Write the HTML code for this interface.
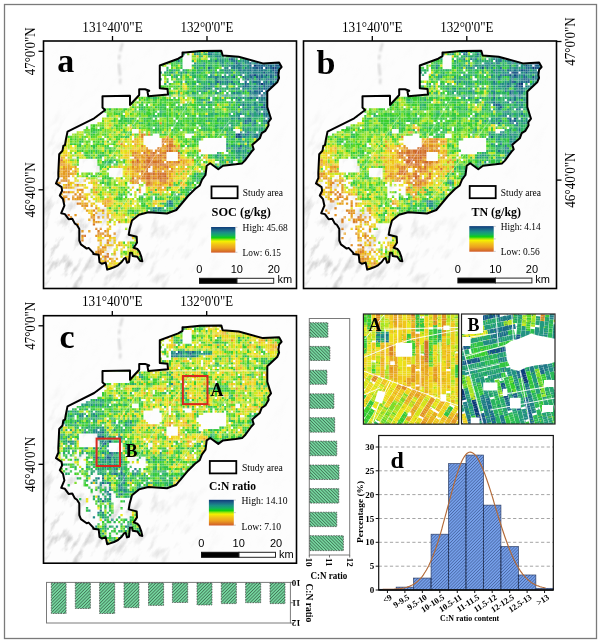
<!DOCTYPE html><html><head><meta charset="utf-8"><title>SOC TN C:N maps</title><style>html,body{margin:0;padding:0;background:#fff;}svg{display:block;will-change:transform;}</style></head><body>
<svg width="600" height="644" viewBox="0 0 600 644">
<defs>
<filter id="soft" x="-5%" y="-5%" width="110%" height="110%"><feGaussianBlur stdDeviation="0.65"/></filter>
<filter id="hs" x="-5%" y="-5%" width="110%" height="110%"><feGaussianBlur stdDeviation="0.7"/></filter>
<filter id="hs2" x="-50%" y="-10%" width="200%" height="120%"><feGaussianBlur stdDeviation="1"/></filter>
<filter id="soft2" x="-5%" y="-5%" width="110%" height="110%"><feGaussianBlur stdDeviation="0.4"/></filter>
<pattern id="rgrid" patternUnits="userSpaceOnUse" width="5.6" height="5.3"><path d="M0 0.3H5.6M0.3 0V5.3" stroke="#fff" stroke-width="0.6" stroke-opacity="0.4"/></pattern>
<clipPath id="frameclip"><rect x="44" y="41.5" width="252" height="246.5"/></clipPath>
<filter id="hillf" filterUnits="userSpaceOnUse" x="-60" y="-60" width="460" height="460"><feTurbulence type="fractalNoise" baseFrequency="0.05 0.13" numOctaves="4" seed="8"/><feColorMatrix type="matrix" values="0 0 0 0 0.5  0 0 0 0 0.5  0 0 0 0 0.5  -3 0 0 0 1.45"/><feGaussianBlur stdDeviation="0.4"/></filter>
<radialGradient id="hm" cx="62" cy="268" r="160" gradientUnits="userSpaceOnUse"><stop offset="0" stop-color="#fff" stop-opacity="0.85"/><stop offset="0.5" stop-color="#fff" stop-opacity="0.5"/><stop offset="1" stop-color="#fff" stop-opacity="0.03"/></radialGradient>
<mask id="hmask" maskUnits="userSpaceOnUse" x="0" y="0" width="600" height="644"><rect x="0" y="0" width="600" height="644" fill="url(#hm)"/></mask>
<clipPath id="clipmap"><path d="M182.5,52.6 L185.0,52.5 L200.0,51.0 L221.3,50.7 L222.7,55.5 L238.7,56.8 L262.9,63.4 L279.1,62.6 L281.6,67.1 L279.1,69.8 L278.4,74.8 L279.1,77.9 L277.2,82.3 L267.3,91.6 L267.3,107.1 L269.8,115.0 L271.0,118.7 L268.2,122.4 L268.6,125.2 L265.4,130.8 L261.7,133.2 L259.8,138.3 L252.3,144.8 L253.7,149.4 L251.4,151.8 L244.9,160.6 L242.1,163.4 L235.6,164.3 L223.0,165.7 L218.3,169.2 L210.2,163.3 L206.7,165.7 L205.5,175.0 L202.0,179.7 L199.7,185.5 L195.0,189.0 L188.0,196.0 L182.2,203.0 L176.3,210.0 L167.0,213.5 L148.3,212.3 L139.0,214.7 L132.0,220.5 L129.7,228.7 L128.7,234.7 L136.7,236.7 L137.0,242.7 L133.7,247.7 L137.3,249.0 L139.3,251.3 L141.3,256.7 L142.3,261.3 L140.0,260.7 L137.3,256.7 L132.7,256.0 L132.0,252.7 L130.0,252.7 L129.7,255.3 L129.0,262.0 L127.0,262.7 L125.7,258.0 L124.0,258.7 L121.7,262.0 L118.0,265.3 L114.0,267.3 L110.0,268.7 L107.2,269.6 L105.7,262.6 L101.8,263.8 L99.5,262.2 L98.7,254.8 L93.3,254.1 L93.3,252.9 L88.6,247.9 L86.7,248.6 L80.9,244.4 L79.3,240.5 L79.3,228.9 L77.0,225.0 L74.7,223.4 L72.3,218.8 L68.6,219.2 L64.9,214.1 L61.2,213.2 L64.4,205.7 L63.0,199.2 L59.8,195.5 L62.1,190.8 L61.6,187.1 L56.0,183.4 L58.4,177.8 L58.3,173.3 L59.2,154.2 L62.5,150.8 L63.3,145.8 L65.0,145.0 L65.8,140.0 L67.5,131.7 L94.2,118.3 L104.2,110.8 L105.0,110.0 L102.5,107.5 L102.5,96.3 L130.0,95.8 L130.0,105.0 L139.2,95.0 L139.2,89.2 L145.0,89.2 L149.2,90.8 L147.5,91.7 L148.3,96.3 L168.0,94.6 L167.5,89.0 L159.8,88.2 L159.8,65.5 L178.2,58.7 L182.5,56.1 Z"/></clipPath>
<linearGradient id="cbar" x1="0" y1="0" x2="0" y2="1"><stop offset="0" stop-color="#0d3a78"/><stop offset="0.1" stop-color="#1c6088"/><stop offset="0.22" stop-color="#1a9086"/><stop offset="0.33" stop-color="#14b060"/><stop offset="0.42" stop-color="#10d010"/><stop offset="0.5" stop-color="#a8e808"/><stop offset="0.56" stop-color="#f4f000"/><stop offset="0.68" stop-color="#f2c418"/><stop offset="0.82" stop-color="#eca020"/><stop offset="1" stop-color="#cf5a2a"/></linearGradient>
<pattern id="hg1" patternUnits="userSpaceOnUse" width="2.3" height="2.3" patternTransform="rotate(45)"><rect width="2.3" height="2.3" fill="#74d69e"/><rect width="0.7" height="2.3" fill="#3d6a50"/></pattern>
<pattern id="hg2" patternUnits="userSpaceOnUse" width="2.3" height="2.3" patternTransform="rotate(-45)"><rect width="2.3" height="2.3" fill="#74d69e"/><rect width="0.7" height="2.3" fill="#3d6a50"/></pattern>
<pattern id="hb" patternUnits="userSpaceOnUse" width="2.2" height="2.2" patternTransform="rotate(45)"><rect width="2.2" height="2.2" fill="#76a0ea"/><rect width="0.65" height="2.2" fill="#43619e"/></pattern>
</defs>
<rect x="0" y="0" width="600" height="644" fill="#fff"/>
<rect x="4.5" y="4.5" width="592" height="634" fill="none" stroke="#7a7a7a" stroke-width="1.3"/>
<g transform="translate(0,0)">
<rect x="43.5" y="41" width="253" height="247.5" fill="#fdfdfd"/>
<g clip-path="url(#frameclip)"><g mask="url(#hmask)"><rect x="-60" y="-60" width="460" height="460" filter="url(#hillf)" transform="rotate(-58 170 165)"/></g></g>
<path d="M122.5,43 C120,52 118.5,58 119,66 C119.5,72 121,78 120,84" fill="none" stroke="#a8a8a8" stroke-width="2" stroke-opacity="0.5" stroke-dasharray="9,3,5,4,12,3" filter="url(#hs2)"/>
<g clip-path="url(#clipmap)"><g filter="url(#soft)"><g transform="translate(56.00,51.85) scale(2.3,2.3)" fill="none" stroke-width="1">
<path stroke="#0b3878" d="M94 7h1"/>
<path stroke="#0b3878" d="M86 6h1M89 14h1M79 36h1"/>
<path stroke="#0b3878" d="M95 7h1M98 7h1"/>
<path stroke="#0b3878" d="M96 9h1M78 37h1"/>
<path stroke="#0b3878" d="M95 5h1"/>
<path stroke="#0e3f7b" d="M87 7h1M95 9h1M86 10h1M96 12h1M89 19h1"/>
<path stroke="#11477f" d="M78 5h1M97 6h1M91 10h1M87 11h1M88 12h1M94 14h1M78 36h1"/>
<path stroke="#144e82" d="M97 5h1M91 7h1M90 9h1M96 11h1M88 16h1"/>
<path stroke="#185585" d="M75 3h1M94 8h1M85 10h1M77 11h1M83 12h1M91 17h1M87 20h1M89 24h1M90 24h1M92 24h1M79 37h1M80 37h1M80 41h1"/>
<path stroke="#1b5d89" d="M76 3h1M82 3h1M84 6h1M87 6h1M88 6h1M92 6h1M95 6h1M96 6h1M89 7h1M95 8h1M84 10h1M95 10h1M70 13h1M91 13h1M93 13h1M82 14h1M90 14h1M82 15h1M90 15h1M92 15h1M93 15h1M87 17h1M88 18h1M91 19h1M92 26h1M79 42h1M49 65h1"/>
<path stroke="#1e648c" d="M66 1h1M84 5h1M87 5h1M89 6h1M90 6h1M93 6h1M66 7h1M88 7h1M93 7h1M89 10h1M93 10h1M72 11h1M89 11h1M93 11h1M95 12h1M88 14h1M81 15h1M90 16h1M84 17h1M86 17h1M89 17h1M90 23h1M90 27h1M92 29h1M82 30h1M84 30h1M82 31h1M82 36h1M87 39h1M75 42h1"/>
<path stroke="#1f6c8a" d="M84 3h1M78 4h1M85 4h1M88 4h1M90 5h1M92 5h1M80 6h1M85 7h1M86 7h1M97 7h1M84 8h1M88 8h1M97 8h1M84 11h1M85 11h1M88 11h1M85 12h1M92 12h1M82 13h1M93 14h1M83 15h1M92 16h1M78 20h1M84 20h1M85 20h1M90 20h1M91 21h1M66 22h1M81 23h1M91 25h1M91 28h1M91 30h1M92 31h1M83 35h1M80 36h1M87 36h1M87 37h1"/>
<path stroke="#1f7389" d="M66 0h1M67 1h1M53 4h1M77 4h1M94 5h1M75 6h1M77 6h1M77 7h1M79 7h1M82 7h1M96 7h1M80 8h1M86 8h1M89 8h1M96 8h1M80 10h1M87 10h1M96 10h1M81 11h1M91 12h1M94 12h1M71 13h1M74 13h1M76 13h1M85 13h1M86 13h1M87 13h1M88 13h1M83 14h1M86 15h1M88 15h1M66 16h1M91 16h1M93 16h1M71 17h1M88 17h1M77 18h1M85 18h1M87 18h1M86 19h1M80 27h1M88 27h1M93 28h1M79 29h1M83 29h1M84 29h1M93 29h1M86 31h1M85 32h1M80 42h1M49 66h1"/>
<path stroke="#207b87" d="M83 3h1M69 4h1M93 5h1M72 6h1M84 7h1M92 7h1M75 8h1M79 8h1M83 8h1M85 8h1M87 8h1M93 8h1M68 9h1M92 9h1M93 9h1M88 10h1M94 10h1M68 11h1M82 11h1M82 12h1M93 12h1M77 14h1M87 14h1M91 14h1M70 16h1M78 16h1M81 17h1M86 18h1M91 18h1M84 19h1M90 19h1M79 21h1M88 22h1M89 22h1M90 22h1M91 24h1M82 25h1M86 25h1M87 25h1M87 26h1M90 26h1M85 28h1M92 28h1M83 36h1M89 36h1M86 37h1M83 44h1M81 46h1M42 69h1"/>
<path stroke="#208386" d="M54 1h1M70 2h1M71 2h1M78 2h1M77 3h1M82 4h1M79 5h1M82 5h1M88 5h1M89 5h1M96 5h1M78 6h1M79 6h1M91 6h1M94 6h1M74 7h1M78 7h1M80 7h1M73 8h1M90 8h1M91 8h1M56 9h1M74 9h1M81 9h1M85 9h1M86 9h1M87 9h1M88 9h1M94 9h1M69 11h1M70 11h1M94 11h1M69 12h1M87 12h1M69 13h1M67 14h1M71 14h1M92 14h1M68 15h1M91 15h1M81 16h1M87 16h1M89 16h1M90 18h1M73 19h1M74 19h1M87 19h1M89 20h1M89 21h1M91 22h1M83 23h1M79 24h1M84 24h1M90 25h1M85 27h1M91 27h1M92 27h1M90 28h1M83 30h1M90 30h1M85 31h1M80 35h1M84 35h1M86 36h1M89 37h1M88 38h1M74 40h1M74 42h1M83 42h1M78 43h1M78 46h1M50 66h1"/>
<path stroke="#218a84" d="M67 0h1M68 0h1M70 0h1M60 1h1M77 2h1M71 4h1M76 4h1M83 4h1M60 5h1M64 5h1M80 5h1M83 5h1M86 5h1M61 7h1M76 7h1M81 8h1M82 8h1M50 9h1M61 9h1M83 9h1M89 9h1M75 10h1M77 10h1M83 10h1M92 10h1M73 11h1M90 11h1M91 11h1M75 13h1M79 13h1M90 13h1M94 13h1M69 14h1M74 14h1M84 15h1M94 15h1M65 16h1M83 16h1M64 17h1M84 18h1M76 19h1M79 19h1M80 20h1M83 20h1M88 20h1M63 21h1M86 22h1M86 23h1M81 24h1M83 25h1M88 26h1M91 26h1M75 27h1M84 27h1M79 28h1M76 29h1M86 30h1M81 31h1M83 31h1M81 33h1M89 35h1M85 37h1M77 42h1M79 43h1M70 45h1M44 68h1M45 68h1M52 68h1M44 69h1M45 70h1"/>
<path stroke="#229283" d="M68 1h1M69 2h1M70 3h1M72 4h1M81 4h1M72 5h1M74 5h1M91 5h1M76 6h1M81 6h1M83 6h1M64 7h1M73 7h1M83 7h1M51 8h1M77 8h1M45 9h1M80 9h1M84 9h1M91 9h1M51 10h1M67 10h1M66 11h1M67 11h1M83 11h1M73 12h1M74 12h1M72 13h1M95 13h1M65 15h1M67 15h1M69 16h1M79 16h1M85 16h1M86 16h1M83 17h1M78 18h1M79 18h1M80 19h1M66 20h1M85 23h1M87 23h1M81 25h1M92 25h1M84 26h1M87 27h1M90 31h1M89 33h1M88 34h1M74 36h1M85 36h1M81 37h1M82 37h1M78 41h1M81 43h1M81 45h1M79 46h1M82 46h1M72 47h1M81 47h1M82 47h1M63 56h1M48 65h1M42 68h1"/>
<path stroke="#23997e" d="M53 2h1M79 2h1M71 3h1M75 4h1M80 4h1M71 5h1M77 5h1M85 5h1M63 6h1M64 6h1M67 7h1M48 8h1M63 8h1M75 9h1M76 9h1M82 9h1M90 10h1M76 11h1M84 12h1M89 12h1M66 13h1M73 13h1M68 14h1M73 14h1M95 14h1M80 15h1M85 15h1M87 15h1M76 16h1M77 16h1M82 16h1M85 17h1M59 18h1M69 18h1M68 19h1M72 19h1M82 19h1M85 19h1M81 20h1M91 20h1M88 21h1M90 21h1M67 22h1M81 22h1M80 23h1M84 23h1M83 24h1M86 24h1M87 24h1M88 24h1M78 26h1M80 26h1M78 27h1M79 27h1M65 28h1M78 28h1M82 29h1M92 30h1M91 31h1M76 33h1M83 33h1M81 34h1M85 35h1M88 35h1M83 37h1M88 37h1M80 39h1M83 39h1M83 40h1M76 41h1M82 41h1M78 42h1M82 42h1M82 43h1M71 45h1M75 48h1M71 49h1M71 51h1M61 53h1M50 65h1M48 66h1M48 67h1M50 67h1M53 67h1M43 68h1M41 70h1M46 70h1"/>
<path stroke="#25a077" d="M61 1h1M70 1h1M72 1h1M67 2h1M76 2h1M72 3h1M67 4h1M86 4h1M62 6h1M66 8h1M68 8h1M74 8h1M92 8h1M54 9h1M70 9h1M73 9h1M78 9h1M54 10h1M51 11h1M71 12h1M78 12h1M90 12h1M56 13h1M67 13h1M92 13h1M96 13h1M80 14h1M81 14h1M85 14h1M64 15h1M74 15h1M64 16h1M74 16h1M61 17h1M68 17h1M78 17h1M80 18h1M60 19h1M82 20h1M86 20h1M71 21h1M78 22h1M79 22h1M83 22h1M91 23h1M81 26h1M86 26h1M86 27h1M86 28h1M87 28h1M88 28h1M77 29h1M81 29h1M90 29h1M76 32h1M84 33h1M86 33h1M75 34h1M82 34h1M83 34h1M90 34h1M74 35h1M82 35h1M81 36h1M88 36h1M80 38h1M81 39h1M77 41h1M81 41h1M84 42h1M80 43h1M78 44h1M79 44h1M81 44h1M84 44h1M75 45h1M79 45h1M70 46h1M76 49h1M71 50h1M60 54h1M61 56h1M46 66h1M49 67h1M45 69h1M43 70h1"/>
<path stroke="#27a670" d="M61 0h1M55 1h1M62 1h1M69 1h1M71 1h1M68 2h1M52 3h1M73 3h1M61 5h1M67 6h1M82 6h1M55 8h1M47 9h1M49 9h1M62 9h1M78 10h1M82 10h1M92 11h1M61 12h1M70 12h1M75 12h1M48 13h1M61 13h1M62 13h1M65 13h1M84 13h1M57 14h1M64 14h1M76 14h1M66 15h1M89 15h1M63 16h1M67 16h1M73 16h1M62 17h1M65 17h1M70 18h1M53 19h1M75 19h1M71 20h1M73 20h1M77 20h1M84 21h1M63 22h1M65 22h1M75 22h1M80 22h1M85 22h1M87 22h1M78 23h1M82 23h1M63 24h1M66 24h1M78 25h1M84 25h1M89 25h1M45 26h1M77 26h1M69 27h1M82 27h1M66 28h1M77 28h1M82 28h1M70 29h1M71 29h1M87 29h1M65 30h1M70 30h1M81 30h1M85 30h1M75 31h1M76 31h1M73 32h1M86 32h1M71 33h1M72 33h1M75 33h1M88 33h1M76 34h1M86 34h1M90 35h1M76 36h1M84 36h1M77 38h1M83 41h1M76 43h1M68 45h1M78 45h1M80 45h1M76 46h1M69 50h1M64 53h1M64 54h1M61 55h1M62 56h1M51 62h1M53 62h1M53 64h1M55 65h1M54 67h1"/>
<path stroke="#28ad69" d="M54 0h1M56 0h1M58 0h1M60 0h1M72 0h1M66 2h1M53 3h1M67 3h1M81 3h1M50 4h1M63 4h1M66 4h1M68 4h1M70 4h1M73 4h1M61 6h1M74 6h1M71 8h1M72 8h1M53 9h1M59 9h1M67 9h1M59 10h1M68 10h1M73 10h1M60 11h1M74 11h1M75 11h1M86 11h1M45 12h1M59 14h1M60 14h1M63 14h1M72 14h1M84 14h1M61 15h1M71 16h1M76 18h1M49 19h1M66 19h1M77 19h1M76 20h1M62 21h1M64 21h1M68 21h1M83 21h1M82 22h1M75 23h1M54 24h1M77 24h1M68 25h1M88 25h1M68 26h1M82 26h1M85 26h1M67 27h1M68 27h1M75 28h1M76 28h1M83 28h1M84 28h1M74 29h1M78 29h1M86 29h1M93 30h1M44 32h1M70 32h1M78 32h1M88 32h1M90 32h1M64 33h1M85 34h1M89 34h1M72 35h1M86 35h1M75 37h1M61 38h1M74 38h1M85 42h1M74 43h1M85 43h1M70 44h1M82 44h1M72 46h1M76 47h1M22 48h1M73 48h1M76 48h1M69 49h1M63 55h1M57 61h1M46 69h1M47 69h1M34 70h1"/>
<path stroke="#2ab361" d="M64 0h1M69 0h1M71 0h1M64 1h1M65 1h1M63 2h1M72 2h1M80 2h1M68 3h1M74 3h1M78 3h1M80 3h1M52 4h1M67 5h1M69 5h1M75 5h1M81 5h1M59 6h1M60 6h1M66 6h1M68 7h1M50 8h1M56 8h1M61 8h1M62 8h1M78 8h1M48 10h1M49 10h1M58 10h1M60 10h1M79 10h1M52 11h1M54 11h1M65 11h1M71 11h1M95 11h1M66 12h1M68 12h1M76 12h1M81 12h1M51 13h1M54 13h1M63 13h1M47 14h1M65 14h1M78 14h1M62 15h1M71 15h1M79 15h1M72 16h1M84 16h1M63 17h1M60 18h1M57 19h1M58 19h1M42 20h1M61 20h1M61 21h1M86 21h1M76 22h1M84 22h1M68 23h1M74 24h1M75 24h1M37 25h1M51 25h1M38 26h1M66 26h1M76 26h1M45 27h1M52 27h1M81 27h1M89 27h1M42 28h1M45 28h1M47 28h1M62 28h1M64 28h1M73 29h1M88 29h1M66 30h1M74 30h1M77 30h1M79 30h1M36 31h1M78 31h1M79 31h1M84 31h1M51 32h1M63 32h1M69 32h1M77 32h1M81 32h1M92 32h1M63 33h1M69 33h1M82 33h1M85 33h1M87 33h1M50 34h1M64 34h1M87 34h1M16 35h1M76 38h1M79 38h1M83 38h1M87 38h1M77 40h1M81 40h1M74 41h1M79 41h1M77 43h1M84 43h1M77 44h1M80 44h1M69 45h1M83 45h1M15 46h1M69 46h1M79 47h1M23 48h1M71 48h1M77 49h1M70 50h1M70 51h1M63 53h1M58 57h1M58 60h1M41 61h1M54 62h1M37 63h1M48 63h1M54 66h1M47 67h1M41 68h1M51 68h1M41 69h1M43 69h1"/>
<path stroke="#2cba5a" d="M62 0h1M62 2h1M59 4h1M52 5h1M54 5h1M63 5h1M69 6h1M71 6h1M73 6h1M48 7h1M60 7h1M81 7h1M51 9h1M55 9h1M58 9h1M79 9h1M61 11h1M62 12h1M65 12h1M72 12h1M59 13h1M64 13h1M68 13h1M77 13h1M78 13h1M86 14h1M59 15h1M58 16h1M60 16h1M57 17h1M73 17h1M76 17h1M79 17h1M53 18h1M63 18h1M67 18h1M74 18h1M59 19h1M71 19h1M78 19h1M43 20h1M51 20h1M68 20h1M79 20h1M70 21h1M72 21h1M78 21h1M82 21h1M61 22h1M62 22h1M68 22h1M70 22h1M46 23h1M63 23h1M37 24h1M43 24h1M53 24h1M56 24h1M23 25h1M36 25h1M45 25h1M56 25h1M64 25h1M75 25h1M46 26h1M70 27h1M43 28h1M67 28h1M68 28h1M33 29h1M38 29h1M58 29h1M66 29h1M80 29h1M85 29h1M31 30h1M59 30h1M67 30h1M72 30h1M73 30h1M76 30h1M80 30h1M74 31h1M77 31h1M87 31h1M89 31h1M65 32h1M74 32h1M44 33h1M90 33h1M84 34h1M59 35h1M77 35h1M66 36h1M30 37h1M84 37h1M62 38h1M75 38h1M10 39h1M74 39h1M78 39h1M79 39h1M57 41h1M85 41h1M18 45h1M77 45h1M82 45h1M25 47h1M21 48h1M24 48h1M26 48h1M69 51h1M60 53h1M65 54h1M22 57h1M22 58h1M56 59h1M44 62h1M41 63h1M43 63h1M43 64h1M51 64h1M54 65h1M46 68h1M48 69h1M52 69h1M42 70h1M33 72h1M35 83h1M33 84h1"/>
<path stroke="#2fc04e" d="M74 2h1M75 2h1M54 3h1M51 4h1M61 4h1M64 4h1M74 4h1M79 4h1M62 5h1M68 5h1M73 5h1M76 5h1M54 6h1M53 8h1M59 8h1M64 8h1M60 9h1M71 9h1M72 9h1M64 10h1M65 10h1M70 10h1M59 11h1M52 12h1M77 12h1M79 12h1M86 12h1M54 14h1M79 14h1M53 15h1M58 15h1M63 15h1M45 16h1M61 16h1M75 16h1M67 17h1M80 17h1M51 18h1M81 18h1M22 19h1M27 19h1M63 19h1M32 20h1M41 20h1M60 20h1M65 20h1M48 21h1M65 21h1M80 21h1M85 21h1M37 22h1M36 23h1M56 23h1M65 23h1M88 23h1M89 23h1M45 24h1M46 24h1M64 24h1M67 24h1M82 24h1M62 25h1M65 25h1M85 25h1M47 26h1M60 26h1M27 27h1M57 27h1M66 27h1M36 28h1M40 28h1M59 28h1M30 29h1M32 29h1M57 29h1M62 29h1M64 29h1M75 29h1M71 30h1M75 30h1M89 30h1M37 31h1M40 31h1M33 32h1M40 32h1M71 32h1M83 32h1M84 32h1M41 33h1M53 33h1M73 33h1M92 33h1M43 34h1M44 34h1M57 34h1M65 34h1M66 34h1M72 34h1M73 34h1M74 34h1M45 35h1M58 35h1M61 35h1M75 35h1M76 35h1M32 36h1M69 36h1M75 36h1M31 37h1M66 37h1M71 37h1M77 37h1M82 38h1M82 39h1M10 40h1M20 40h1M80 40h1M10 41h1M16 41h1M75 41h1M16 42h1M81 42h1M17 43h1M21 43h1M23 43h1M15 44h1M71 44h1M19 45h1M20 45h1M61 45h1M76 45h1M19 46h1M66 46h1M68 46h1M71 46h1M71 47h1M74 47h1M75 47h1M20 48h1M61 48h1M21 49h1M26 49h1M72 49h1M72 50h1M15 54h1M61 54h1M62 54h1M60 55h1M64 55h1M20 57h1M51 58h1M57 59h1M60 59h1M54 60h1M56 60h1M59 61h1M27 62h1M56 62h1M58 62h1M52 63h1M56 63h1M57 63h1M52 65h1M55 66h1M39 67h1M49 69h1M31 70h1M44 70h1M49 70h1"/>
<path stroke="#32c543" d="M54 4h1M65 4h1M87 4h1M50 5h1M53 5h1M65 5h1M50 6h1M54 7h1M62 7h1M52 8h1M67 8h1M76 8h1M48 9h1M57 9h1M64 9h1M52 10h1M61 10h1M71 10h1M57 11h1M62 11h1M64 11h1M53 12h1M56 12h1M67 12h1M58 13h1M49 14h1M51 15h1M58 17h1M59 17h1M69 17h1M72 17h1M75 17h1M49 18h1M56 18h1M57 18h1M61 18h1M66 18h1M71 18h1M21 19h1M24 19h1M62 19h1M39 21h1M42 21h1M50 21h1M53 21h1M76 21h1M33 22h1M52 22h1M71 22h1M47 23h1M61 23h1M66 23h1M77 23h1M38 24h1M47 24h1M50 24h1M52 24h1M60 24h1M78 24h1M47 25h1M54 25h1M67 25h1M70 25h1M76 25h1M80 25h1M43 26h1M55 26h1M62 26h1M65 26h1M18 27h1M56 27h1M72 27h1M77 27h1M22 28h1M28 28h1M29 28h1M41 28h1M49 28h1M54 28h1M28 29h1M29 29h1M31 29h1M39 29h1M40 29h1M41 29h1M43 29h1M55 29h1M59 29h1M63 29h1M72 29h1M89 29h1M27 30h1M28 30h1M30 30h1M38 30h1M42 30h1M53 30h1M62 30h1M63 30h1M68 30h1M88 30h1M48 31h1M52 31h1M53 31h1M54 31h1M57 31h1M60 31h1M61 31h1M62 31h1M63 31h1M64 31h1M73 31h1M9 32h1M42 32h1M43 32h1M46 32h1M48 32h1M49 32h1M54 32h1M55 32h1M58 32h1M64 32h1M72 32h1M82 32h1M87 32h1M20 33h1M36 33h1M48 33h1M65 33h1M70 33h1M74 33h1M16 34h1M17 34h1M29 34h1M41 34h1M51 34h1M55 34h1M71 34h1M29 35h1M31 35h1M43 35h1M47 35h1M70 35h1M15 36h1M62 36h1M77 36h1M28 37h1M53 37h1M61 37h1M69 37h1M11 38h1M19 38h1M60 38h1M85 38h1M22 39h1M60 39h1M77 39h1M58 40h1M75 40h1M78 40h1M21 42h1M22 42h1M83 43h1M17 44h1M20 44h1M58 44h1M75 44h1M12 45h1M13 45h1M59 45h1M66 45h1M73 45h1M74 45h1M84 45h1M9 46h1M14 46h1M17 46h1M67 46h1M23 47h1M24 47h1M70 47h1M29 48h1M22 49h1M25 49h1M63 54h1M22 55h1M59 55h1M62 55h1M20 56h1M60 56h1M59 57h1M61 57h1M52 58h1M58 58h1M62 58h1M23 59h1M54 59h1M43 60h1M57 60h1M29 62h1M27 63h1M51 63h1M44 64h1M46 64h1M41 65h1M52 66h1M23 68h1M39 68h1M40 68h1M25 69h1M31 69h1M32 69h1M35 69h1M39 70h1M36 89h1"/>
<path stroke="#35ca38" d="M62 3h1M69 3h1M49 4h1M62 4h1M46 5h1M51 5h1M66 5h1M51 6h1M68 6h1M70 6h1M52 7h1M69 7h1M49 8h1M65 8h1M63 9h1M69 9h1M47 10h1M62 10h1M63 10h1M54 12h1M57 12h1M58 12h1M63 12h1M53 13h1M75 14h1M48 15h1M77 15h1M51 16h1M62 16h1M77 17h1M50 18h1M64 18h1M82 18h1M23 19h1M28 19h1M61 19h1M67 19h1M39 20h1M40 20h1M44 20h1M62 20h1M69 20h1M75 20h1M36 21h1M45 21h1M46 21h1M49 21h1M69 21h1M32 22h1M42 22h1M45 22h1M51 22h1M60 22h1M73 22h1M37 23h1M39 23h1M45 23h1M50 23h1M51 23h1M55 23h1M57 23h1M62 23h1M64 23h1M67 23h1M33 24h1M36 24h1M41 24h1M73 24h1M85 24h1M21 25h1M29 25h1M30 25h1M42 25h1M46 25h1M49 25h1M52 25h1M55 25h1M61 25h1M63 25h1M66 25h1M28 26h1M29 26h1M34 26h1M36 26h1M42 26h1M49 26h1M61 26h1M63 26h1M67 26h1M71 26h1M83 26h1M26 27h1M38 27h1M42 27h1M46 27h1M47 27h1M54 27h1M71 27h1M73 27h1M74 27h1M44 28h1M48 28h1M51 28h1M58 28h1M60 28h1M63 28h1M73 28h1M89 28h1M48 29h1M67 29h1M68 29h1M24 30h1M32 30h1M34 30h1M39 30h1M41 30h1M48 30h1M51 30h1M54 30h1M61 30h1M69 30h1M78 30h1M28 31h1M29 31h1M31 31h1M32 31h1M38 31h1M43 31h1M44 31h1M46 31h1M58 31h1M59 31h1M68 31h1M71 31h1M72 31h1M25 32h1M30 32h1M39 32h1M52 32h1M53 32h1M59 32h1M67 32h1M79 32h1M89 32h1M24 33h1M28 33h1M34 33h1M40 33h1M43 33h1M46 33h1M66 33h1M15 34h1M19 34h1M42 34h1M45 34h1M48 34h1M53 34h1M63 34h1M68 34h1M69 34h1M15 35h1M17 35h1M41 35h1M51 35h1M52 35h1M57 35h1M67 35h1M69 35h1M46 36h1M47 36h1M65 36h1M73 36h1M22 37h1M50 37h1M62 37h1M63 37h1M64 37h1M74 37h1M59 38h1M11 39h1M57 39h1M76 39h1M84 39h1M6 40h1M19 40h1M61 40h1M76 40h1M86 40h1M9 41h1M12 41h1M15 41h1M21 41h1M58 41h1M23 42h1M25 42h1M76 42h1M11 43h1M14 43h1M12 44h1M19 44h1M54 44h1M57 44h1M76 44h1M14 45h1M67 45h1M72 45h1M18 46h1M24 46h1M62 46h1M74 46h1M75 46h1M80 46h1M83 46h1M29 47h1M69 47h1M73 47h1M65 48h1M72 48h1M79 48h1M80 48h1M20 49h1M61 49h1M62 49h1M73 49h1M21 50h1M19 51h1M62 53h1M13 54h1M17 54h1M21 54h1M58 54h1M21 55h1M23 55h1M59 56h1M51 57h1M53 57h1M57 57h1M28 59h1M48 59h1M49 59h1M35 60h1M31 61h1M50 61h1M51 61h1M24 62h1M28 62h1M39 62h1M28 63h1M49 63h1M53 63h1M26 64h1M36 64h1M41 64h1M45 64h1M52 64h1M55 64h1M37 65h1M38 66h1M45 66h1M47 66h1M53 66h1M37 67h1M38 67h1M51 67h1M28 68h1M48 68h1M53 68h1M26 69h1M35 70h1M47 70h1M34 83h1M33 85h1M36 86h1M33 89h1"/>
<path stroke="#38d02c" d="M57 0h1M59 0h1M54 2h1M48 5h1M70 5h1M52 6h1M65 6h1M63 7h1M70 7h1M57 8h1M60 8h1M69 8h1M53 10h1M56 10h1M76 10h1M50 11h1M56 11h1M78 11h1M48 12h1M59 12h1M57 13h1M60 13h1M58 14h1M66 14h1M45 15h1M46 15h1M57 15h1M69 15h1M46 16h1M48 16h1M49 16h1M52 16h1M54 16h1M59 16h1M48 17h1M53 17h1M82 17h1M48 18h1M31 19h1M46 19h1M83 19h1M37 20h1M46 20h1M47 20h1M32 21h1M38 21h1M43 21h1M47 21h1M73 21h1M40 22h1M43 22h1M47 22h1M53 22h1M58 22h1M72 22h1M74 22h1M42 23h1M44 23h1M58 23h1M59 23h1M60 23h1M69 23h1M79 23h1M39 24h1M44 24h1M55 24h1M61 24h1M72 24h1M76 24h1M26 25h1M34 25h1M38 25h1M40 25h1M53 25h1M58 25h1M60 25h1M71 25h1M77 25h1M19 26h1M21 26h1M25 26h1M37 26h1M39 26h1M40 26h1M51 26h1M53 26h1M56 26h1M64 26h1M75 26h1M25 27h1M32 27h1M36 27h1M39 27h1M40 27h1M41 27h1M44 27h1M49 27h1M51 27h1M58 27h1M62 27h1M46 28h1M52 28h1M53 28h1M71 28h1M25 29h1M52 29h1M53 29h1M56 29h1M60 29h1M61 29h1M25 30h1M29 30h1M35 30h1M55 30h1M57 30h1M64 30h1M27 31h1M41 31h1M51 31h1M67 31h1M69 31h1M70 31h1M16 32h1M26 32h1M28 32h1M41 32h1M50 32h1M60 32h1M66 32h1M68 32h1M13 33h1M15 33h1M16 33h1M19 33h1M26 33h1M51 33h1M52 33h1M54 33h1M57 33h1M61 33h1M68 33h1M77 33h1M80 33h1M91 33h1M18 34h1M58 34h1M59 34h1M62 34h1M67 34h1M12 35h1M25 35h1M28 35h1M30 35h1M32 35h1M71 35h1M16 36h1M21 36h1M27 36h1M34 36h1M41 36h1M45 36h1M51 36h1M70 36h1M5 37h1M12 37h1M15 37h1M26 37h1M29 37h1M54 37h1M59 37h1M6 38h1M8 38h1M26 38h1M27 38h1M54 38h1M56 38h1M84 38h1M14 39h1M16 39h1M18 39h1M20 39h1M25 39h1M55 39h1M56 39h1M58 39h1M61 39h1M75 39h1M85 39h1M7 40h1M8 40h1M17 40h1M18 40h1M24 40h1M25 40h1M54 40h1M56 40h1M60 40h1M85 40h1M17 41h1M22 41h1M54 41h1M55 41h1M59 41h1M9 43h1M15 43h1M24 43h1M60 43h1M8 44h1M13 44h1M23 44h1M61 44h1M21 45h1M22 45h1M25 45h1M57 45h1M58 45h1M63 45h1M61 46h1M77 46h1M9 47h1M18 47h1M22 47h1M60 47h1M77 47h1M80 47h1M64 48h1M9 49h1M18 49h1M19 49h1M23 49h1M74 49h1M19 50h1M20 50h1M22 51h1M14 53h1M18 53h1M19 53h1M16 54h1M22 54h1M59 54h1M20 55h1M28 55h1M23 56h1M57 56h1M19 57h1M30 57h1M57 58h1M60 58h1M29 59h1M58 59h1M24 60h1M30 60h1M48 60h1M55 60h1M60 60h1M19 61h1M27 61h1M29 61h1M54 61h1M55 61h1M56 61h1M32 62h1M38 62h1M43 62h1M50 62h1M57 62h1M30 63h1M36 63h1M45 63h1M50 63h1M27 64h1M28 64h1M37 64h1M40 64h1M37 66h1M51 66h1M27 67h1M33 69h1M39 69h1M33 70h1M37 70h1M50 70h1M35 72h1M29 83h1M34 85h1M29 87h1M34 89h1M36 90h1"/>
<path stroke="#5bd72b" d="M55 0h1M61 3h1M46 6h1M50 7h1M53 7h1M65 7h1M66 9h1M63 11h1M80 11h1M50 12h1M64 12h1M52 13h1M70 14h1M47 15h1M49 15h1M50 15h1M52 15h1M54 15h1M60 15h1M54 17h1M60 17h1M55 18h1M65 18h1M68 18h1M83 18h1M20 19h1M26 19h1M29 19h1M35 19h1M41 19h1M54 19h1M55 19h1M70 19h1M34 20h1M36 20h1M53 20h1M55 20h1M59 20h1M63 20h1M70 20h1M74 20h1M40 21h1M51 21h1M52 21h1M60 21h1M66 21h1M35 22h1M39 22h1M41 22h1M46 22h1M48 22h1M49 22h1M50 22h1M69 22h1M77 22h1M49 23h1M53 23h1M71 23h1M34 24h1M49 24h1M51 24h1M59 24h1M20 25h1M22 25h1M25 25h1M39 25h1M41 25h1M44 25h1M48 25h1M57 25h1M69 25h1M74 25h1M23 26h1M26 26h1M27 26h1M33 26h1M41 26h1M48 26h1M54 26h1M57 26h1M58 26h1M70 26h1M72 26h1M74 26h1M79 26h1M28 27h1M35 27h1M48 27h1M55 27h1M60 27h1M63 27h1M64 27h1M83 27h1M24 28h1M55 28h1M57 28h1M69 28h1M70 28h1M74 28h1M34 29h1M37 29h1M50 29h1M65 29h1M69 29h1M20 30h1M40 30h1M43 30h1M46 30h1M49 30h1M56 30h1M58 30h1M34 31h1M35 31h1M39 31h1M42 31h1M50 31h1M55 31h1M56 31h1M15 32h1M17 32h1M19 32h1M20 32h1M27 32h1M34 32h1M38 32h1M45 32h1M57 32h1M62 32h1M27 33h1M37 33h1M38 33h1M39 33h1M45 33h1M55 33h1M56 33h1M58 33h1M59 33h1M67 33h1M12 34h1M21 34h1M27 34h1M40 34h1M46 34h1M52 34h1M56 34h1M70 34h1M13 35h1M14 35h1M18 35h1M21 35h1M23 35h1M42 35h1M44 35h1M50 35h1M60 35h1M62 35h1M64 35h1M66 35h1M14 36h1M17 36h1M18 36h1M20 36h1M30 36h1M35 36h1M48 36h1M50 36h1M61 36h1M67 36h1M71 36h1M72 36h1M6 37h1M8 37h1M11 37h1M16 37h1M17 37h1M25 37h1M27 37h1M60 37h1M67 37h1M68 37h1M70 37h1M76 37h1M7 38h1M10 38h1M18 38h1M20 38h1M23 38h1M53 38h1M55 38h1M58 38h1M78 38h1M6 39h1M8 39h1M13 39h1M17 39h1M26 39h1M53 39h1M9 40h1M13 40h1M59 40h1M26 41h1M27 41h1M60 41h1M84 41h1M9 42h1M11 42h1M12 42h1M14 42h1M17 42h1M24 42h1M10 43h1M16 43h1M18 43h1M25 43h1M27 43h1M53 43h1M14 44h1M18 44h1M59 44h1M60 44h1M16 45h1M13 46h1M22 46h1M59 46h1M7 47h1M21 47h1M61 47h1M62 47h1M18 48h1M81 48h1M60 49h1M23 50h1M63 50h1M59 51h1M55 52h1M57 52h1M64 52h1M65 52h1M9 53h1M20 54h1M24 55h1M22 56h1M54 56h1M21 57h1M23 57h1M56 57h1M23 58h1M25 58h1M26 58h1M31 59h1M59 59h1M61 59h1M25 60h1M53 60h1M40 61h1M18 62h1M19 62h1M42 62h1M19 63h1M26 63h1M40 63h1M25 64h1M39 64h1M49 64h1M50 64h1M32 65h1M36 65h1M38 65h1M39 65h1M51 65h1M29 66h1M49 68h1M34 69h1M50 69h1M26 70h1M32 70h1M30 73h1M34 81h1M32 83h1M30 88h1"/>
<path stroke="#7ddd29" d="M57 1h1M63 1h1M59 2h1M60 2h1M71 7h1M58 8h1M77 9h1M46 10h1M55 10h1M50 14h1M51 14h1M56 14h1M62 14h1M70 15h1M47 16h1M57 16h1M49 17h1M55 17h1M56 17h1M66 17h1M58 18h1M72 18h1M25 19h1M43 19h1M44 19h1M45 19h1M47 19h1M50 19h1M64 19h1M65 19h1M38 20h1M45 20h1M49 20h1M64 20h1M41 21h1M44 21h1M34 22h1M38 22h1M44 22h1M57 22h1M33 23h1M43 23h1M48 23h1M72 23h1M76 23h1M35 24h1M40 24h1M69 24h1M70 24h1M24 25h1M27 25h1M28 25h1M31 25h1M32 25h1M43 25h1M79 25h1M22 26h1M24 26h1M31 26h1M35 26h1M50 26h1M52 26h1M69 26h1M22 27h1M23 27h1M24 27h1M33 27h1M37 27h1M50 27h1M27 28h1M31 28h1M34 28h1M35 28h1M37 28h1M38 28h1M39 28h1M50 28h1M72 28h1M15 29h1M36 29h1M46 29h1M47 29h1M49 29h1M54 29h1M33 30h1M37 30h1M44 30h1M50 30h1M60 30h1M87 30h1M19 31h1M20 31h1M25 31h1M30 31h1M33 31h1M47 31h1M49 31h1M65 31h1M18 32h1M36 32h1M37 32h1M47 32h1M80 32h1M7 33h1M17 33h1M33 33h1M47 33h1M49 33h1M60 33h1M13 34h1M14 34h1M22 34h1M26 34h1M39 34h1M20 35h1M22 35h1M37 35h1M39 35h1M48 35h1M53 35h1M54 35h1M55 35h1M65 35h1M8 36h1M22 36h1M24 36h1M28 36h1M31 36h1M39 36h1M52 36h1M53 36h1M54 36h1M64 36h1M4 37h1M7 37h1M9 37h1M13 37h1M21 37h1M34 37h1M52 37h1M55 37h1M9 38h1M14 38h1M17 38h1M51 38h1M7 39h1M9 39h1M12 39h1M24 39h1M28 39h1M16 40h1M84 40h1M14 41h1M19 41h1M20 41h1M61 41h1M10 42h1M54 42h1M57 42h1M59 42h1M12 43h1M13 43h1M19 43h1M26 43h1M58 43h1M61 43h1M75 43h1M6 44h1M21 44h1M24 44h1M27 44h1M1 45h1M7 45h1M15 45h1M28 45h1M60 45h1M64 45h1M23 46h1M57 46h1M6 47h1M19 47h1M26 47h1M27 47h1M78 47h1M9 48h1M27 48h1M28 48h1M60 48h1M7 49h1M8 49h1M30 49h1M68 49h1M70 49h1M59 50h1M62 50h1M63 51h1M20 52h1M21 52h1M60 52h1M11 53h1M13 53h1M15 53h1M17 53h1M22 53h1M52 53h1M54 53h1M59 53h1M9 54h1M11 54h1M12 54h1M18 54h1M14 55h1M58 55h1M19 56h1M25 56h1M53 56h1M58 56h1M25 57h1M62 57h1M21 58h1M30 58h1M37 58h1M53 58h1M20 59h1M27 59h1M15 60h1M17 60h1M21 60h1M28 60h1M29 60h1M23 61h1M52 61h1M30 62h1M41 62h1M46 62h1M55 62h1M20 63h1M44 63h1M46 63h1M29 64h1M35 64h1M38 64h1M56 64h1M27 65h1M28 65h1M30 65h1M53 65h1M25 66h1M32 66h1M40 66h1M41 66h1M41 67h1M26 68h1M32 68h1M37 68h1M38 68h1M50 68h1M36 69h1M31 71h1M34 71h1M32 72h1M23 74h1M30 74h1M33 83h1M31 85h1M30 87h1M35 87h1M28 88h1M31 92h1M25 94h1"/>
<path stroke="#a0e428" d="M65 0h1M65 2h1M59 3h1M60 3h1M64 3h1M65 3h1M47 5h1M49 5h1M59 7h1M65 9h1M50 10h1M69 10h1M47 11h1M47 12h1M52 14h1M75 15h1M76 15h1M53 16h1M51 17h1M52 18h1M30 19h1M32 19h1M42 19h1M58 20h1M33 21h1M37 21h1M56 21h1M58 21h1M32 24h1M42 24h1M57 24h1M58 24h1M50 25h1M59 25h1M72 25h1M73 26h1M59 27h1M61 27h1M23 28h1M25 28h1M32 28h1M33 28h1M20 29h1M26 29h1M45 29h1M23 30h1M26 30h1M36 30h1M45 30h1M47 30h1M22 31h1M80 31h1M56 32h1M25 33h1M29 33h1M30 33h1M79 33h1M20 34h1M23 34h1M24 34h1M30 34h1M37 34h1M61 34h1M91 34h1M9 35h1M19 35h1M24 35h1M49 35h1M56 35h1M7 36h1M9 36h1M10 36h1M11 36h1M13 36h1M19 36h1M25 36h1M49 36h1M68 36h1M45 37h1M46 37h1M49 37h1M65 37h1M12 38h1M15 38h1M16 38h1M24 38h1M30 38h1M57 38h1M63 38h1M19 39h1M59 39h1M14 40h1M22 40h1M23 40h1M55 40h1M79 40h1M5 41h1M11 41h1M13 41h1M25 41h1M5 42h1M8 42h1M13 42h1M15 42h1M18 42h1M19 42h1M29 42h1M22 43h1M54 43h1M55 43h1M59 43h1M16 44h1M72 44h1M27 45h1M5 46h1M25 46h1M27 46h1M30 47h1M63 47h1M62 48h1M25 50h1M54 50h1M57 50h1M58 50h1M60 50h1M64 50h1M65 50h1M64 51h1M65 51h1M59 52h1M61 52h1M12 53h1M20 53h1M21 53h1M65 53h1M15 55h1M16 55h1M17 55h1M32 55h1M57 55h1M18 56h1M26 56h1M24 57h1M19 58h1M24 58h1M27 58h1M36 58h1M18 59h1M21 59h1M22 59h1M40 59h1M20 60h1M23 60h1M27 60h1M15 61h1M22 61h1M24 61h1M25 61h1M28 61h1M47 62h1M48 62h1M22 63h1M39 63h1M19 64h1M20 64h1M30 64h1M31 64h1M33 64h1M47 64h1M17 65h1M29 65h1M35 65h1M40 65h1M24 67h1M26 67h1M28 67h1M22 68h1M25 68h1M29 68h1M31 68h1M33 68h1M35 68h1M27 69h1M37 69h1M24 70h1M29 70h1M48 70h1M24 73h1M30 77h1M24 88h1M29 88h1M27 93h1"/>
<path stroke="#b9e523" d="M63 3h1M47 6h1M51 7h1M52 9h1M57 10h1M55 11h1M55 12h1M55 16h1M50 17h1M56 19h1M35 20h1M48 20h1M57 20h1M34 21h1M54 21h1M57 21h1M36 22h1M54 22h1M64 22h1M34 23h1M41 23h1M73 23h1M74 23h1M71 24h1M32 26h1M59 26h1M34 27h1M53 27h1M21 29h1M22 29h1M24 29h1M18 31h1M21 31h1M24 31h1M26 31h1M66 31h1M22 32h1M24 32h1M29 32h1M32 32h1M35 32h1M91 32h1M21 33h1M23 33h1M35 33h1M5 34h1M32 34h1M38 34h1M47 34h1M11 35h1M63 35h1M73 35h1M26 36h1M55 36h1M60 36h1M63 36h1M18 37h1M19 37h1M23 37h1M24 37h1M35 37h1M73 37h1M4 38h1M32 38h1M81 38h1M4 39h1M30 39h1M54 39h1M86 39h1M5 40h1M12 40h1M31 40h1M57 40h1M3 41h1M4 41h1M18 41h1M28 41h1M35 41h1M52 41h1M26 42h1M28 42h1M31 42h1M32 42h1M60 42h1M6 43h1M7 43h1M22 44h1M25 44h1M56 44h1M9 45h1M17 45h1M24 45h1M26 45h1M32 45h1M54 45h1M55 45h1M11 46h1M16 46h1M58 46h1M8 47h1M32 47h1M67 47h1M7 48h1M19 48h1M68 48h1M27 49h1M28 49h1M31 49h1M32 49h1M67 49h1M26 50h1M29 51h1M58 51h1M19 52h1M57 53h1M29 54h1M31 54h1M53 54h1M30 55h1M24 56h1M16 57h1M28 57h1M38 57h1M63 57h1M18 58h1M28 58h1M59 58h1M30 59h1M18 60h1M26 60h1M40 60h1M50 60h1M21 61h1M30 61h1M46 61h1M25 62h1M34 62h1M15 63h1M34 63h1M47 63h1M17 64h1M48 64h1M54 64h1M26 65h1M31 66h1M35 66h1M44 66h1M35 67h1M36 67h1M52 67h1M24 68h1M34 68h1M36 68h1M28 69h1M29 69h1M30 69h1M30 70h1M27 71h1M30 71h1M32 71h1M36 71h1M37 71h1M24 72h1M28 73h1M29 73h1M28 74h1M30 84h1M32 84h1M32 85h1M26 86h1M28 87h1M31 87h1M33 87h1M33 88h1M28 91h1M26 93h1"/>
<path stroke="#d3e51f" d="M53 6h1M58 11h1M51 12h1M47 13h1M53 14h1M52 19h1M30 26h1M30 27h1M31 27h1M17 28h1M30 28h1M23 29h1M22 30h1M23 31h1M21 32h1M31 33h1M25 34h1M28 34h1M49 34h1M80 34h1M10 35h1M26 35h1M68 35h1M10 37h1M14 37h1M47 37h1M51 37h1M5 38h1M22 38h1M25 38h1M29 38h1M36 38h1M52 38h1M5 39h1M21 39h1M31 39h1M52 39h1M26 40h1M32 40h1M37 40h1M51 40h1M52 40h1M82 40h1M32 41h1M3 42h1M56 42h1M61 42h1M8 43h1M20 43h1M30 43h1M57 43h1M1 44h1M2 44h1M9 44h1M26 44h1M32 44h1M6 45h1M8 45h1M11 45h1M6 46h1M10 46h1M12 46h1M21 46h1M56 46h1M73 46h1M65 47h1M8 48h1M30 48h1M66 48h1M30 50h1M68 50h1M9 51h1M20 51h1M52 51h1M19 54h1M8 55h1M26 55h1M31 55h1M51 55h1M9 56h1M21 56h1M29 56h1M30 56h1M31 56h1M27 57h1M29 57h1M32 57h1M52 57h1M12 58h1M26 59h1M50 59h1M19 60h1M32 60h1M49 60h1M20 61h1M26 61h1M20 62h1M25 63h1M54 63h1M13 64h1M27 66h1M39 66h1M40 67h1M44 67h1M46 67h1M24 69h1M38 69h1M28 70h1M26 71h1M28 71h1M34 72h1M26 73h1M27 73h1M31 73h1M25 74h1M33 80h1M35 81h1M35 82h1M29 84h1M31 84h1M32 86h1M35 86h1M32 87h1M31 88h1M34 88h1M28 89h1M35 89h1M37 91h1"/>
<path stroke="#ece61a" d="M55 14h1M56 15h1M51 19h1M54 20h1M72 20h1M59 21h1M59 22h1M33 25h1M65 27h1M21 30h1M22 33h1M78 33h1M31 34h1M36 34h1M29 36h1M32 37h1M32 39h1M51 39h1M4 40h1M21 40h1M53 40h1M6 41h1M36 41h1M2 42h1M6 42h1M7 42h1M20 42h1M3 43h1M31 43h1M5 44h1M28 44h1M29 44h1M55 44h1M2 45h1M5 45h1M5 48h1M67 48h1M6 49h1M63 49h1M66 49h1M78 49h1M80 49h1M2 50h1M22 50h1M28 50h1M61 50h1M21 51h1M9 52h1M29 52h1M29 53h1M10 54h1M55 54h1M27 55h1M52 55h1M54 55h1M55 56h1M56 56h1M14 57h1M10 58h1M13 59h1M19 59h1M39 59h1M41 59h1M39 60h1M52 60h1M39 61h1M44 61h1M53 61h1M22 62h1M17 63h1M24 63h1M18 64h1M32 64h1M19 65h1M34 65h1M47 65h1M26 66h1M30 66h1M33 66h1M25 67h1M30 67h1M34 67h1M42 67h1M22 69h1M27 70h1M36 70h1M38 70h1M26 72h1M27 72h1M31 72h1M32 73h1M23 77h1M34 80h1M34 82h1M26 85h1M25 86h1M31 86h1M34 87h1M36 88h1M35 90h1M36 91h1M25 92h1M26 92h1M22 94h1"/>
<path stroke="#edde1b" d="M59 1h1M64 2h1M60 4h1M52 17h1M55 21h1M26 28h1M23 36h1M28 38h1M86 38h1M36 39h1M3 40h1M29 40h1M8 41h1M30 41h1M33 41h1M27 42h1M58 42h1M2 43h1M4 43h1M29 43h1M56 43h1M10 45h1M23 45h1M29 45h1M28 46h1M54 46h1M55 46h1M3 47h1M58 47h1M68 47h1M6 48h1M31 48h1M57 48h1M59 49h1M53 50h1M61 51h1M30 52h1M52 52h1M31 53h1M56 54h1M17 56h1M44 57h1M6 58h1M16 58h1M17 58h1M29 58h1M24 59h1M25 59h1M43 59h1M51 59h1M52 59h1M53 59h1M13 62h1M16 62h1M17 62h1M40 62h1M13 63h1M18 63h1M16 64h1M25 65h1M33 65h1M42 65h1M44 65h1M45 65h1M23 66h1M29 67h1M32 67h1M45 67h1M18 68h1M30 68h1M23 70h1M25 71h1M33 71h1M29 72h1M34 73h1M22 74h1M25 75h1M18 81h1M19 81h1M28 83h1M29 91h1M23 92h1M23 94h1"/>
<path stroke="#eed61c" d="M55 15h1M73 25h1M27 35h1M46 35h1M31 38h1M29 39h1M4 42h1M30 42h1M35 42h1M4 44h1M30 44h1M3 45h1M30 46h1M31 46h1M53 47h1M66 47h1M4 48h1M54 48h1M59 48h1M64 49h1M79 49h1M60 51h1M32 52h1M58 52h1M35 53h1M50 53h1M30 54h1M32 54h1M13 55h1M53 55h1M8 56h1M27 56h1M55 57h1M47 58h1M48 58h1M55 59h1M51 60h1M18 61h1M43 61h1M48 61h1M12 62h1M49 62h1M55 63h1M23 64h1M24 64h1M31 65h1M15 66h1M28 66h1M17 67h1M14 69h1M18 69h1M25 70h1M35 71h1M25 72h1M19 74h1M29 74h1M32 74h1M20 81h1M23 82h1M19 83h1M25 83h1M36 87h1M32 88h1M30 89h1M31 89h1M37 89h1M30 90h1M37 90h1M21 92h1M23 93h1M24 93h1M24 94h1"/>
<path stroke="#efce1d" d="M63 0h1M56 16h1M54 18h1M70 23h1M33 36h1M37 39h1M36 40h1M31 41h1M33 42h1M34 42h1M38 42h1M28 43h1M3 44h1M10 44h1M31 44h1M65 45h1M29 46h1M31 47h1M58 48h1M29 50h1M50 50h1M30 51h1M37 51h1M7 52h1M54 52h1M56 52h1M62 52h1M32 53h1M58 53h1M7 54h1M52 54h1M56 55h1M16 56h1M28 56h1M51 56h1M7 57h1M50 57h1M3 58h1M42 58h1M54 58h1M12 59h1M33 59h1M36 59h1M6 61h1M34 61h1M14 62h1M21 62h1M23 63h1M43 66h1M31 67h1M19 69h1M23 69h1M31 74h1M22 75h1M24 81h1M25 81h1M31 83h1M21 84h1M26 84h1M29 85h1M28 86h1M18 89h1M20 91h1M22 91h1M30 92h1M22 93h1"/>
<path stroke="#f0c61e" d="M61 2h1M55 22h1M40 35h1M36 36h1M27 39h1M34 39h1M27 40h1M38 41h1M31 45h1M3 46h1M65 46h1M4 47h1M36 47h1M74 48h1M36 49h1M1 50h1M6 50h1M31 50h1M32 50h1M34 50h1M32 51h1M31 52h1M43 52h1M56 53h1M50 54h1M54 54h1M48 56h1M52 56h1M15 57h1M43 57h1M8 58h1M56 58h1M7 59h1M17 59h1M16 60h1M42 60h1M47 60h1M42 61h1M45 61h1M26 62h1M11 65h1M18 65h1M24 65h1M16 66h1M20 66h1M24 66h1M22 67h1M27 68h1M15 69h1M14 70h1M15 70h1M20 70h1M22 70h1M15 71h1M24 71h1M28 72h1M33 73h1M33 81h1M25 82h1M23 84h1M28 84h1M25 87h1M35 88h1M19 91h1M27 92h1"/>
<path stroke="#eebd1f" d="M35 38h1M35 39h1M35 40h1M36 42h1M33 43h1M35 43h1M36 43h1M40 44h1M30 45h1M64 46h1M34 47h1M46 47h1M57 47h1M32 48h1M37 48h1M53 49h1M54 49h1M56 49h1M58 49h1M4 50h1M7 50h1M24 50h1M36 50h1M51 50h1M55 50h1M8 51h1M47 51h1M53 51h1M54 51h1M55 51h1M57 51h1M33 52h1M8 53h1M34 53h1M53 53h1M55 53h1M36 54h1M48 54h1M49 55h1M50 55h1M12 56h1M15 56h1M37 56h1M38 56h1M44 56h1M6 57h1M55 58h1M42 59h1M9 61h1M2 62h1M45 62h1M21 64h1M22 64h1M14 65h1M43 65h1M46 65h1M22 66h1M42 66h1M23 67h1M20 72h1M19 80h1M23 81h1M27 83h1M22 84h1M18 85h1M21 86h1M33 86h1M34 86h1M20 89h1M25 91h1M19 92h1M24 92h1"/>
<path stroke="#ebb420" d="M23 32h1M32 33h1M36 37h1M37 38h1M49 38h1M29 41h1M34 41h1M47 41h1M37 42h1M51 42h1M52 42h1M32 43h1M34 43h1M38 43h1M46 43h1M36 44h1M36 46h1M5 47h1M55 47h1M56 47h1M50 48h1M56 48h1M4 49h1M38 49h1M27 50h1M45 50h1M1 51h1M38 51h1M44 51h1M56 51h1M2 52h1M38 52h1M51 52h1M1 53h1M30 53h1M51 53h1M1 54h1M34 54h1M0 55h1M55 55h1M43 56h1M49 56h1M5 57h1M42 57h1M11 58h1M3 59h1M6 59h1M16 59h1M45 60h1M46 60h1M16 61h1M23 62h1M20 65h1M11 66h1M13 66h1M12 68h1M22 71h1M23 76h1M22 77h1M18 80h1M19 84h1M24 84h1M24 90h1M30 91h1"/>
<path stroke="#e9aa20" d="M33 39h1M48 40h1M50 42h1M53 42h1M37 43h1M51 43h1M4 45h1M34 45h1M35 45h1M38 45h1M33 47h1M47 47h1M2 48h1M3 48h1M49 49h1M42 50h1M49 50h1M36 51h1M51 51h1M36 52h1M48 52h1M53 52h1M4 53h1M6 53h1M33 53h1M35 54h1M51 54h1M4 55h1M35 55h1M42 56h1M0 57h1M17 57h1M34 57h1M45 57h1M49 57h1M54 57h1M43 58h1M46 58h1M50 58h1M5 59h1M44 59h1M45 59h1M44 60h1M4 61h1M7 61h1M36 61h1M1 63h1M12 63h1M21 65h1M23 65h1M21 66h1M29 71h1M14 73h1M16 74h1M22 78h1M11 81h1M18 82h1M20 86h1M25 88h1M26 90h1M31 90h1M24 91h1"/>
<path stroke="#e6a121" d="M36 35h1M34 38h1M34 40h1M46 42h1M47 43h1M62 43h1M35 44h1M40 45h1M2 46h1M35 46h1M37 47h1M38 47h1M55 48h1M3 49h1M5 49h1M52 49h1M55 49h1M5 50h1M46 50h1M2 51h1M5 51h1M33 51h1M34 51h1M35 51h1M43 51h1M34 52h1M45 52h1M49 52h1M2 53h1M7 53h1M48 53h1M3 54h1M33 54h1M3 55h1M5 56h1M41 56h1M48 57h1M4 58h1M44 58h1M47 59h1M9 60h1M36 60h1M11 61h1M1 62h1M8 64h1M15 67h1M13 69h1M17 70h1M16 72h1M22 72h1M6 73h1M23 73h1M14 78h1M22 79h1M22 80h1M19 82h1M27 84h1M17 87h1M19 90h1M21 90h1M18 91h1"/>
<path stroke="#e49822" d="M48 39h1M53 41h1M39 44h1M37 45h1M43 45h1M47 45h1M37 46h1M38 46h1M46 46h1M44 49h1M57 49h1M3 50h1M8 50h1M37 50h1M4 51h1M6 51h1M42 51h1M1 52h1M3 52h1M4 52h1M3 53h1M37 53h1M49 53h1M43 54h1M33 56h1M35 56h1M39 56h1M33 57h1M40 58h1M41 60h1M11 63h1M3 64h1M7 64h1M9 64h1M10 64h1M12 66h1M11 67h1M8 71h1M18 74h1M9 75h1M11 78h1M23 80h1M18 86h1M32 89h1M23 90h1M21 93h1M25 93h1"/>
<path stroke="#e19123" d="M45 31h1M40 36h1M48 37h1M47 38h1M50 38h1M46 41h1M39 42h1M45 42h1M47 42h1M39 43h1M41 43h1M45 43h1M33 44h1M36 45h1M46 45h1M53 45h1M39 46h1M42 46h1M43 46h1M45 46h1M1 47h1M42 47h1M54 47h1M59 47h1M34 48h1M36 48h1M52 48h1M1 49h1M33 49h1M37 49h1M50 49h1M51 49h1M35 50h1M43 50h1M3 51h1M31 51h1M45 51h1M48 51h1M5 52h1M47 52h1M50 52h1M43 53h1M2 54h1M4 54h1M41 54h1M49 54h1M41 55h1M1 57h1M46 57h1M0 58h1M10 60h1M11 60h1M3 63h1M4 63h1M7 63h1M9 63h1M5 64h1M3 65h1M22 65h1M10 66h1M13 67h1M21 67h1M6 72h1M17 74h1M17 80h1M21 80h1M20 85h1M21 85h1M19 86h1M19 87h1M20 87h1M18 88h1M31 91h1M20 92h1"/>
<path stroke="#de8b23" d="M38 36h1M46 38h1M47 39h1M37 41h1M48 42h1M40 43h1M43 43h1M52 43h1M43 44h1M45 44h1M43 47h1M1 48h1M45 48h1M49 48h1M2 49h1M35 49h1M48 49h1M33 50h1M46 51h1M8 52h1M5 53h1M5 54h1M42 54h1M37 55h1M38 55h1M2 56h1M3 56h1M34 56h1M50 56h1M41 57h1M47 57h1M45 58h1M4 59h1M17 61h1M8 62h1M12 67h1M17 68h1M16 71h1M15 72h1M16 73h1M19 77h1M21 78h1M18 79h1M25 79h1M11 80h1M22 82h1M16 88h1M17 88h1M19 88h1"/>
<path stroke="#db8424" d="M50 39h1M28 40h1M50 43h1M33 45h1M44 46h1M53 46h1M46 48h1M48 48h1M42 49h1M47 50h1M50 51h1M37 54h1M43 55h1M46 55h1M39 57h1M5 58h1M41 58h1M10 63h1M12 64h1M16 69h1M20 69h1M27 74h1M19 79h1M20 79h1M11 82h1M22 83h1M12 85h1M21 91h1"/>
<path stroke="#d87e25" d="M37 36h1M37 37h1M48 38h1M49 39h1M50 40h1M44 42h1M44 47h1M39 48h1M34 49h1M38 50h1M39 50h1M40 50h1M44 50h1M35 52h1M42 52h1M44 52h1M38 53h1M39 53h1M38 54h1M47 55h1M32 56h1M40 56h1M35 57h1M9 58h1M49 58h1M3 61h1M10 62h1M9 66h1M18 72h1M17 77h1M18 78h1M18 87h1M22 88h1M18 90h1M18 92h1"/>
<path stroke="#d57726" d="M46 39h1M49 41h1M50 41h1M46 44h1M44 45h1M41 46h1M33 48h1M35 48h1M41 48h1M51 48h1M43 49h1M47 49h1M39 51h1M37 52h1M47 53h1M39 54h1M44 54h1M45 54h1M36 55h1M44 55h1M4 56h1M46 56h1M40 57h1M39 58h1M5 61h1M16 75h1"/>
<path stroke="#d37227" d="M46 40h1M44 43h1M34 44h1M41 44h1M47 44h1M42 45h1M34 46h1M40 46h1M47 46h1M40 47h1M38 48h1M42 48h1M43 48h1M44 48h1M39 49h1M41 49h1M40 53h1M45 53h1M46 54h1M33 55h1M48 55h1M21 89h1M22 89h1"/>
<path stroke="#d16e28" d="M49 40h1M51 41h1M49 43h1M41 45h1M45 47h1M53 48h1M40 49h1M39 52h1M41 53h1M44 53h1M42 55h1M45 55h1M47 56h1"/>
<path stroke="#cf6b29" d="M48 43h1M38 44h1M42 44h1M53 44h1M39 45h1M2 47h1M41 47h1M40 48h1M48 50h1M42 53h1M46 53h1M40 54h1M5 71h1M12 80h1"/>
<path stroke="#cd672a" d="M48 41h1M45 45h1M39 47h1M46 49h1M40 55h1"/>
<path stroke="#cc632b" d="M45 49h1M39 55h1M45 56h1"/>
<path stroke="#ca5f2c" d="M49 42h1"/>
<path stroke="#c85c2d" d="M47 54h1"/>
<path stroke="#c6582e" d="M35 47h1"/>
</g></g><rect x="40" y="40" width="260" height="250" fill="url(#rgrid)"/><g stroke="#fff" stroke-width="0.7" stroke-opacity="0.6" fill="none"><line x1="120" y1="210" x2="192" y2="98"/><line x1="160" y1="96" x2="270" y2="96"/><line x1="95" y1="180" x2="140" y2="115"/><line x1="170" y1="200" x2="230" y2="120"/></g></g>
<path d="M182.5,52.6 L185.0,52.5 L200.0,51.0 L221.3,50.7 L222.7,55.5 L238.7,56.8 L262.9,63.4 L279.1,62.6 L281.6,67.1 L279.1,69.8 L278.4,74.8 L279.1,77.9 L277.2,82.3 L267.3,91.6 L267.3,107.1 L269.8,115.0 L271.0,118.7 L268.2,122.4 L268.6,125.2 L265.4,130.8 L261.7,133.2 L259.8,138.3 L252.3,144.8 L253.7,149.4 L251.4,151.8 L244.9,160.6 L242.1,163.4 L235.6,164.3 L223.0,165.7 L218.3,169.2 L210.2,163.3 L206.7,165.7 L205.5,175.0 L202.0,179.7 L199.7,185.5 L195.0,189.0 L188.0,196.0 L182.2,203.0 L176.3,210.0 L167.0,213.5 L148.3,212.3 L139.0,214.7 L132.0,220.5 L129.7,228.7 L128.7,234.7 L136.7,236.7 L137.0,242.7 L133.7,247.7 L137.3,249.0 L139.3,251.3 L141.3,256.7 L142.3,261.3 L140.0,260.7 L137.3,256.7 L132.7,256.0 L132.0,252.7 L130.0,252.7 L129.7,255.3 L129.0,262.0 L127.0,262.7 L125.7,258.0 L124.0,258.7 L121.7,262.0 L118.0,265.3 L114.0,267.3 L110.0,268.7 L107.2,269.6 L105.7,262.6 L101.8,263.8 L99.5,262.2 L98.7,254.8 L93.3,254.1 L93.3,252.9 L88.6,247.9 L86.7,248.6 L80.9,244.4 L79.3,240.5 L79.3,228.9 L77.0,225.0 L74.7,223.4 L72.3,218.8 L68.6,219.2 L64.9,214.1 L61.2,213.2 L64.4,205.7 L63.0,199.2 L59.8,195.5 L62.1,190.8 L61.6,187.1 L56.0,183.4 L58.4,177.8 L58.3,173.3 L59.2,154.2 L62.5,150.8 L63.3,145.8 L65.0,145.0 L65.8,140.0 L67.5,131.7 L94.2,118.3 L104.2,110.8 L105.0,110.0 L102.5,107.5 L102.5,96.3 L130.0,95.8 L130.0,105.0 L139.2,95.0 L139.2,89.2 L145.0,89.2 L149.2,90.8 L147.5,91.7 L148.3,96.3 L168.0,94.6 L167.5,89.0 L159.8,88.2 L159.8,65.5 L178.2,58.7 L182.5,56.1 Z" fill="none" stroke="#000" stroke-width="2" stroke-linejoin="round"/>
</g>
<rect x="43.5" y="41" width="253" height="247.5" fill="none" stroke="#000" stroke-width="1.6"/>
<text x="57.20" y="71.70" font-family="'Liberation Serif','Times New Roman',serif" font-size="34" font-weight="bold" >a</text>
<rect x="211.5" y="186.4" width="26.1" height="11.8" fill="#fff" stroke="#000" stroke-width="1.8"/>
<text x="242.80" y="196.10" font-family="'Liberation Serif','Times New Roman',serif" font-size="10" textLength="40.2" lengthAdjust="spacingAndGlyphs" >Study area</text>
<text x="211.60" y="216.20" font-family="'Liberation Serif','Times New Roman',serif" font-size="12.2" font-weight="bold" textLength="59.3" lengthAdjust="spacingAndGlyphs" >SOC (g/kg)</text>
<rect x="211.1" y="227" width="24.3" height="25.6" fill="url(#cbar)"/>
<line x1="235.4" y1="227.3" x2="237.4" y2="227.3" stroke="#aaa" stroke-width="0.6"/>
<line x1="235.4" y1="239.8" x2="237.4" y2="239.8" stroke="#aaa" stroke-width="0.6"/>
<line x1="235.4" y1="252.3" x2="237.4" y2="252.3" stroke="#aaa" stroke-width="0.6"/>
<text x="242.60" y="230.60" font-family="'Liberation Serif','Times New Roman',serif" font-size="10" textLength="45" lengthAdjust="spacingAndGlyphs" >High: 45.68</text>
<text x="242.60" y="255.70" font-family="'Liberation Serif','Times New Roman',serif" font-size="10" textLength="38.4" lengthAdjust="spacingAndGlyphs" >Low: 6.15</text>
<rect x="199.5" y="278.3" width="37.5" height="5.0" fill="#000" stroke="#111" stroke-width="1"/>
<rect x="237" y="278.3" width="36.7" height="5.0" fill="#fff" stroke="#222" stroke-width="1"/>
<text x="199.30" y="272.90" font-family="'Liberation Sans',Arial,sans-serif" font-size="11" text-anchor="middle" >0</text>
<text x="236.80" y="272.90" font-family="'Liberation Sans',Arial,sans-serif" font-size="11" text-anchor="middle" >10</text>
<text x="273.80" y="272.90" font-family="'Liberation Sans',Arial,sans-serif" font-size="11" text-anchor="middle" >20</text>
<text x="277.40" y="283.40" font-family="'Liberation Sans',Arial,sans-serif" font-size="11"  >km</text>
<g transform="translate(260,0)">
<rect x="43.5" y="41" width="253" height="247.5" fill="#fdfdfd"/>
<g clip-path="url(#frameclip)"><g mask="url(#hmask)"><rect x="-60" y="-60" width="460" height="460" filter="url(#hillf)" transform="rotate(-58 170 165)"/></g></g>
<path d="M122.5,43 C120,52 118.5,58 119,66 C119.5,72 121,78 120,84" fill="none" stroke="#a8a8a8" stroke-width="2" stroke-opacity="0.5" stroke-dasharray="9,3,5,4,12,3" filter="url(#hs2)"/>
<g clip-path="url(#clipmap)"><g filter="url(#soft)"><g transform="translate(56.00,51.85) scale(2.3,2.3)" fill="none" stroke-width="1">
<path stroke="#0b3878" d="M88 4h1"/>
<path stroke="#0b3878" d="M94 7h1M89 14h1"/>
<path stroke="#0b3878" d="M85 9h1"/>
<path stroke="#0b3878" d="M96 12h1M88 14h1"/>
<path stroke="#0e3f7b" d="M93 5h1M95 7h1M80 24h1"/>
<path stroke="#11477f" d="M96 5h1M86 10h1M94 11h1M85 13h1"/>
<path stroke="#144e82" d="M65 0h1M95 5h1M72 7h1M97 7h1M84 10h1M88 15h1M88 19h1M78 23h1M86 29h1M85 40h1"/>
<path stroke="#185585" d="M83 3h1M91 6h1M89 8h1M87 9h1M91 9h1M90 12h1M89 15h1M77 19h1"/>
<path stroke="#1b5d89" d="M79 2h1M85 4h1M87 4h1M97 5h1M98 6h1M92 7h1M96 7h1M90 8h1M86 9h1M91 13h1M83 15h1"/>
<path stroke="#1e648c" d="M63 0h1M64 1h1M86 4h1M91 5h1M94 5h1M95 6h1M96 6h1M80 7h1M91 8h1M82 10h1M87 10h1M90 10h1M85 11h1M90 11h1M92 12h1M92 13h1M85 17h1M84 18h1M77 22h1M79 23h1M84 29h1M84 30h1M86 30h1M79 31h1M80 36h1M76 37h1M86 40h1"/>
<path stroke="#1f6c8a" d="M70 1h1M80 2h1M64 3h1M78 4h1M80 4h1M83 8h1M86 8h1M92 8h1M96 9h1M80 10h1M87 11h1M91 12h1M94 12h1M86 13h1M89 13h1M87 14h1M86 15h1M87 15h1M89 17h1M88 18h1M85 19h1M77 20h1M84 21h1M86 21h1M85 22h1M87 25h1M85 31h1M87 31h1M80 40h1M83 42h1M49 65h1"/>
<path stroke="#1f7389" d="M67 3h1M80 3h1M85 5h1M92 6h1M74 7h1M91 7h1M98 7h1M84 8h1M88 8h1M97 8h1M86 11h1M91 11h1M75 12h1M79 12h1M77 13h1M83 14h1M91 15h1M89 16h1M82 17h1M84 17h1M87 17h1M88 17h1M64 19h1M86 19h1M86 20h1M87 22h1M77 23h1M89 27h1M80 30h1M85 30h1M87 32h1M88 34h1M86 39h1M82 42h1M79 43h1M84 45h1"/>
<path stroke="#207b87" d="M65 1h1M76 2h1M77 3h1M76 5h1M78 5h1M79 5h1M74 6h1M77 6h1M84 6h1M87 6h1M90 6h1M93 6h1M52 7h1M77 8h1M81 8h1M94 9h1M95 9h1M76 10h1M88 10h1M79 11h1M85 12h1M89 12h1M90 13h1M94 14h1M82 16h1M88 16h1M77 18h1M85 18h1M89 18h1M75 19h1M88 20h1M75 22h1M83 22h1M91 22h1M90 28h1M85 36h1M82 41h1M83 44h1M83 45h1M58 57h1M48 65h1M43 70h1"/>
<path stroke="#208386" d="M69 3h1M78 3h1M87 5h1M85 7h1M87 7h1M93 7h1M87 8h1M78 9h1M92 9h1M93 9h1M81 10h1M83 10h1M95 10h1M95 11h1M63 12h1M84 12h1M95 12h1M84 13h1M88 13h1M84 14h1M84 15h1M92 15h1M94 15h1M62 16h1M68 17h1M82 19h1M84 19h1M89 20h1M88 22h1M79 24h1M85 24h1M79 25h1M88 25h1M82 26h1M83 26h1M82 28h1M84 28h1M93 28h1M83 29h1M90 31h1M81 35h1M84 36h1M84 38h1M85 38h1M83 46h1M49 67h1M53 68h1"/>
<path stroke="#218a84" d="M65 2h1M70 2h1M79 4h1M83 4h1M84 4h1M88 5h1M66 6h1M69 6h1M72 6h1M68 7h1M71 7h1M84 7h1M78 8h1M85 8h1M94 8h1M95 8h1M45 9h1M81 9h1M83 9h1M89 9h1M90 9h1M85 10h1M96 11h1M88 12h1M62 13h1M96 13h1M61 14h1M77 14h1M78 14h1M80 14h1M81 14h1M60 16h1M87 16h1M92 16h1M77 17h1M90 17h1M91 19h1M66 20h1M79 20h1M90 21h1M89 22h1M80 23h1M88 24h1M89 24h1M85 27h1M81 28h1M78 29h1M89 29h1M78 30h1M93 30h1M77 31h1M84 31h1M88 33h1M84 34h1M75 35h1M86 35h1M88 35h1M75 36h1M82 36h1M88 37h1M84 39h1M85 39h1M78 41h1M82 43h1M70 46h1M74 46h1M81 46h1M50 65h1M50 67h1"/>
<path stroke="#229283" d="M57 0h1M64 0h1M68 3h1M79 3h1M82 4h1M73 5h1M74 5h1M75 5h1M83 5h1M84 5h1M89 5h1M92 5h1M52 6h1M68 6h1M75 6h1M89 6h1M97 6h1M63 7h1M65 7h1M67 7h1M76 7h1M89 7h1M80 8h1M64 10h1M89 10h1M93 10h1M54 11h1M65 11h1M80 11h1M84 11h1M88 11h1M60 12h1M93 12h1M71 13h1M82 13h1M82 14h1M77 15h1M79 15h1M80 15h1M81 15h1M82 15h1M93 15h1M57 16h1M90 16h1M76 17h1M68 18h1M64 20h1M75 20h1M47 21h1M85 21h1M79 22h1M89 23h1M78 24h1M65 25h1M80 25h1M81 26h1M79 29h1M91 29h1M75 30h1M89 30h1M91 30h1M68 35h1M80 35h1M87 36h1M86 37h1M89 37h1M79 38h1M76 40h1M84 40h1M71 45h1M73 48h1M58 56h1M48 66h1M50 66h1M51 68h1"/>
<path stroke="#23997e" d="M59 1h1M69 2h1M71 3h1M81 3h1M70 4h1M75 4h1M53 6h1M70 6h1M71 6h1M73 6h1M86 7h1M45 8h1M79 8h1M82 9h1M78 10h1M92 10h1M53 11h1M76 12h1M87 12h1M64 13h1M94 13h1M65 14h1M68 14h1M51 15h1M66 15h1M78 16h1M80 16h1M93 16h1M60 17h1M66 17h1M67 17h1M92 17h1M75 18h1M87 19h1M71 20h1M85 20h1M70 21h1M76 21h1M77 21h1M91 21h1M82 22h1M73 23h1M81 24h1M92 24h1M83 25h1M84 26h1M89 26h1M82 27h1M88 27h1M69 28h1M80 28h1M87 28h1M87 29h1M73 30h1M92 30h1M91 31h1M84 35h1M79 37h1M82 37h1M74 38h1M78 38h1M80 39h1M82 44h1M72 45h1M73 45h1M71 46h1M71 48h1M49 66h1M48 67h1"/>
<path stroke="#25a077" d="M69 0h1M70 0h1M77 2h1M54 3h1M60 4h1M71 4h1M64 6h1M78 7h1M90 7h1M77 9h1M68 10h1M91 10h1M60 11h1M78 11h1M77 12h1M82 12h1M61 13h1M66 13h1M78 13h1M83 13h1M87 13h1M67 14h1M76 14h1M85 14h1M65 15h1M71 16h1M77 16h1M83 16h1M86 16h1M91 16h1M58 17h1M86 17h1M59 18h1M87 18h1M89 19h1M82 20h1M84 20h1M91 20h1M76 22h1M78 22h1M81 22h1M87 23h1M72 25h1M78 25h1M81 27h1M83 27h1M87 27h1M92 27h1M87 30h1M88 30h1M76 31h1M89 31h1M92 31h1M86 32h1M87 34h1M78 36h1M81 36h1M86 36h1M81 37h1M84 37h1M85 37h1M86 38h1M81 42h1M84 43h1M72 44h1M78 46h1M71 49h1M39 64h1M41 66h1M46 69h1"/>
<path stroke="#27a670" d="M67 0h1M58 1h1M71 1h1M74 2h1M78 2h1M62 3h1M75 3h1M84 3h1M65 4h1M68 4h1M73 4h1M69 5h1M81 5h1M86 5h1M61 6h1M81 6h1M66 7h1M70 7h1M88 7h1M56 8h1M68 8h1M75 9h1M79 9h1M80 9h1M46 10h1M54 10h1M96 10h1M62 11h1M77 11h1M89 11h1M92 11h1M93 11h1M53 12h1M59 12h1M62 12h1M80 12h1M65 13h1M95 13h1M49 14h1M54 14h1M57 14h1M93 14h1M59 16h1M67 16h1M75 16h1M81 16h1M63 17h1M65 17h1M83 17h1M51 18h1M61 18h1M78 18h1M79 18h1M86 18h1M91 18h1M66 19h1M68 19h1M68 20h1M87 20h1M90 20h1M40 21h1M54 21h1M83 21h1M65 22h1M69 22h1M70 22h1M74 22h1M90 22h1M81 23h1M86 23h1M75 24h1M85 25h1M91 25h1M53 26h1M76 26h1M78 26h1M79 26h1M87 26h1M84 27h1M25 28h1M77 28h1M79 28h1M88 28h1M76 29h1M76 30h1M69 34h1M82 34h1M77 35h1M90 35h1M79 36h1M75 37h1M80 37h1M87 37h1M88 38h1M78 39h1M79 41h1M85 41h1M80 43h1M73 44h1M82 45h1M79 46h1M68 49h1M70 49h1M60 51h1M62 51h1M57 57h1M59 57h1M41 65h1M46 65h1M49 68h1M51 69h1M37 71h1"/>
<path stroke="#28ad69" d="M55 0h1M71 0h1M68 1h1M66 2h1M67 2h1M68 2h1M76 3h1M74 4h1M52 5h1M62 5h1M66 5h1M70 5h1M62 6h1M65 6h1M76 6h1M78 6h1M79 6h1M80 6h1M75 7h1M79 7h1M54 8h1M72 8h1M93 8h1M47 9h1M63 9h1M68 9h1M72 9h1M53 10h1M56 10h1M65 10h1M66 10h1M69 10h1M76 11h1M64 12h1M72 12h1M74 12h1M78 12h1M81 13h1M86 14h1M91 14h1M55 15h1M46 16h1M56 16h1M65 16h1M79 16h1M57 17h1M62 17h1M64 17h1M81 17h1M76 19h1M81 19h1M67 20h1M72 20h1M83 20h1M45 21h1M69 21h1M74 21h1M78 21h1M81 21h1M88 21h1M73 22h1M46 23h1M47 23h1M88 23h1M45 24h1M84 24h1M87 24h1M90 24h1M91 24h1M73 25h1M84 25h1M88 26h1M70 27h1M78 27h1M86 27h1M90 27h1M85 28h1M92 28h1M68 29h1M74 29h1M77 29h1M80 29h1M90 30h1M78 31h1M82 31h1M88 31h1M89 32h1M36 33h1M86 33h1M87 33h1M89 33h1M90 34h1M85 35h1M32 36h1M76 36h1M77 36h1M78 37h1M78 42h1M79 42h1M80 42h1M78 43h1M81 43h1M83 43h1M80 44h1M81 44h1M70 45h1M74 47h1M75 48h1M73 49h1M62 50h1M65 51h1M63 54h1M64 54h1M58 58h1M55 61h1M59 61h1M47 65h1M41 67h1M52 67h1"/>
<path stroke="#2ab361" d="M56 0h1M55 1h1M69 1h1M63 2h1M71 2h1M63 3h1M73 3h1M64 4h1M69 4h1M72 4h1M76 4h1M81 4h1M60 5h1M71 5h1M77 5h1M82 6h1M83 7h1M46 8h1M47 8h1M58 8h1M61 8h1M66 8h1M74 8h1M76 8h1M55 9h1M67 9h1M76 9h1M55 10h1M61 10h1M77 10h1M79 10h1M63 11h1M66 11h1M71 11h1M73 11h1M66 12h1M67 12h1M86 12h1M60 13h1M69 13h1M75 13h1M76 13h1M79 14h1M46 15h1M49 15h1M57 15h1M59 15h1M68 15h1M70 15h1M75 15h1M85 15h1M63 16h1M64 16h1M72 16h1M73 16h1M59 17h1M61 17h1M52 18h1M62 18h1M65 18h1M67 18h1M69 18h1M80 18h1M81 18h1M82 18h1M90 18h1M54 19h1M61 19h1M62 19h1M79 19h1M90 19h1M80 20h1M64 21h1M80 21h1M87 21h1M80 22h1M45 23h1M63 23h1M84 23h1M47 24h1M65 24h1M45 25h1M75 25h1M77 25h1M90 25h1M52 26h1M62 26h1M75 26h1M69 27h1M72 27h1M51 28h1M91 28h1M93 29h1M33 30h1M70 30h1M77 30h1M53 31h1M72 31h1M80 31h1M81 31h1M83 31h1M88 32h1M90 32h1M92 32h1M49 33h1M90 33h1M91 33h1M56 34h1M71 34h1M76 35h1M87 35h1M53 36h1M88 36h1M15 37h1M77 37h1M83 37h1M79 39h1M77 40h1M82 40h1M77 41h1M81 41h1M84 41h1M74 43h1M76 43h1M78 44h1M79 44h1M84 44h1M74 45h1M75 45h1M77 45h1M72 46h1M78 47h1M79 47h1M79 48h1M81 48h1M77 49h1M78 49h1M64 51h1M59 53h1M57 56h1M59 59h1M55 64h1M52 65h1M51 67h1M35 68h1M50 69h1M40 70h1"/>
<path stroke="#2cba5a" d="M62 0h1M68 0h1M72 0h1M64 2h1M61 3h1M61 4h1M61 5h1M64 5h1M50 6h1M51 6h1M60 6h1M83 6h1M86 6h1M60 7h1M62 7h1M57 8h1M69 8h1M82 8h1M62 9h1M50 10h1M51 10h1M71 10h1M94 10h1M51 11h1M69 11h1M81 11h1M50 12h1M64 14h1M66 14h1M73 14h1M58 15h1M61 15h1M78 15h1M45 16h1M55 16h1M58 18h1M66 18h1M76 18h1M45 19h1M58 19h1M63 19h1M65 19h1M47 20h1M52 20h1M63 20h1M73 20h1M78 20h1M81 20h1M79 21h1M40 22h1M60 22h1M86 22h1M32 23h1M75 23h1M82 23h1M90 23h1M60 24h1M61 24h1M62 24h1M86 24h1M62 25h1M64 26h1M74 26h1M80 26h1M86 26h1M43 27h1M52 27h1M53 27h1M76 27h1M91 27h1M65 28h1M76 28h1M22 29h1M42 29h1M54 29h1M59 29h1M27 30h1M40 30h1M69 30h1M79 30h1M81 30h1M83 30h1M42 31h1M75 31h1M79 32h1M80 32h1M82 32h1M54 33h1M69 33h1M81 33h1M84 33h1M85 33h1M42 34h1M83 34h1M89 34h1M15 35h1M32 35h1M54 35h1M55 35h1M56 35h1M83 35h1M89 35h1M52 36h1M83 36h1M89 36h1M8 37h1M16 37h1M68 37h1M72 37h1M10 38h1M9 39h1M81 39h1M83 40h1M80 41h1M19 42h1M75 43h1M69 46h1M73 46h1M80 46h1M72 47h1M70 48h1M78 48h1M19 49h1M74 49h1M76 49h1M24 50h1M64 50h1M70 50h1M63 52h1M65 52h1M64 53h1M65 53h1M57 54h1M21 55h1M63 55h1M64 55h1M63 56h1M47 60h1M48 64h1M51 65h1M39 66h1M45 66h1M51 66h1M45 67h1M36 68h1M47 68h1M52 68h1M47 69h1M38 70h1M39 70h1M46 70h1M29 73h1"/>
<path stroke="#2fc04e" d="M54 1h1M60 2h1M61 2h1M75 2h1M51 4h1M63 4h1M66 4h1M51 5h1M80 5h1M82 5h1M90 5h1M59 6h1M50 7h1M51 7h1M48 8h1M55 8h1M62 8h1M67 8h1M70 8h1M75 8h1M54 9h1M60 9h1M66 9h1M70 9h1M73 9h1M58 10h1M59 10h1M67 10h1M75 10h1M83 11h1M52 12h1M70 12h1M81 12h1M67 13h1M70 13h1M72 13h1M80 13h1M63 14h1M72 14h1M95 14h1M45 15h1M54 15h1M67 15h1M76 15h1M69 16h1M80 17h1M91 17h1M49 18h1M54 18h1M35 19h1M59 19h1M60 19h1M71 19h1M78 19h1M39 20h1M46 20h1M49 20h1M74 20h1M76 20h1M39 21h1M41 21h1M59 21h1M60 21h1M61 21h1M62 21h1M67 21h1M75 21h1M41 22h1M46 22h1M48 22h1M49 22h1M55 23h1M65 23h1M83 23h1M85 23h1M41 24h1M56 24h1M64 24h1M72 24h1M82 24h1M46 25h1M63 26h1M72 26h1M91 26h1M92 26h1M25 27h1M30 27h1M40 27h1M57 27h1M26 28h1M43 28h1M60 28h1M64 28h1M75 28h1M86 28h1M44 29h1M60 29h1M62 29h1M67 29h1M71 29h1M72 29h1M90 29h1M36 30h1M41 30h1M44 30h1M11 31h1M35 31h1M36 31h1M57 31h1M68 31h1M74 31h1M26 32h1M36 32h1M38 32h1M46 32h1M50 32h1M56 32h1M62 32h1M83 32h1M91 32h1M14 33h1M34 33h1M47 33h1M60 33h1M21 34h1M45 34h1M60 34h1M68 34h1M47 35h1M52 35h1M82 35h1M47 36h1M53 37h1M22 38h1M62 38h1M76 38h1M81 38h1M82 38h1M14 39h1M75 39h1M82 39h1M58 40h1M79 40h1M76 41h1M75 42h1M85 42h1M58 44h1M70 44h1M65 45h1M16 46h1M67 46h1M82 46h1M70 47h1M82 47h1M79 49h1M61 50h1M64 52h1M21 53h1M22 55h1M16 57h1M17 58h1M23 59h1M60 59h1M48 61h1M49 61h1M50 61h1M54 62h1M36 63h1M50 63h1M54 64h1M42 65h1M27 67h1M28 67h1M46 67h1M40 68h1M41 68h1M43 68h1M40 69h1M42 69h1M44 69h1M29 70h1M45 70h1M27 71h1M37 89h1"/>
<path stroke="#32c543" d="M59 0h1M57 1h1M62 1h1M59 3h1M52 4h1M54 4h1M63 5h1M63 6h1M85 6h1M46 7h1M73 7h1M52 8h1M51 9h1M52 9h1M52 11h1M61 11h1M56 12h1M58 12h1M61 12h1M45 13h1M63 13h1M68 13h1M74 13h1M48 14h1M55 14h1M71 14h1M75 14h1M56 15h1M60 15h1M48 16h1M76 16h1M85 16h1M74 17h1M75 17h1M78 17h1M57 18h1M64 18h1M83 18h1M52 19h1M57 19h1M67 19h1M74 19h1M83 19h1M45 20h1M51 20h1M63 21h1M39 22h1M42 22h1M45 22h1M57 22h1M58 22h1M59 22h1M68 22h1M51 23h1M52 23h1M53 23h1M60 23h1M91 23h1M46 24h1M51 24h1M63 24h1M73 24h1M74 24h1M47 25h1M57 25h1M60 25h1M64 25h1M82 25h1M92 25h1M26 26h1M34 26h1M40 26h1M51 26h1M85 26h1M24 27h1M31 27h1M32 27h1M36 27h1M54 27h1M59 27h1M62 27h1M64 27h1M79 27h1M80 27h1M17 28h1M45 28h1M52 28h1M53 28h1M63 28h1M78 28h1M89 28h1M23 29h1M24 29h1M30 29h1M32 29h1M34 29h1M43 29h1M51 29h1M52 29h1M55 29h1M13 30h1M32 30h1M39 30h1M42 30h1M62 30h1M72 30h1M74 30h1M22 31h1M32 31h1M37 31h1M41 31h1M55 31h1M56 31h1M61 31h1M62 31h1M73 31h1M21 32h1M47 32h1M53 32h1M84 32h1M22 33h1M26 33h1M37 33h1M38 33h1M48 33h1M51 33h1M53 33h1M63 33h1M78 33h1M22 34h1M27 34h1M36 34h1M51 34h1M52 34h1M85 34h1M86 34h1M91 34h1M36 35h1M43 35h1M46 35h1M51 35h1M69 35h1M15 36h1M16 36h1M52 37h1M55 37h1M80 38h1M10 40h1M12 40h1M15 40h1M81 40h1M21 41h1M59 41h1M83 41h1M59 42h1M61 42h1M77 42h1M18 43h1M60 43h1M20 44h1M19 45h1M69 45h1M78 45h1M76 46h1M69 47h1M76 47h1M77 47h1M18 48h1M61 48h1M66 48h1M67 48h1M69 49h1M28 50h1M69 50h1M63 51h1M62 52h1M57 53h1M21 54h1M22 54h1M62 54h1M29 57h1M63 57h1M15 58h1M61 59h1M48 60h1M58 60h1M18 61h1M44 62h1M55 62h1M41 63h1M21 64h1M22 64h1M23 64h1M36 64h1M47 64h1M43 66h1M53 66h1M42 67h1M43 67h1M32 68h1M39 69h1M45 69h1M42 70h1M29 71h1M25 77h1M31 89h1"/>
<path stroke="#35ca38" d="M72 1h1M70 3h1M50 4h1M53 4h1M59 5h1M68 5h1M48 6h1M53 7h1M82 7h1M51 8h1M53 8h1M71 8h1M57 9h1M64 9h1M69 9h1M60 10h1M72 10h1M64 11h1M72 11h1M82 11h1M71 12h1M73 12h1M50 13h1M51 13h1M54 13h1M55 13h1M73 13h1M51 14h1M58 14h1M70 14h1M74 14h1M53 15h1M62 15h1M47 16h1M51 16h1M58 16h1M71 17h1M72 17h1M55 18h1M70 18h1M71 18h1M72 18h1M43 19h1M56 19h1M35 20h1M38 20h1M40 20h1M41 20h1M42 20h1M43 20h1M44 20h1M50 20h1M58 20h1M59 20h1M34 21h1M44 21h1M46 21h1M48 21h1M49 21h1M50 21h1M57 21h1M58 21h1M65 21h1M35 22h1M44 22h1M55 22h1M61 22h1M62 22h1M67 22h1M71 22h1M33 23h1M35 23h1M43 23h1M56 23h1M64 23h1M32 24h1M52 24h1M53 24h1M57 24h1M35 25h1M38 25h1M52 25h1M54 25h1M61 25h1M63 25h1M67 25h1M74 25h1M81 25h1M28 26h1M36 26h1M39 26h1M44 26h1M57 26h1M65 26h1M66 26h1M67 26h1M73 26h1M18 27h1M38 27h1M51 27h1M56 27h1M60 27h1M63 27h1M71 27h1M74 27h1M21 28h1M27 28h1M31 28h1M32 28h1M33 28h1M34 28h1M41 28h1M58 28h1M59 28h1M71 28h1M21 29h1M28 29h1M29 29h1M35 29h1M38 29h1M39 29h1M50 29h1M61 29h1M82 30h1M21 31h1M28 31h1M29 31h1M52 31h1M65 31h1M66 31h1M22 32h1M29 32h1M30 32h1M34 32h1M49 32h1M51 32h1M66 32h1M71 32h1M85 32h1M13 33h1M15 33h1M18 33h1M21 33h1M25 33h1M50 33h1M52 33h1M56 33h1M62 33h1M73 33h1M74 33h1M76 33h1M18 34h1M20 34h1M37 34h1M40 34h1M49 34h1M53 34h1M55 34h1M57 34h1M58 34h1M61 34h1M62 34h1M66 34h1M27 35h1M31 35h1M37 35h1M45 35h1M49 35h1M60 35h1M74 35h1M31 36h1M46 36h1M49 36h1M55 36h1M68 36h1M71 36h1M72 36h1M36 37h1M47 37h1M51 37h1M54 37h1M62 37h1M12 38h1M61 38h1M75 38h1M83 38h1M10 39h1M11 39h1M83 39h1M9 40h1M75 40h1M27 41h1M57 41h1M58 41h1M74 41h1M75 41h1M14 43h1M19 43h1M62 43h1M77 43h1M16 44h1M19 44h1M22 44h1M71 44h1M18 45h1M20 45h1M79 45h1M19 46h1M65 46h1M8 47h1M75 47h1M80 47h1M21 48h1M64 48h1M76 48h1M77 48h1M62 49h1M67 49h1M72 49h1M75 49h1M19 50h1M60 50h1M63 50h1M21 51h1M69 51h1M70 51h1M63 53h1M15 54h1M56 54h1M59 56h1M56 57h1M19 58h1M59 58h1M19 59h1M28 59h1M41 59h1M49 59h1M53 59h1M57 60h1M26 61h1M34 61h1M44 61h1M23 62h1M40 62h1M47 62h1M48 62h1M49 62h1M26 63h1M20 64h1M46 64h1M56 64h1M32 65h1M43 65h1M53 65h1M28 66h1M46 66h1M44 67h1M38 68h1M45 68h1M50 68h1M30 69h1M37 69h1M52 69h1M30 70h1M36 70h1M29 72h1M34 80h1M28 86h1M36 89h1"/>
<path stroke="#38d02c" d="M60 0h1M47 5h1M53 5h1M54 5h1M45 7h1M54 7h1M59 7h1M61 7h1M77 7h1M81 7h1M63 8h1M65 8h1M59 9h1M61 9h1M57 10h1M70 10h1M74 10h1M49 11h1M74 11h1M65 12h1M83 12h1M79 13h1M93 13h1M48 15h1M63 15h1M54 16h1M61 16h1M48 17h1M50 17h1M52 17h1M56 17h1M25 19h1M32 19h1M44 19h1M47 19h1M48 19h1M50 19h1M32 20h1M34 20h1M56 20h1M57 20h1M70 20h1M33 21h1M42 21h1M43 21h1M55 21h1M56 21h1M66 21h1M68 21h1M73 21h1M89 21h1M33 22h1M34 22h1M47 22h1M41 23h1M42 23h1M54 23h1M58 23h1M62 23h1M74 23h1M34 24h1M35 24h1M48 24h1M27 25h1M28 25h1M29 25h1M32 25h1M40 25h1M42 25h1M43 25h1M48 25h1M53 25h1M56 25h1M59 25h1M21 26h1M35 26h1M37 26h1M38 26h1M41 26h1M50 26h1M59 26h1M61 26h1M68 26h1M69 26h1M71 26h1M29 27h1M39 27h1M47 27h1M49 27h1M55 27h1M65 27h1M67 27h1M75 27h1M28 28h1M29 28h1M30 28h1M35 28h1M36 28h1M39 28h1M40 28h1M46 28h1M50 28h1M54 28h1M55 28h1M57 28h1M61 28h1M62 28h1M66 28h1M70 28h1M15 29h1M27 29h1M33 29h1M36 29h1M40 29h1M41 29h1M45 29h1M53 29h1M56 29h1M69 29h1M82 29h1M21 30h1M22 30h1M28 30h1M29 30h1M30 30h1M31 30h1M34 30h1M38 30h1M51 30h1M52 30h1M54 30h1M57 30h1M58 30h1M59 30h1M67 30h1M30 31h1M31 31h1M34 31h1M47 31h1M48 31h1M58 31h1M64 31h1M67 31h1M69 31h1M33 32h1M37 32h1M52 32h1M55 32h1M61 32h1M67 32h1M69 32h1M75 32h1M27 33h1M29 33h1M30 33h1M33 33h1M46 33h1M55 33h1M58 33h1M61 33h1M67 33h1M68 33h1M11 34h1M12 34h1M13 34h1M14 34h1M16 34h1M24 34h1M25 34h1M29 34h1M30 34h1M38 34h1M41 34h1M46 34h1M48 34h1M76 34h1M12 35h1M17 35h1M23 35h1M25 35h1M29 35h1M48 35h1M50 35h1M67 35h1M72 35h1M7 36h1M11 36h1M17 36h1M18 36h1M24 36h1M35 36h1M50 36h1M62 36h1M66 36h1M73 36h1M5 37h1M17 37h1M33 37h1M45 37h1M60 37h1M66 37h1M6 38h1M9 38h1M11 38h1M13 38h1M23 38h1M28 38h1M33 38h1M34 38h1M77 38h1M87 38h1M17 39h1M19 39h1M22 39h1M23 39h1M28 39h1M34 39h1M74 39h1M5 40h1M17 40h1M18 40h1M19 40h1M21 40h1M26 40h1M28 40h1M57 40h1M61 40h1M12 41h1M14 41h1M18 41h1M20 41h1M29 41h1M18 42h1M23 42h1M28 42h1M57 42h1M76 42h1M13 43h1M20 43h1M28 43h1M61 43h1M9 44h1M15 44h1M17 44h1M59 44h1M74 44h1M10 45h1M15 45h1M63 45h1M17 46h1M22 46h1M27 46h1M21 47h1M61 47h1M66 47h1M68 47h1M71 47h1M73 47h1M22 48h1M69 48h1M20 49h1M63 49h1M66 49h1M80 49h1M21 50h1M27 50h1M65 50h1M71 50h1M2 51h1M20 51h1M71 51h1M60 52h1M13 54h1M19 54h1M65 54h1M20 55h1M57 55h1M61 55h1M62 55h1M16 56h1M18 56h1M23 56h1M27 57h1M23 58h1M24 58h1M26 58h1M56 58h1M24 59h1M21 60h1M24 60h1M25 60h1M24 61h1M18 62h1M22 62h1M22 63h1M27 63h1M40 63h1M49 63h1M55 63h1M37 64h1M28 65h1M30 65h1M38 65h1M45 65h1M30 66h1M40 66h1M52 66h1M22 67h1M31 67h1M47 67h1M33 68h1M42 68h1M43 69h1M33 70h1M28 71h1M36 71h1M28 73h1M33 80h1M30 87h1M36 90h1"/>
<path stroke="#5bd72b" d="M60 1h1M53 3h1M66 3h1M72 3h1M62 4h1M50 5h1M48 7h1M59 8h1M53 9h1M56 9h1M62 10h1M55 11h1M56 11h1M58 11h1M70 11h1M49 12h1M54 12h1M57 12h1M48 13h1M52 13h1M62 14h1M69 15h1M72 15h1M66 16h1M84 16h1M55 17h1M79 17h1M63 18h1M24 19h1M26 19h1M29 19h1M53 19h1M53 20h1M60 20h1M52 21h1M53 21h1M72 21h1M43 22h1M54 22h1M64 22h1M40 23h1M44 23h1M48 23h1M50 23h1M57 23h1M59 23h1M61 23h1M67 23h1M43 24h1M49 24h1M50 24h1M54 24h1M59 24h1M67 24h1M68 24h1M77 24h1M23 25h1M31 25h1M34 25h1M36 25h1M39 25h1M49 25h1M51 25h1M66 25h1M23 26h1M24 26h1M27 26h1M30 26h1M32 26h1M55 26h1M58 26h1M90 26h1M23 27h1M28 27h1M33 27h1M34 27h1M35 27h1M41 27h1M42 27h1M45 27h1M46 27h1M50 27h1M58 27h1M73 27h1M38 28h1M42 28h1M47 28h1M56 28h1M68 28h1M73 28h1M37 29h1M58 29h1M63 29h1M65 29h1M70 29h1M73 29h1M81 29h1M20 30h1M25 30h1M37 30h1M43 30h1M48 30h1M56 30h1M60 30h1M23 31h1M24 31h1M33 31h1M38 31h1M43 31h1M44 31h1M46 31h1M49 31h1M59 31h1M16 32h1M19 32h1M20 32h1M25 32h1M27 32h1M39 32h1M41 32h1M44 32h1M45 32h1M48 32h1M57 32h1M60 32h1M63 32h1M64 32h1M65 32h1M72 32h1M73 32h1M74 32h1M24 33h1M28 33h1M64 33h1M71 33h1M72 33h1M19 34h1M23 34h1M28 34h1M31 34h1M63 34h1M72 34h1M73 34h1M74 34h1M9 35h1M13 35h1M14 35h1M18 35h1M19 35h1M20 35h1M61 35h1M62 35h1M66 35h1M70 35h1M26 36h1M27 36h1M30 36h1M39 36h1M41 36h1M54 36h1M60 36h1M61 36h1M4 37h1M9 37h1M12 37h1M13 37h1M14 37h1M18 37h1M19 37h1M22 37h1M23 37h1M24 37h1M28 37h1M30 37h1M32 37h1M35 37h1M71 37h1M73 37h1M17 38h1M18 38h1M27 38h1M35 38h1M58 38h1M60 38h1M63 38h1M4 39h1M13 39h1M15 39h1M60 39h1M61 39h1M76 39h1M87 39h1M7 40h1M13 40h1M14 40h1M16 40h1M35 40h1M13 41h1M15 41h1M16 41h1M55 41h1M2 42h1M11 42h1M13 42h1M14 42h1M15 42h1M22 42h1M60 42h1M84 42h1M58 43h1M59 43h1M23 44h1M8 45h1M57 45h1M64 45h1M76 45h1M10 46h1M15 46h1M23 46h1M59 46h1M63 46h1M64 46h1M75 46h1M22 47h1M67 47h1M20 48h1M27 48h1M60 48h1M21 49h1M65 49h1M29 50h1M61 51h1M19 52h1M21 52h1M61 52h1M14 53h1M16 53h1M22 53h1M58 53h1M12 54h1M60 54h1M13 55h1M23 55h1M27 55h1M60 55h1M17 56h1M20 56h1M25 56h1M27 56h1M15 57h1M17 57h1M55 57h1M21 58h1M27 58h1M29 58h1M61 58h1M18 59h1M21 59h1M25 59h1M46 59h1M50 59h1M22 60h1M28 60h1M54 60h1M59 60h1M19 61h1M27 61h1M29 61h1M20 62h1M30 62h1M45 62h1M51 62h1M20 63h1M28 63h1M30 63h1M33 63h1M45 63h1M53 63h1M56 63h1M57 63h1M19 64h1M27 64h1M28 64h1M30 64h1M31 64h1M38 64h1M40 64h1M52 64h1M31 66h1M38 66h1M44 66h1M23 67h1M30 67h1M54 67h1M27 68h1M29 68h1M34 68h1M36 69h1M41 69h1M26 70h1M37 70h1M41 70h1M47 70h1M34 71h1M34 72h1M35 72h1M34 73h1M27 74h1M28 74h1M35 80h1M33 82h1M30 86h1M35 87h1M33 88h1"/>
<path stroke="#7ddd29" d="M61 0h1M66 1h1M53 2h1M54 2h1M72 2h1M73 2h1M59 4h1M67 6h1M50 8h1M73 8h1M67 11h1M51 12h1M46 13h1M56 13h1M49 16h1M74 16h1M69 17h1M74 18h1M23 19h1M31 19h1M42 19h1M49 19h1M51 19h1M55 19h1M70 19h1M37 20h1M48 20h1M54 20h1M69 20h1M32 21h1M38 21h1M52 22h1M34 23h1M38 23h1M39 23h1M49 23h1M70 23h1M72 23h1M33 24h1M37 24h1M40 24h1M55 24h1M58 24h1M70 24h1M83 24h1M21 25h1M24 25h1M26 25h1M33 25h1M44 25h1M50 25h1M25 26h1M29 26h1M31 26h1M43 26h1M45 26h1M46 26h1M49 26h1M54 26h1M22 27h1M27 27h1M37 27h1M44 27h1M48 27h1M77 27h1M37 28h1M48 28h1M49 28h1M74 28h1M26 29h1M31 29h1M46 29h1M49 29h1M24 30h1M45 30h1M61 30h1M63 30h1M65 30h1M68 30h1M50 31h1M54 31h1M9 32h1M24 32h1M28 32h1M31 32h1M32 32h1M35 32h1M40 32h1M54 32h1M58 32h1M59 32h1M68 32h1M70 32h1M16 33h1M17 33h1M23 33h1M31 33h1M35 33h1M40 33h1M41 33h1M45 33h1M65 33h1M80 33h1M82 33h1M92 33h1M5 34h1M15 34h1M32 34h1M39 34h1M47 34h1M50 34h1M64 34h1M65 34h1M67 34h1M70 34h1M21 35h1M26 35h1M30 35h1M59 35h1M65 35h1M71 35h1M73 35h1M19 36h1M21 36h1M23 36h1M40 36h1M64 36h1M65 36h1M69 36h1M70 36h1M74 36h1M6 37h1M7 37h1M10 37h1M20 37h1M46 37h1M48 37h1M4 38h1M5 38h1M7 38h1M14 38h1M16 38h1M19 38h1M20 38h1M31 38h1M57 38h1M59 38h1M8 39h1M16 39h1M21 39h1M25 39h1M33 39h1M57 39h1M77 39h1M4 40h1M34 40h1M59 40h1M74 40h1M9 41h1M17 41h1M17 42h1M20 42h1M21 42h1M24 42h1M58 42h1M74 42h1M9 43h1M15 43h1M17 43h1M21 43h1M24 43h1M25 43h1M27 43h1M29 43h1M10 44h1M11 44h1M14 44h1M18 44h1M27 44h1M57 44h1M11 45h1M16 45h1M17 45h1M21 45h1M22 45h1M28 45h1M61 45h1M9 46h1M13 46h1M20 46h1M25 46h1M60 46h1M5 47h1M9 47h1M18 47h1M25 47h1M62 47h1M65 47h1M5 48h1M8 48h1M23 48h1M24 48h1M26 48h1M28 48h1M63 48h1M65 48h1M68 48h1M60 49h1M61 49h1M64 49h1M22 50h1M25 50h1M68 50h1M9 51h1M20 52h1M22 52h1M29 52h1M58 52h1M15 53h1M17 53h1M19 53h1M60 53h1M62 53h1M16 54h1M18 54h1M58 54h1M17 55h1M19 55h1M24 55h1M22 56h1M28 56h1M33 56h1M54 56h1M18 57h1M19 57h1M21 57h1M23 57h1M26 57h1M28 57h1M16 58h1M20 58h1M57 58h1M20 59h1M30 59h1M47 59h1M54 59h1M18 60h1M45 60h1M32 61h1M51 61h1M52 61h1M58 61h1M27 62h1M29 62h1M36 62h1M39 62h1M53 62h1M25 63h1M37 63h1M46 63h1M52 63h1M54 63h1M26 64h1M29 64h1M41 64h1M51 64h1M24 65h1M31 65h1M36 65h1M39 65h1M54 65h1M55 65h1M25 66h1M47 66h1M21 67h1M36 67h1M40 67h1M37 68h1M39 68h1M46 68h1M38 69h1M35 70h1M27 72h1M28 72h1M26 77h1M34 81h1M27 83h1M34 85h1M27 86h1M33 87h1M36 87h1M28 88h1M30 88h1M31 90h1"/>
<path stroke="#a0e428" d="M67 5h1M60 8h1M50 11h1M57 11h1M59 11h1M55 12h1M49 13h1M69 14h1M50 15h1M53 17h1M21 19h1M46 19h1M72 19h1M73 19h1M36 20h1M55 20h1M35 21h1M37 21h1M32 22h1M36 22h1M37 22h1M38 22h1M63 22h1M36 23h1M66 23h1M71 23h1M36 24h1M42 24h1M44 24h1M37 25h1M42 26h1M48 26h1M56 26h1M60 26h1M61 27h1M66 27h1M23 28h1M72 28h1M20 29h1M25 29h1M47 29h1M48 29h1M64 29h1M23 30h1M35 30h1M49 30h1M64 30h1M27 31h1M45 31h1M60 31h1M63 31h1M70 31h1M15 32h1M17 32h1M18 32h1M23 32h1M7 33h1M57 33h1M66 33h1M79 33h1M26 34h1M10 35h1M22 35h1M28 35h1M38 35h1M39 35h1M42 35h1M44 35h1M58 35h1M63 35h1M64 35h1M9 36h1M12 36h1M20 36h1M22 36h1M25 36h1M33 36h1M36 36h1M37 36h1M45 36h1M59 36h1M21 37h1M26 37h1M27 37h1M29 37h1M59 37h1M61 37h1M64 37h1M8 38h1M15 38h1M21 38h1M26 38h1M30 38h1M6 39h1M20 39h1M59 39h1M27 40h1M29 40h1M32 40h1M6 41h1M11 41h1M19 41h1M25 41h1M61 41h1M12 42h1M27 42h1M30 42h1M4 43h1M12 43h1M22 43h1M23 43h1M26 43h1M57 43h1M26 44h1M60 44h1M1 45h1M7 45h1M27 45h1M81 45h1M12 46h1M21 46h1M53 46h1M23 47h1M26 47h1M59 47h1M62 48h1M72 48h1M80 48h1M6 49h1M22 49h1M23 49h1M55 49h1M56 49h1M58 49h1M26 50h1M72 50h1M19 51h1M57 51h1M2 52h1M12 53h1M20 53h1M20 54h1M54 54h1M59 54h1M6 55h1M29 55h1M19 56h1M24 56h1M26 56h1M51 56h1M55 56h1M61 56h1M61 57h1M62 57h1M12 58h1M25 58h1M28 58h1M32 58h1M41 58h1M51 58h1M54 58h1M62 58h1M13 59h1M17 59h1M22 59h1M29 59h1M57 59h1M23 60h1M42 60h1M50 60h1M51 60h1M56 60h1M28 61h1M30 61h1M33 61h1M19 62h1M57 62h1M18 63h1M29 63h1M18 64h1M49 64h1M53 64h1M25 65h1M29 65h1M26 66h1M29 66h1M37 66h1M26 67h1M32 67h1M37 67h1M53 67h1M24 68h1M19 69h1M20 69h1M27 69h1M29 69h1M48 69h1M31 73h1M31 74h1M35 81h1M33 86h1M35 88h1M30 89h1M37 90h1M30 91h1M28 92h1"/>
<path stroke="#b9e523" d="M66 0h1M65 3h1M49 6h1M64 7h1M58 9h1M71 9h1M74 9h1M75 11h1M58 13h1M60 14h1M47 15h1M50 16h1M70 16h1M51 17h1M70 17h1M48 18h1M50 18h1M22 19h1M68 23h1M39 24h1M76 24h1M25 25h1M69 25h1M22 26h1M70 26h1M22 28h1M26 30h1M47 30h1M50 30h1M25 31h1M26 31h1M81 32h1M20 33h1M32 33h1M39 33h1M24 35h1M8 36h1M10 36h1M14 36h1M28 36h1M34 36h1M38 36h1M48 36h1M63 36h1M31 37h1M63 37h1M67 37h1M25 38h1M7 39h1M18 39h1M26 39h1M27 39h1M29 39h1M31 39h1M35 39h1M3 40h1M6 40h1M8 40h1M20 40h1M23 40h1M24 40h1M30 40h1M60 40h1M10 41h1M24 41h1M9 42h1M16 42h1M25 42h1M10 43h1M16 43h1M7 44h1M13 44h1M75 44h1M76 44h1M77 44h1M6 45h1M9 45h1M12 45h1M13 45h1M24 45h1M30 45h1M53 45h1M66 45h1M80 45h1M1 46h1M11 46h1M32 46h1M66 46h1M19 47h1M27 47h1M28 47h1M57 47h1M64 47h1M9 48h1M19 48h1M18 49h1M24 49h1M25 49h1M27 49h1M28 49h1M20 50h1M29 51h1M49 52h1M55 52h1M7 53h1M10 53h1M14 54h1M61 54h1M16 55h1M26 55h1M53 56h1M56 56h1M20 57h1M30 57h1M34 58h1M26 59h1M14 60h1M20 60h1M29 60h1M30 60h1M16 61h1M20 61h1M23 61h1M25 61h1M25 62h1M50 62h1M52 62h1M56 62h1M21 63h1M43 63h1M47 63h1M25 64h1M45 64h1M21 65h1M23 65h1M27 65h1M19 66h1M24 66h1M36 66h1M54 66h1M55 66h1M39 67h1M25 69h1M28 70h1M31 70h1M34 70h1M50 70h1M32 71h1M33 71h1M35 71h1M26 73h1M29 74h1M30 74h1M32 74h1M24 80h1M32 83h1M34 83h1M28 85h1M34 86h1M28 87h1M31 87h1M32 87h1M31 88h1M32 88h1M36 88h1M32 89h1M26 91h1M37 91h1M22 92h1"/>
<path stroke="#d3e51f" d="M56 1h1M61 1h1M65 5h1M54 6h1M49 10h1M52 10h1M74 15h1M52 16h1M49 17h1M73 18h1M37 23h1M66 24h1M68 25h1M71 25h1M77 26h1M46 30h1M66 30h1M71 30h1M18 31h1M20 31h1M71 31h1M77 32h1M70 33h1M75 33h1M75 34h1M77 34h1M11 35h1M57 35h1M13 36h1M34 37h1M69 37h1M37 38h1M32 39h1M36 40h1M53 40h1M3 41h1M4 41h1M8 41h1M26 41h1M60 41h1M4 42h1M10 42h1M26 42h1M2 43h1M5 43h1M11 43h1M12 44h1M24 44h1M28 44h1M14 45h1M29 45h1M31 45h1M58 45h1M59 45h1M60 45h1M68 45h1M3 46h1M6 46h1M57 46h1M77 46h1M7 47h1M20 47h1M24 47h1M30 47h1M29 48h1M56 48h1M30 49h1M57 49h1M59 49h1M23 50h1M57 50h1M59 51h1M6 53h1M8 53h1M9 53h1M29 53h1M51 53h1M54 53h1M17 54h1M29 54h1M47 54h1M15 55h1M54 55h1M58 55h1M2 56h1M21 56h1M62 56h1M22 57h1M24 57h1M25 57h1M32 57h1M51 57h1M0 58h1M22 58h1M55 58h1M60 58h1M12 59h1M27 59h1M52 59h1M16 60h1M26 60h1M27 60h1M21 62h1M28 62h1M46 62h1M44 63h1M51 63h1M32 64h1M34 64h1M26 65h1M37 65h1M44 65h1M22 66h1M24 67h1M20 68h1M28 68h1M25 71h1M26 71h1M31 72h1M33 72h1M33 73h1M21 75h1M25 81h1M28 84h1M35 86h1M35 89h1M27 90h1M35 90h1M36 91h1M23 93h1"/>
<path stroke="#ece61a" d="M52 3h1M50 9h1M47 13h1M57 13h1M52 15h1M73 17h1M53 18h1M61 20h1M51 22h1M53 22h1M70 25h1M19 31h1M11 37h1M25 37h1M65 37h1M24 38h1M29 38h1M24 39h1M58 39h1M33 40h1M5 41h1M28 41h1M54 41h1M5 42h1M29 42h1M56 42h1M3 43h1M25 44h1M31 44h1M33 44h1M34 44h1M61 44h1M2 45h1M3 45h1M8 46h1M58 46h1M62 46h1M3 47h1M36 48h1M58 48h1M53 49h1M4 50h1M5 50h1M4 51h1M22 51h1M1 52h1M7 54h1M25 55h1M31 55h1M39 55h1M53 55h1M55 55h1M56 55h1M59 55h1M0 56h1M18 58h1M37 58h1M48 58h1M52 58h1M48 59h1M12 60h1M19 60h1M36 60h1M53 60h1M55 60h1M13 61h1M53 61h1M54 61h1M56 61h1M16 62h1M26 62h1M24 64h1M50 64h1M27 66h1M35 66h1M42 66h1M18 67h1M19 67h1M38 67h1M15 68h1M30 68h1M31 68h1M48 68h1M28 69h1M32 69h1M49 69h1M27 70h1M24 71h1M26 72h1M30 72h1M32 72h1M27 73h1M32 73h1M33 81h1M34 82h1M29 83h1M33 83h1M26 86h1M34 87h1M26 88h1M27 89h1M29 89h1"/>
<path stroke="#edde1b" d="M59 2h1M51 3h1M59 13h1M52 14h1M72 22h1M76 32h1M17 34h1M32 38h1M36 38h1M47 38h1M5 39h1M25 40h1M31 40h1M37 40h1M31 41h1M33 41h1M34 42h1M54 43h1M6 44h1M29 44h1M30 44h1M67 45h1M68 46h1M6 47h1M55 47h1M25 48h1M32 48h1M35 48h1M55 48h1M9 49h1M1 50h1M2 50h1M52 50h1M55 51h1M34 52h1M11 53h1M30 53h1M47 53h1M56 53h1M6 54h1M50 54h1M11 55h1M14 55h1M18 55h1M45 55h1M50 55h1M12 56h1M29 56h1M31 56h1M60 56h1M4 57h1M14 57h1M38 57h1M54 57h1M36 58h1M50 58h1M55 59h1M56 59h1M15 61h1M17 61h1M21 61h1M3 62h1M24 62h1M23 63h1M24 63h1M42 64h1M22 65h1M40 65h1M20 66h1M23 66h1M25 68h1M24 69h1M31 69h1M33 69h1M34 69h1M20 70h1M25 70h1M32 70h1M25 72h1M24 75h1M18 76h1M35 83h1M22 84h1M36 86h1M34 88h1M23 90h1M30 90h1"/>
<path stroke="#eed61c" d="M36 21h1M69 24h1M43 33h1M77 33h1M29 36h1M70 37h1M55 38h1M32 41h1M56 41h1M7 42h1M54 42h1M55 42h1M2 44h1M25 45h1M26 45h1M32 45h1M2 46h1M4 46h1M4 47h1M37 47h1M54 47h1M3 48h1M7 48h1M54 48h1M3 49h1M8 49h1M37 49h1M35 51h1M49 51h1M52 52h1M4 53h1M18 53h1M36 54h1M51 54h1M1 56h1M38 56h1M52 56h1M53 57h1M40 58h1M53 58h1M51 59h1M6 60h1M17 60h1M49 60h1M14 61h1M6 62h1M20 65h1M9 66h1M24 70h1M14 73h1M25 75h1M25 76h1M30 81h1M35 82h1M23 88h1M24 89h1M24 90h1"/>
<path stroke="#efce1d" d="M51 21h1M71 24h1M7 41h1M32 42h1M33 42h1M7 43h1M30 43h1M4 44h1M5 44h1M8 44h1M32 44h1M4 45h1M24 46h1M31 46h1M34 46h1M34 47h1M35 47h1M56 47h1M6 48h1M31 48h1M34 48h1M31 49h1M32 49h1M54 49h1M31 50h1M46 50h1M54 50h1M31 51h1M39 51h1M53 51h1M35 52h1M31 53h1M52 53h1M3 54h1M48 54h1M30 56h1M48 56h1M50 56h1M5 57h1M49 57h1M1 58h1M5 58h1M49 58h1M3 60h1M15 60h1M43 60h1M52 60h1M5 62h1M4 63h1M5 64h1M35 65h1M18 66h1M21 66h1M26 68h1M26 69h1M31 71h1M23 73h1M26 74h1M15 77h1M19 78h1M20 79h1M19 82h1M21 84h1M34 84h1M32 86h1M22 88h1M33 89h1M26 92h1M21 93h1"/>
<path stroke="#f0c61e" d="M42 32h1M44 33h1M54 38h1M56 38h1M6 42h1M37 42h1M51 42h1M6 43h1M8 43h1M31 43h1M1 44h1M3 44h1M30 46h1M29 47h1M33 48h1M37 48h1M33 49h1M52 49h1M41 50h1M30 51h1M33 51h1M34 51h1M56 51h1M3 52h1M5 52h1M42 52h1M53 52h1M5 53h1M30 54h1M37 54h1M5 55h1M10 55h1M32 56h1M60 57h1M16 59h1M39 59h1M3 61h1M12 61h1M8 64h1M25 67h1M30 73h1M19 75h1M22 75h1M23 76h1M24 76h1M18 77h1M18 78h1M24 81h1M25 82h1M21 83h1M31 83h1M25 84h1M31 84h1M33 84h1M32 85h1M21 87h1M29 88h1M25 90h1M23 91h1M23 92h1M27 92h1M30 92h1M25 93h1M22 94h1M23 94h1"/>
<path stroke="#eebd1f" d="M42 33h1M40 35h1M46 39h1M56 40h1M34 41h1M36 42h1M54 44h1M55 44h1M33 45h1M34 45h1M5 46h1M26 46h1M33 46h1M31 47h1M33 47h1M4 48h1M5 49h1M7 49h1M38 49h1M30 50h1M32 50h1M33 50h1M51 50h1M56 50h1M32 51h1M42 51h1M50 51h1M58 51h1M7 52h1M31 52h1M32 52h1M54 52h1M56 52h1M34 53h1M41 53h1M45 53h1M48 53h1M50 53h1M53 53h1M55 53h1M45 54h1M55 54h1M34 55h1M52 55h1M9 56h1M50 57h1M9 58h1M42 59h1M43 59h1M8 60h1M4 61h1M39 61h1M40 61h1M41 61h1M42 61h1M45 61h1M46 61h1M2 64h1M34 65h1M17 67h1M35 67h1M22 68h1M22 69h1M17 76h1M23 83h1M32 84h1M20 88h1M28 89h1M20 92h1"/>
<path stroke="#ebb420" d="M48 39h1M51 40h1M55 40h1M53 44h1M56 44h1M35 45h1M47 47h1M53 47h1M60 47h1M1 48h1M30 48h1M53 48h1M59 48h1M34 49h1M51 49h1M34 50h1M50 50h1M58 50h1M1 51h1M6 51h1M8 51h1M48 51h1M33 52h1M50 52h1M33 54h1M39 54h1M32 55h1M33 55h1M47 55h1M46 57h1M6 59h1M44 60h1M46 60h1M5 61h1M15 62h1M44 64h1M33 65h1M19 74h1M20 77h1M18 79h1M18 80h1M20 80h1M19 81h1M18 82h1M30 85h1M33 85h1M27 87h1M19 89h1M22 91h1M25 91h1M24 94h1"/>
<path stroke="#e9aa20" d="M46 38h1M50 38h1M53 38h1M56 39h1M47 40h1M49 40h1M50 40h1M52 40h1M54 40h1M35 41h1M48 41h1M35 43h1M38 43h1M55 43h1M56 43h1M55 45h1M28 46h1M54 46h1M32 47h1M2 48h1M51 48h1M4 49h1M26 49h1M36 49h1M9 50h1M48 50h1M49 50h1M55 50h1M7 51h1M51 51h1M52 51h1M57 52h1M59 52h1M33 53h1M40 53h1M46 53h1M1 54h1M4 54h1M10 54h1M38 54h1M3 55h1M39 56h1M40 56h1M0 57h1M6 57h1M10 57h1M48 57h1M46 58h1M40 60h1M11 61h1M41 62h1M5 63h1M19 63h1M17 64h1M11 66h1M34 66h1M19 76h1M23 81h1M18 86h1M23 87h1M25 87h1M20 89h1M18 90h1M21 91h1M25 94h1"/>
<path stroke="#e6a121" d="M48 38h1M30 39h1M54 39h1M36 41h1M52 41h1M8 42h1M31 42h1M49 42h1M32 43h1M34 43h1M29 46h1M35 46h1M38 46h1M55 46h1M45 48h1M1 49h1M29 49h1M50 49h1M6 50h1M9 52h1M44 52h1M39 53h1M53 54h1M35 55h1M10 56h1M34 56h1M43 56h1M39 57h1M44 57h1M47 58h1M4 59h1M5 59h1M44 59h1M41 60h1M43 61h1M47 61h1M13 63h1M43 64h1M11 65h1M3 67h1M23 68h1M14 69h1M16 69h1M23 69h1M15 71h1M19 71h1M15 72h1M22 74h1M23 78h1M12 79h1M22 80h1M17 87h1M19 88h1M21 88h1M31 91h1M18 92h1M21 92h1M24 92h1M22 93h1"/>
<path stroke="#e49822" d="M49 38h1M38 41h1M53 41h1M38 42h1M49 43h1M56 45h1M35 49h1M45 49h1M35 50h1M36 50h1M39 50h1M44 51h1M30 52h1M46 52h1M48 52h1M3 53h1M41 54h1M1 55h1M4 55h1M44 55h1M5 56h1M8 56h1M40 57h1M11 58h1M11 59h1M45 59h1M11 60h1M2 62h1M17 62h1M42 63h1M12 64h1M15 65h1M10 66h1M13 66h1M15 66h1M33 66h1M4 69h1M5 70h1M16 70h1M23 70h1M19 72h1M21 72h1M17 73h1M20 73h1M18 84h1M19 86h1M18 87h1M22 89h1M21 90h1M22 90h1M20 91h1M24 93h1"/>
<path stroke="#e19123" d="M44 34h1M51 38h1M47 39h1M49 39h1M52 39h1M46 40h1M48 40h1M30 41h1M50 42h1M50 43h1M52 43h1M35 44h1M46 46h1M1 47h1M2 49h1M39 49h1M7 50h1M8 50h1M40 50h1M43 50h1M53 50h1M1 53h1M32 53h1M34 54h1M41 55h1M6 56h1M43 57h1M14 62h1M9 63h1M11 63h1M13 64h1M17 66h1M15 69h1M15 70h1M8 71h1M12 72h1M23 72h1M18 73h1M19 73h1M21 74h1M11 81h1M18 81h1M21 81h1M23 84h1M20 86h1M20 87h1M16 88h1M17 88h1M18 91h1M19 91h1M19 92h1"/>
<path stroke="#de8b23" d="M41 35h1M55 39h1M47 41h1M49 41h1M51 41h1M39 42h1M52 42h1M37 43h1M48 43h1M53 43h1M36 45h1M39 45h1M36 46h1M47 46h1M2 47h1M46 47h1M58 47h1M57 48h1M42 49h1M48 49h1M59 50h1M37 51h1M46 51h1M8 52h1M35 53h1M2 54h1M31 54h1M32 54h1M30 55h1M36 55h1M40 55h1M35 56h1M42 56h1M47 57h1M43 58h1M45 58h1M7 61h1M9 64h1M6 65h1M16 73h1M17 79h1M21 79h1M22 82h1M15 84h1M20 85h1M24 86h1M18 88h1M19 90h1M25 92h1M27 93h1"/>
<path stroke="#db8424" d="M37 37h1M50 39h1M50 41h1M44 45h1M37 46h1M49 48h1M50 48h1M52 48h1M49 49h1M37 50h1M42 50h1M44 50h1M45 50h1M38 51h1M39 52h1M47 52h1M2 53h1M37 53h1M38 55h1M11 56h1M36 56h1M47 56h1M6 58h1M40 59h1M39 60h1M6 61h1M43 62h1M15 67h1M8 68h1M13 69h1M11 74h1M11 77h1M17 77h1M23 77h1M20 90h1"/>
<path stroke="#d87e25" d="M52 38h1M47 42h1M39 43h1M37 44h1M41 45h1M42 45h1M39 47h1M36 51h1M38 52h1M43 52h1M42 53h1M42 54h1M48 55h1M49 55h1M45 56h1M45 57h1M2 61h1M9 61h1M8 62h1M6 64h1M11 73h1M17 74h1M21 80h1M26 93h1"/>
<path stroke="#d57726" d="M51 39h1M46 42h1M48 42h1M41 43h1M46 43h1M38 44h1M42 44h1M37 45h1M40 45h1M44 46h1M44 47h1M44 48h1M46 48h1M40 49h1M47 49h1M38 50h1M45 51h1M47 51h1M6 52h1M40 54h1M37 55h1M7 57h1M41 57h1M42 58h1M10 63h1M7 65h1M16 74h1"/>
<path stroke="#d37227" d="M40 43h1M51 43h1M41 44h1M46 44h1M46 45h1M43 46h1M38 47h1M43 47h1M45 47h1M43 48h1M37 52h1M36 53h1M43 53h1M49 54h1M14 70h1M6 73h1M19 87h1"/>
<path stroke="#d16e28" d="M44 42h1M45 43h1M47 44h1M43 45h1M45 45h1M41 46h1M42 46h1M42 47h1M41 48h1M41 49h1M54 51h1M38 53h1M44 56h1M19 84h1M18 89h1"/>
<path stroke="#cf6b29" d="M46 41h1M45 42h1M42 43h1M43 43h1M47 43h1M36 44h1M40 44h1M45 44h1M47 45h1M40 47h1M40 48h1M47 48h1M48 48h1M47 50h1M45 52h1M46 56h1M44 58h1M18 72h1"/>
<path stroke="#cd672a" d="M44 43h1M39 44h1M36 52h1M49 53h1M44 54h1"/>
<path stroke="#cc632b" d="M44 44h1M43 49h1M44 49h1M43 54h1M43 55h1"/>
<path stroke="#ca5f2c" d="M43 44h1M10 62h1"/>
<path stroke="#c85c2d" d="M40 46h1M39 48h1"/>
<path stroke="#c6582e" d="M45 46h1"/>
<path stroke="#c6582e" d="M41 47h1"/>
</g></g><rect x="40" y="40" width="260" height="250" fill="url(#rgrid)"/><g stroke="#fff" stroke-width="0.7" stroke-opacity="0.6" fill="none"><line x1="120" y1="210" x2="192" y2="98"/><line x1="160" y1="96" x2="270" y2="96"/><line x1="95" y1="180" x2="140" y2="115"/><line x1="170" y1="200" x2="230" y2="120"/></g></g>
<path d="M182.5,52.6 L185.0,52.5 L200.0,51.0 L221.3,50.7 L222.7,55.5 L238.7,56.8 L262.9,63.4 L279.1,62.6 L281.6,67.1 L279.1,69.8 L278.4,74.8 L279.1,77.9 L277.2,82.3 L267.3,91.6 L267.3,107.1 L269.8,115.0 L271.0,118.7 L268.2,122.4 L268.6,125.2 L265.4,130.8 L261.7,133.2 L259.8,138.3 L252.3,144.8 L253.7,149.4 L251.4,151.8 L244.9,160.6 L242.1,163.4 L235.6,164.3 L223.0,165.7 L218.3,169.2 L210.2,163.3 L206.7,165.7 L205.5,175.0 L202.0,179.7 L199.7,185.5 L195.0,189.0 L188.0,196.0 L182.2,203.0 L176.3,210.0 L167.0,213.5 L148.3,212.3 L139.0,214.7 L132.0,220.5 L129.7,228.7 L128.7,234.7 L136.7,236.7 L137.0,242.7 L133.7,247.7 L137.3,249.0 L139.3,251.3 L141.3,256.7 L142.3,261.3 L140.0,260.7 L137.3,256.7 L132.7,256.0 L132.0,252.7 L130.0,252.7 L129.7,255.3 L129.0,262.0 L127.0,262.7 L125.7,258.0 L124.0,258.7 L121.7,262.0 L118.0,265.3 L114.0,267.3 L110.0,268.7 L107.2,269.6 L105.7,262.6 L101.8,263.8 L99.5,262.2 L98.7,254.8 L93.3,254.1 L93.3,252.9 L88.6,247.9 L86.7,248.6 L80.9,244.4 L79.3,240.5 L79.3,228.9 L77.0,225.0 L74.7,223.4 L72.3,218.8 L68.6,219.2 L64.9,214.1 L61.2,213.2 L64.4,205.7 L63.0,199.2 L59.8,195.5 L62.1,190.8 L61.6,187.1 L56.0,183.4 L58.4,177.8 L58.3,173.3 L59.2,154.2 L62.5,150.8 L63.3,145.8 L65.0,145.0 L65.8,140.0 L67.5,131.7 L94.2,118.3 L104.2,110.8 L105.0,110.0 L102.5,107.5 L102.5,96.3 L130.0,95.8 L130.0,105.0 L139.2,95.0 L139.2,89.2 L145.0,89.2 L149.2,90.8 L147.5,91.7 L148.3,96.3 L168.0,94.6 L167.5,89.0 L159.8,88.2 L159.8,65.5 L178.2,58.7 L182.5,56.1 Z" fill="none" stroke="#000" stroke-width="2" stroke-linejoin="round"/>
</g>
<rect x="303.5" y="41" width="253" height="247.5" fill="none" stroke="#000" stroke-width="1.6"/>
<text x="316.60" y="74.00" font-family="'Liberation Serif','Times New Roman',serif" font-size="34" font-weight="bold" >b</text>
<rect x="469.7" y="186.0" width="26.0" height="12.2" fill="#fff" stroke="#000" stroke-width="1.8"/>
<text x="500.80" y="196.10" font-family="'Liberation Serif','Times New Roman',serif" font-size="10" textLength="40.2" lengthAdjust="spacingAndGlyphs" >Study area</text>
<text x="471.50" y="215.80" font-family="'Liberation Serif','Times New Roman',serif" font-size="12.2" font-weight="bold" textLength="49.5" lengthAdjust="spacingAndGlyphs" >TN (g/kg)</text>
<rect x="469.3" y="226.1" width="24.4" height="25.6" fill="url(#cbar)"/>
<line x1="493.7" y1="226.4" x2="495.7" y2="226.4" stroke="#aaa" stroke-width="0.6"/>
<line x1="493.7" y1="238.9" x2="495.7" y2="238.9" stroke="#aaa" stroke-width="0.6"/>
<line x1="493.7" y1="251.4" x2="495.7" y2="251.4" stroke="#aaa" stroke-width="0.6"/>
<text x="500.80" y="229.90" font-family="'Liberation Serif','Times New Roman',serif" font-size="10" textLength="39.8" lengthAdjust="spacingAndGlyphs" >High: 4.14</text>
<text x="500.80" y="255.40" font-family="'Liberation Serif','Times New Roman',serif" font-size="10" textLength="38.8" lengthAdjust="spacingAndGlyphs" >Low: 0.56</text>
<rect x="457.9" y="278.1" width="37.5" height="4.8" fill="#000" stroke="#111" stroke-width="1"/>
<rect x="495.4" y="278.1" width="36.5" height="4.8" fill="#fff" stroke="#222" stroke-width="1"/>
<text x="457.70" y="272.90" font-family="'Liberation Sans',Arial,sans-serif" font-size="11" text-anchor="middle" >0</text>
<text x="495.40" y="272.90" font-family="'Liberation Sans',Arial,sans-serif" font-size="11" text-anchor="middle" >10</text>
<text x="531.90" y="272.90" font-family="'Liberation Sans',Arial,sans-serif" font-size="11" text-anchor="middle" >20</text>
<text x="535.30" y="283.40" font-family="'Liberation Sans',Arial,sans-serif" font-size="11"  >km</text>
<g transform="translate(0,274.7)">
<rect x="43.5" y="41" width="253" height="247.5" fill="#fdfdfd"/>
<g clip-path="url(#frameclip)"><g mask="url(#hmask)"><rect x="-60" y="-60" width="460" height="460" filter="url(#hillf)" transform="rotate(-58 170 165)"/></g></g>
<path d="M122.5,43 C120,52 118.5,58 119,66 C119.5,72 121,78 120,84" fill="none" stroke="#a8a8a8" stroke-width="2" stroke-opacity="0.5" stroke-dasharray="9,3,5,4,12,3" filter="url(#hs2)"/>
<g clip-path="url(#clipmap)"><g filter="url(#soft)"><g transform="translate(56.00,51.85) scale(2.3,2.3)" fill="none" stroke-width="1">
<path stroke="#0e3f7b" d="M23 50h1"/>
<path stroke="#11477f" d="M58 12h1M22 57h1"/>
<path stroke="#144e82" d="M24 56h1"/>
<path stroke="#185585" d="M53 11h1M21 51h1"/>
<path stroke="#1b5d89" d="M20 48h1M20 76h1"/>
<path stroke="#1e648c" d="M59 11h1M52 12h1M20 46h1M24 55h1M29 66h1M20 68h1M22 68h1M23 73h1M28 73h1"/>
<path stroke="#1f6c8a" d="M51 13h1M17 39h1M19 46h1M18 48h1M19 48h1M20 51h1M22 56h1M23 57h1M28 63h1M28 64h1M27 66h1M28 70h1M27 92h1"/>
<path stroke="#1f7389" d="M54 12h1M58 13h1M59 13h1M12 46h1M5 50h1M19 53h1M23 55h1M23 58h1M25 58h1M34 62h1M24 64h1M18 66h1M20 66h1M29 68h1M23 70h1M22 72h1M19 80h1"/>
<path stroke="#207b87" d="M57 11h1M50 13h1M52 13h1M54 13h1M32 42h1M17 45h1M25 45h1M17 46h1M20 50h1M5 53h1M21 58h1M21 61h1M26 62h1M35 63h1M25 64h1M26 64h1M29 65h1M38 70h1M29 71h1M23 75h1M18 81h1M20 81h1M21 87h1"/>
<path stroke="#208386" d="M54 11h1M56 11h1M58 11h1M66 12h1M56 13h1M60 13h1M17 32h1M19 34h1M11 38h1M10 39h1M8 42h1M18 46h1M7 50h1M21 50h1M26 55h1M17 57h1M18 57h1M17 59h1M28 59h1M18 62h1M34 64h1M27 65h1M32 67h1M23 68h1M27 69h1M27 70h1M27 73h1M21 75h1M18 76h1M24 84h1M30 87h1"/>
<path stroke="#218a84" d="M51 11h1M60 11h1M62 11h1M50 12h1M51 12h1M64 12h1M50 25h1M15 34h1M17 34h1M5 37h1M16 38h1M11 39h1M13 39h1M20 44h1M19 47h1M19 50h1M22 50h1M7 51h1M20 55h1M19 58h1M28 58h1M23 59h1M19 60h1M23 61h1M22 62h1M25 63h1M16 67h1M29 67h1M18 70h1M21 72h1M18 74h1M16 83h1M20 90h1M37 90h1"/>
<path stroke="#229283" d="M53 12h1M57 12h1M65 12h1M55 13h1M13 33h1M7 37h1M4 38h1M3 40h1M14 40h1M9 41h1M16 45h1M16 46h1M5 48h1M22 52h1M13 53h1M16 53h1M11 54h1M45 55h1M16 57h1M21 57h1M22 58h1M39 58h1M42 58h1M21 59h1M25 59h1M27 61h1M25 62h1M28 62h1M33 64h1M20 65h1M19 68h1M19 69h1M28 69h1M35 70h1M27 71h1M28 71h1M29 72h1M30 72h1M19 75h1M14 80h1M20 83h1M32 86h1M17 87h1M26 87h1M31 87h1M16 88h1M30 92h1"/>
<path stroke="#23997e" d="M54 6h1M50 11h1M59 12h1M61 12h1M63 12h1M61 13h1M37 22h1M9 32h1M11 34h1M8 37h1M17 37h1M9 38h1M15 40h1M3 41h1M17 41h1M25 42h1M30 42h1M30 43h1M19 44h1M12 45h1M19 45h1M20 45h1M14 46h1M2 47h1M22 47h1M27 48h1M28 48h1M24 50h1M27 50h1M20 52h1M12 53h1M30 53h1M7 54h1M22 54h1M21 55h1M21 56h1M23 56h1M27 57h1M23 60h1M25 60h1M18 63h1M21 64h1M29 64h1M17 66h1M46 66h1M17 68h1M28 68h1M41 68h1M47 70h1M50 70h1M21 71h1M23 71h1M36 71h1M22 73h1M36 87h1M30 89h1M36 89h1"/>
<path stroke="#25a077" d="M53 7h1M88 9h1M55 11h1M61 11h1M67 11h1M60 12h1M57 13h1M49 21h1M69 27h1M23 30h1M55 31h1M19 32h1M16 33h1M19 33h1M20 33h1M55 33h1M12 34h1M13 34h1M15 38h1M19 38h1M6 39h1M17 40h1M32 41h1M3 42h1M4 43h1M7 43h1M31 43h1M85 43h1M17 44h1M18 44h1M18 47h1M27 47h1M67 48h1M2 49h1M9 49h1M20 49h1M21 49h1M23 49h1M3 50h1M6 51h1M11 55h1M25 55h1M24 57h1M25 57h1M20 58h1M20 59h1M24 60h1M13 61h1M20 61h1M24 62h1M33 63h1M44 63h1M46 63h1M38 65h1M39 66h1M20 67h1M15 68h1M50 68h1M31 69h1M39 69h1M48 69h1M29 70h1M37 70h1M30 71h1M35 71h1M31 72h1M32 72h1M23 74h1M21 76h1M23 77h1M20 82h1M21 84h1M31 86h1M17 88h1M19 88h1M36 88h1M18 91h1M36 91h1M27 93h1M22 94h1"/>
<path stroke="#27a670" d="M55 1h1M79 5h1M96 12h1M91 14h1M90 16h1M48 20h1M36 21h1M36 22h1M33 25h1M74 26h1M56 29h1M55 30h1M15 32h1M18 32h1M12 36h1M24 37h1M34 37h1M18 38h1M15 39h1M34 39h1M5 40h1M11 40h1M19 40h1M84 40h1M28 41h1M6 42h1M24 42h1M31 42h1M84 42h1M13 44h1M15 44h1M22 44h1M6 45h1M29 45h1M22 46h1M32 46h1M62 46h1M82 46h1M6 47h1M20 47h1M2 48h1M22 48h1M74 48h1M18 49h1M19 49h1M24 49h1M28 49h1M6 50h1M19 51h1M61 51h1M4 53h1M21 53h1M3 55h1M13 55h1M10 56h1M16 56h1M17 56h1M45 56h1M26 57h1M28 57h1M41 57h1M45 58h1M16 60h1M26 60h1M14 61h1M24 61h1M25 61h1M29 61h1M19 62h1M20 62h1M54 62h1M15 63h1M16 63h1M19 63h1M47 63h1M4 64h1M15 64h1M19 64h1M20 64h1M34 65h1M50 65h1M54 65h1M28 66h1M37 66h1M13 67h1M17 67h1M28 67h1M36 69h1M36 70h1M27 72h1M30 74h1M19 82h1M27 83h1M24 87h1M32 88h1M33 89h1M18 90h1M18 92h1"/>
<path stroke="#28ad69" d="M70 7h1M55 10h1M65 11h1M55 12h1M62 12h1M67 12h1M53 13h1M82 13h1M71 14h1M46 15h1M87 25h1M48 26h1M35 27h1M64 28h1M46 29h1M13 30h1M76 30h1M20 32h1M31 32h1M15 33h1M5 34h1M14 34h1M18 34h1M22 34h1M19 35h1M22 35h1M7 36h1M15 37h1M27 37h1M8 38h1M10 38h1M20 38h1M5 39h1M7 39h1M16 39h1M61 39h1M86 39h1M10 40h1M24 40h1M75 40h1M31 41h1M14 43h1M26 43h1M8 44h1M14 44h1M21 45h1M67 45h1M1 47h1M9 47h1M67 47h1M23 48h1M4 49h1M72 49h1M4 50h1M70 50h1M5 52h1M5 55h1M17 55h1M27 56h1M28 56h1M19 57h1M27 58h1M22 59h1M27 59h1M3 60h1M17 60h1M20 60h1M22 60h1M30 60h1M22 61h1M28 61h1M43 61h1M29 62h1M43 62h1M57 62h1M13 63h1M42 63h1M50 63h1M18 64h1M35 64h1M38 64h1M46 64h1M30 65h1M47 65h1M45 66h1M49 67h1M54 67h1M21 68h1M39 68h1M43 68h1M44 68h1M49 68h1M37 71h1M33 72h1M20 73h1M29 73h1M34 73h1M16 74h1M26 74h1M31 74h1M22 75h1M22 76h1M21 83h1M22 83h1M30 84h1M28 86h1M36 86h1M21 88h1M31 88h1M35 88h1M28 89h1M35 90h1M21 93h1M24 93h1"/>
<path stroke="#2ab361" d="M60 0h1M51 7h1M90 15h1M69 16h1M93 16h1M83 17h1M27 19h1M50 20h1M85 21h1M85 22h1M41 25h1M80 25h1M19 26h1M71 26h1M56 27h1M17 28h1M32 29h1M47 29h1M54 31h1M57 32h1M92 32h1M14 33h1M17 33h1M20 34h1M29 34h1M45 34h1M21 35h1M57 35h1M67 35h1M10 36h1M18 37h1M52 37h1M7 38h1M86 38h1M52 39h1M87 39h1M18 40h1M53 40h1M13 41h1M34 41h1M14 42h1M27 42h1M85 42h1M8 43h1M32 43h1M34 43h1M11 44h1M26 44h1M28 44h1M2 45h1M4 45h1M28 45h1M7 46h1M15 46h1M28 46h1M3 47h1M68 47h1M22 49h1M79 49h1M62 51h1M19 52h1M46 53h1M57 53h1M4 54h1M37 54h1M28 55h1M6 56h1M25 56h1M26 56h1M26 58h1M46 58h1M53 58h1M18 59h1M19 59h1M24 59h1M26 59h1M40 59h1M4 60h1M28 60h1M8 61h1M26 61h1M32 61h1M15 62h1M20 63h1M23 63h1M24 63h1M5 64h1M23 64h1M27 64h1M14 65h1M28 65h1M55 65h1M9 66h1M32 66h1M36 66h1M54 66h1M21 67h1M30 67h1M42 67h1M46 67h1M47 67h1M23 69h1M35 69h1M42 69h1M30 70h1M44 70h1M34 72h1M21 74h1M16 75h1M23 82h1M32 83h1M25 85h1M23 87h1M27 89h1M35 89h1M31 90h1M24 92h1M25 94h1"/>
<path stroke="#2cba5a" d="M54 0h1M77 2h1M52 3h1M53 3h1M71 5h1M52 6h1M98 6h1M69 7h1M70 9h1M64 11h1M66 11h1M56 12h1M78 13h1M75 14h1M70 16h1M70 17h1M61 18h1M88 18h1M32 19h1M65 20h1M50 22h1M50 23h1M27 25h1M30 25h1M32 25h1M34 25h1M49 25h1M27 26h1M82 26h1M88 26h1M91 26h1M67 27h1M68 27h1M82 27h1M55 28h1M71 28h1M15 29h1M28 30h1M75 30h1M93 30h1M11 31h1M29 31h1M36 31h1M46 31h1M75 31h1M22 32h1M23 32h1M24 32h1M90 33h1M16 34h1M26 34h1M30 34h1M10 35h1M17 35h1M13 36h1M24 36h1M20 37h1M35 37h1M61 37h1M5 38h1M12 38h1M84 38h1M88 38h1M21 39h1M16 40h1M25 40h1M31 40h1M7 41h1M16 41h1M75 41h1M76 41h1M10 42h1M20 42h1M34 42h1M6 43h1M9 43h1M17 43h1M33 43h1M2 44h1M72 44h1M14 45h1M15 45h1M31 45h1M33 45h1M82 45h1M11 46h1M24 46h1M27 46h1M61 46h1M70 46h1M21 47h1M72 47h1M21 48h1M24 48h1M25 48h1M68 48h1M79 48h1M78 49h1M8 50h1M25 50h1M26 50h1M28 50h1M32 50h1M49 50h1M63 50h1M65 50h1M4 51h1M30 51h1M32 51h1M60 52h1M64 52h1M20 54h1M53 54h1M15 55h1M19 55h1M35 55h1M51 56h1M36 57h1M45 57h1M8 58h1M17 58h1M24 58h1M62 58h1M15 59h1M29 59h1M42 59h1M21 60h1M50 60h1M7 61h1M16 61h1M30 61h1M58 61h1M17 62h1M21 62h1M42 62h1M45 62h1M26 63h1M36 64h1M47 64h1M48 64h1M53 64h1M13 65h1M33 65h1M42 65h1M45 65h1M51 65h1M30 66h1M50 66h1M27 67h1M39 67h1M44 67h1M36 68h1M47 68h1M48 68h1M5 69h1M26 69h1M29 69h1M21 70h1M31 71h1M4 72h1M25 72h1M26 72h1M35 72h1M27 74h1M32 74h1M10 75h1M29 76h1M13 79h1M19 79h1M21 79h1M23 79h1M19 81h1M22 81h1M18 82h1M32 84h1M31 85h1M21 86h1M22 88h1M21 89h1M19 91h1M21 91h1M29 91h1M31 91h1M23 93h1"/>
<path stroke="#2fc04e" d="M56 0h1M63 1h1M65 2h1M51 5h1M63 5h1M70 5h1M79 6h1M84 7h1M57 8h1M81 8h1M47 10h1M87 14h1M89 14h1M87 15h1M89 15h1M92 15h1M93 15h1M45 16h1M46 16h1M31 19h1M47 19h1M36 20h1M63 20h1M84 21h1M80 22h1M21 25h1M36 25h1M89 25h1M69 26h1M72 26h1M66 27h1M73 27h1M34 28h1M77 28h1M54 29h1M56 31h1M65 31h1M26 32h1M36 32h1M22 33h1M23 33h1M32 33h1M92 33h1M11 35h1M12 35h1M14 35h1M47 35h1M59 35h1M16 36h1M4 37h1M6 37h1M9 37h1M26 37h1M45 37h1M64 37h1M17 38h1M25 38h1M18 39h1M85 39h1M4 40h1M6 40h1M20 40h1M6 41h1M14 41h1M85 41h1M16 42h1M15 43h1M16 43h1M19 43h1M24 43h1M9 44h1M12 44h1M42 44h1M57 45h1M13 46h1M29 46h1M68 46h1M1 49h1M29 49h1M77 49h1M80 49h1M52 50h1M71 50h1M3 51h1M8 51h1M22 51h1M52 51h1M30 52h1M36 52h1M61 52h1M62 52h1M31 53h1M52 53h1M54 53h1M55 53h1M21 54h1M14 55h1M16 55h1M27 55h1M37 55h1M39 55h1M4 56h1M36 56h1M46 56h1M4 57h1M13 57h1M14 57h1M48 57h1M47 58h1M61 58h1M14 59h1M44 59h1M48 59h1M50 59h1M51 59h1M18 60h1M45 60h1M59 60h1M19 61h1M46 61h1M47 61h1M48 61h1M4 62h1M30 62h1M39 62h1M21 63h1M30 63h1M36 63h1M45 63h1M30 64h1M41 65h1M25 66h1M33 66h1M47 66h1M49 66h1M52 66h1M37 67h1M38 67h1M43 67h1M50 67h1M27 68h1M40 68h1M47 69h1M50 69h1M14 70h1M19 70h1M40 70h1M24 71h1M26 71h1M33 71h1M19 72h1M18 75h1M23 76h1M24 77h1M23 80h1M21 82h1M18 86h1M33 87h1M18 88h1M19 89h1M34 89h1M23 91h1M28 91h1M25 92h1M25 93h1"/>
<path stroke="#32c543" d="M62 0h1M62 1h1M61 4h1M73 7h1M58 8h1M66 8h1M73 8h1M88 10h1M90 11h1M47 12h1M58 14h1M83 14h1M75 15h1M83 15h1M55 16h1M76 16h1M83 16h1M92 16h1M68 17h1M83 18h1M87 18h1M89 18h1M77 19h1M90 19h1M37 21h1M48 21h1M45 22h1M37 23h1M49 23h1M53 24h1M66 24h1M87 24h1M20 25h1M22 25h1M51 26h1M18 27h1M34 27h1M24 28h1M35 28h1M73 28h1M27 29h1M29 29h1M49 29h1M24 30h1M90 30h1M16 32h1M27 32h1M42 32h1M59 32h1M18 33h1M29 33h1M37 33h1M24 34h1M37 34h1M72 34h1M9 35h1M18 35h1M23 35h1M26 35h1M66 35h1M15 36h1M28 36h1M31 36h1M67 36h1M78 36h1M19 37h1M25 37h1M74 37h1M30 38h1M4 39h1M24 39h1M83 39h1M84 39h1M29 40h1M79 40h1M86 40h1M8 41h1M10 41h1M30 41h1M35 41h1M77 41h1M2 42h1M11 42h1M12 42h1M17 42h1M21 42h1M29 42h1M46 42h1M80 42h1M81 42h1M2 43h1M27 43h1M78 43h1M16 44h1M27 44h1M30 44h1M81 44h1M8 45h1M10 45h1M27 45h1M39 45h1M21 46h1M59 46h1M78 46h1M46 47h1M7 48h1M66 48h1M73 48h1M47 49h1M68 49h1M69 49h1M41 50h1M1 51h1M38 51h1M70 51h1M1 52h1M8 52h1M50 52h1M3 53h1M17 53h1M18 53h1M39 53h1M61 53h1M3 54h1M8 54h1M17 54h1M19 54h1M30 54h1M46 54h1M47 54h1M62 54h1M53 55h1M54 55h1M15 56h1M19 56h1M42 56h1M44 56h1M62 56h1M29 57h1M42 57h1M43 57h1M50 57h1M9 58h1M16 58h1M35 58h1M40 58h1M43 58h1M49 58h1M41 59h1M59 59h1M61 59h1M5 60h1M7 60h1M13 60h1M43 60h1M46 60h1M42 61h1M8 62h1M11 62h1M47 62h1M58 62h1M6 63h1M10 63h1M43 63h1M54 63h1M42 64h1M37 65h1M44 65h1M49 65h1M52 65h1M23 66h1M31 66h1M48 67h1M30 68h1M34 68h1M45 68h1M46 68h1M44 69h1M39 70h1M46 70h1M49 70h1M17 71h1M19 71h1M15 72h1M30 73h1M31 73h1M21 78h1M23 78h1M13 80h1M22 85h1M23 85h1M29 85h1M32 85h1M20 87h1M25 88h1M24 89h1M37 89h1M19 92h1M20 92h1M22 92h1M24 94h1"/>
<path stroke="#35ca38" d="M63 0h1M64 0h1M61 1h1M62 2h1M51 3h1M54 3h1M51 4h1M87 4h1M88 4h1M52 5h1M81 5h1M83 5h1M51 6h1M80 6h1M91 6h1M95 6h1M63 7h1M72 7h1M53 8h1M52 9h1M53 10h1M54 10h1M73 10h1M83 10h1M46 11h1M47 11h1M76 11h1M83 11h1M89 11h1M90 12h1M70 13h1M75 13h1M81 13h1M83 13h1M86 14h1M90 14h1M49 15h1M52 15h1M49 16h1M91 16h1M49 17h1M55 17h1M69 17h1M56 18h1M76 18h1M64 20h1M64 21h1M65 21h1M72 21h1M83 21h1M38 22h1M38 23h1M40 23h1M44 23h1M67 23h1M89 23h1M33 24h1M39 24h1M49 24h1M37 25h1M42 25h1M44 25h1M60 25h1M91 25h1M39 26h1M58 26h1M63 26h1M65 26h1M70 26h1M73 26h1M90 26h1M54 27h1M70 27h1M66 28h1M70 28h1M74 28h1M75 28h1M20 29h1M52 29h1M65 29h1M66 29h1M75 29h1M91 29h1M93 29h1M20 30h1M42 30h1M45 30h1M50 30h1M67 30h1M84 30h1M24 31h1M50 31h1M76 31h1M81 31h1M21 32h1M74 32h1M7 33h1M21 33h1M27 33h1M36 33h1M56 33h1M57 33h1M89 33h1M25 34h1M27 34h1M28 34h1M36 34h1M86 34h1M90 34h1M15 35h1M16 35h1M24 35h1M55 35h1M71 35h1M73 35h1M75 35h1M8 36h1M70 36h1M73 36h1M14 37h1M23 37h1M30 37h1M31 37h1M55 37h1M72 37h1M79 37h1M53 38h1M60 38h1M75 38h1M33 39h1M37 39h1M53 39h1M77 39h1M22 41h1M24 41h1M27 41h1M57 41h1M79 41h1M83 41h1M84 41h1M4 42h1M5 42h1M19 42h1M77 42h1M79 42h1M83 42h1M5 43h1M13 43h1M29 43h1M59 43h1M76 43h1M80 43h1M25 44h1M31 44h1M32 44h1M40 44h1M44 44h1M61 44h1M82 44h1M24 45h1M47 45h1M56 45h1M60 45h1M68 45h1M69 45h1M70 45h1M74 45h1M8 46h1M30 46h1M64 46h1M83 46h1M5 47h1M65 47h1M74 47h1M80 47h1M4 48h1M8 48h1M9 48h1M41 48h1M44 48h1M47 48h1M72 48h1M76 48h1M80 48h1M3 49h1M26 49h1M44 49h1M73 49h1M76 49h1M30 50h1M51 50h1M55 50h1M29 51h1M33 51h1M53 52h1M41 53h1M47 53h1M53 53h1M58 53h1M5 54h1M18 54h1M33 54h1M51 54h1M59 54h1M7 55h1M22 55h1M30 55h1M36 55h1M52 55h1M58 55h1M3 56h1M37 56h1M38 56h1M39 56h1M13 58h1M18 58h1M44 58h1M52 58h1M46 59h1M55 59h1M56 59h1M58 59h1M60 59h1M15 60h1M27 60h1M29 60h1M52 60h1M45 61h1M14 62h1M36 62h1M38 62h1M48 62h1M49 62h1M12 63h1M31 63h1M31 64h1M41 64h1M43 64h1M44 64h1M50 64h1M54 64h1M55 64h1M22 65h1M32 65h1M36 65h1M46 65h1M48 65h1M10 66h1M13 66h1M34 66h1M41 66h1M12 67h1M35 67h1M12 68h1M37 68h1M30 69h1M45 69h1M52 69h1M34 70h1M45 70h1M15 71h1M28 72h1M29 74h1M17 77h1M19 78h1M28 79h1M24 81h1M34 82h1M19 83h1M26 84h1M20 88h1M29 88h1M34 88h1M25 89h1M19 90h1M23 90h1M26 90h1"/>
<path stroke="#38d02c" d="M59 0h1M60 1h1M76 2h1M59 4h1M86 4h1M53 5h1M59 5h1M60 5h1M67 5h1M67 6h1M69 6h1M70 6h1M82 6h1M52 7h1M54 7h1M64 7h1M68 7h1M71 7h1M79 7h1M96 7h1M56 8h1M67 8h1M97 8h1M56 9h1M81 9h1M82 9h1M87 9h1M72 10h1M73 11h1M75 11h1M78 11h1M65 14h1M69 14h1M94 14h1M95 14h1M54 16h1M59 16h1M81 16h1M89 16h1M66 17h1M71 17h1M73 17h1M57 18h1M58 18h1M75 18h1M86 18h1M60 19h1M70 19h1M38 20h1M45 20h1M68 20h1M85 20h1M39 22h1M67 22h1M70 22h1M79 22h1M32 23h1M39 23h1M42 23h1M43 23h1M48 23h1M69 23h1M71 23h1M77 23h1M78 23h1M80 23h1M32 24h1M42 24h1M43 24h1M56 24h1M60 24h1M70 24h1M71 24h1M74 24h1M31 25h1M39 25h1M40 25h1M71 25h1M73 25h1M26 26h1M29 26h1M41 26h1M54 26h1M33 27h1M36 27h1M55 27h1M57 27h1M71 27h1M74 27h1M88 27h1M92 27h1M26 28h1M48 28h1M50 28h1M51 28h1M69 28h1M72 28h1M76 28h1M30 29h1M45 29h1M69 29h1M84 29h1M43 30h1M51 30h1M69 30h1M18 31h1M19 31h1M23 31h1M28 31h1M62 31h1M72 31h1M77 31h1M25 32h1M28 32h1M32 32h1M34 32h1M56 32h1M52 33h1M54 34h1M65 34h1M20 35h1M32 35h1M36 35h1M42 35h1M68 35h1M69 35h1M11 36h1M19 36h1M23 36h1M36 36h1M59 36h1M67 37h1M78 37h1M22 38h1M61 38h1M87 38h1M9 39h1M29 39h1M55 39h1M75 39h1M7 40h1M9 40h1M12 40h1M13 40h1M23 40h1M27 40h1M35 40h1M4 41h1M5 41h1M25 41h1M33 41h1M81 41h1M7 42h1M13 42h1M28 42h1M11 43h1M12 43h1M25 43h1M77 43h1M1 44h1M46 44h1M59 44h1M71 44h1M83 44h1M32 45h1M41 45h1M59 45h1M66 45h1M71 45h1M81 45h1M26 46h1M31 46h1M42 46h1M55 46h1M57 46h1M58 46h1M73 46h1M7 47h1M29 47h1M44 47h1M56 47h1M69 47h1M77 47h1M1 48h1M77 48h1M25 49h1M27 49h1M31 49h1M32 49h1M46 49h1M66 49h1M67 49h1M70 49h1M2 50h1M35 50h1M69 50h1M31 51h1M46 51h1M54 51h1M71 51h1M21 52h1M31 52h1M37 52h1M6 53h1M8 53h1M10 53h1M11 53h1M44 53h1M45 53h1M59 53h1M15 54h1M34 54h1M39 54h1M48 54h1M1 55h1M31 55h1M32 55h1M41 55h1M51 55h1M14 56h1M29 56h1M35 56h1M47 56h1M50 56h1M53 56h1M20 57h1M51 57h1M53 57h1M6 58h1M50 58h1M54 58h1M30 59h1M43 59h1M45 59h1M17 61h1M18 61h1M55 61h1M59 61h1M23 62h1M31 62h1M51 62h1M52 62h1M3 63h1M8 64h1M12 64h1M51 64h1M52 64h1M26 65h1M39 65h1M43 65h1M22 66h1M38 66h1M40 66h1M42 66h1M22 67h1M24 67h1M26 67h1M34 67h1M25 68h1M26 68h1M35 68h1M42 68h1M12 69h1M13 69h1M38 69h1M43 69h1M49 69h1M26 70h1M20 71h1M19 76h1M28 76h1M24 80h1M33 83h1M22 84h1M29 84h1M33 84h1M20 85h1M34 86h1M28 87h1M34 87h1M30 91h1M23 92h1"/>
<path stroke="#5bd72b" d="M55 0h1M54 2h1M60 2h1M67 3h1M81 3h1M63 4h1M66 4h1M93 5h1M94 5h1M96 5h1M53 6h1M59 6h1M62 6h1M71 6h1M96 6h1M97 6h1M74 7h1M97 7h1M45 9h1M63 9h1M72 9h1M62 10h1M65 10h1M89 10h1M74 11h1M76 12h1M78 12h1M81 12h1M82 12h1M48 13h1M72 13h1M73 13h1M66 14h1M80 14h1M81 14h1M47 15h1M81 15h1M91 15h1M57 16h1M75 16h1M80 16h1M84 16h1M56 17h1M85 17h1M88 17h1M89 17h1M92 17h1M72 18h1M90 18h1M91 18h1M41 19h1M54 19h1M59 19h1M67 19h1M69 19h1M86 19h1M91 19h1M32 20h1M78 20h1M89 20h1M39 21h1M45 21h1M46 21h1M47 21h1M53 21h1M56 21h1M59 21h1M78 21h1M89 21h1M44 22h1M65 22h1M66 22h1M78 22h1M89 22h1M34 23h1M52 23h1M55 23h1M88 23h1M36 24h1M38 24h1M46 24h1M55 24h1M58 24h1M91 24h1M23 25h1M54 25h1M74 25h1M88 25h1M40 26h1M49 26h1M84 26h1M27 27h1M39 27h1M51 27h1M60 27h1M72 27h1M75 27h1M87 27h1M90 27h1M28 28h1M43 28h1M65 28h1M89 28h1M21 29h1M43 29h1M44 29h1M76 29h1M77 29h1M81 29h1M21 30h1M32 30h1M33 30h1M44 30h1M54 30h1M56 30h1M21 31h1M22 31h1M30 31h1M34 31h1M90 31h1M46 32h1M54 32h1M68 32h1M71 32h1M73 32h1M76 32h1M77 32h1M82 32h1M88 32h1M90 32h1M91 32h1M30 33h1M34 33h1M39 33h1M54 33h1M68 33h1M69 33h1M79 33h1M86 33h1M21 34h1M31 34h1M57 34h1M71 34h1M75 34h1M76 34h1M77 34h1M80 34h1M87 34h1M29 35h1M37 35h1M40 35h1M51 35h1M65 35h1M82 35h1M88 35h1M17 36h1M21 36h1M22 36h1M30 36h1M33 36h1M34 36h1M38 36h1M69 36h1M28 37h1M46 37h1M51 37h1M65 37h1M70 37h1M6 38h1M21 38h1M26 38h1M28 38h1M33 38h1M52 38h1M74 38h1M77 38h1M14 39h1M19 39h1M20 39h1M23 39h1M27 39h1M79 39h1M33 40h1M37 40h1M47 40h1M52 40h1M11 41h1M57 42h1M18 43h1M60 43h1M84 43h1M5 44h1M37 44h1M45 44h1M55 44h1M77 44h1M78 44h1M26 45h1M30 45h1M36 45h1M61 45h1M3 46h1M25 46h1M38 46h1M39 46h1M40 46h1M41 46h1M60 46h1M67 46h1M76 46h1M81 46h1M33 47h1M35 47h1M58 47h1M64 47h1M29 48h1M30 48h1M32 48h1M45 48h1M46 48h1M69 48h1M6 49h1M33 49h1M35 49h1M71 49h1M31 50h1M36 50h1M39 51h1M29 52h1M32 52h1M33 52h1M34 53h1M38 53h1M12 54h1M16 54h1M29 54h1M32 54h1M40 54h1M52 54h1M58 54h1M61 54h1M10 55h1M34 55h1M41 56h1M49 57h1M61 57h1M2 58h1M29 58h1M41 58h1M16 59h1M31 59h1M49 59h1M53 59h1M54 59h1M6 60h1M42 60h1M47 60h1M6 61h1M41 61h1M57 61h1M2 62h1M13 62h1M46 62h1M53 62h1M29 63h1M40 63h1M41 63h1M56 63h1M9 64h1M11 64h1M24 65h1M35 65h1M53 65h1M31 67h1M33 68h1M46 69h1M33 70h1M48 70h1M34 71h1M26 73h1M33 73h1M17 76h1M19 77h1M35 83h1M28 84h1M27 85h1M20 86h1M33 86h1M35 86h1M33 88h1M29 89h1M32 89h1M36 90h1M20 91h1M21 92h1"/>
<path stroke="#7ddd29" d="M56 1h1M67 2h1M63 3h1M65 3h1M74 3h1M54 4h1M60 4h1M62 4h1M64 4h1M66 5h1M80 5h1M90 5h1M81 7h1M94 7h1M64 8h1M65 8h1M71 8h1M83 8h1M51 9h1M60 9h1M74 9h1M78 9h1M52 10h1M57 10h1M61 10h1M84 11h1M87 11h1M96 11h1M74 12h1M75 12h1M92 12h1M62 13h1M71 13h1M74 13h1M96 13h1M45 14h1M50 14h1M54 14h1M68 14h1M70 14h1M85 14h1M93 14h1M50 15h1M53 15h1M69 15h1M71 15h1M88 15h1M47 16h1M64 16h1M82 16h1M85 16h1M57 17h1M61 17h1M82 17h1M86 17h1M87 17h1M60 18h1M63 18h1M22 19h1M25 19h1M26 19h1M28 19h1M29 19h1M49 19h1M52 19h1M57 19h1M63 19h1M83 19h1M84 19h1M88 19h1M89 19h1M39 20h1M40 20h1M49 20h1M55 20h1M67 20h1M73 20h1M74 20h1M38 21h1M74 21h1M80 21h1M82 21h1M34 22h1M41 22h1M49 22h1M57 22h1M76 22h1M88 22h1M51 23h1M63 23h1M72 23h1M84 23h1M35 24h1M41 24h1M44 24h1M47 24h1M48 24h1M52 24h1M75 24h1M80 24h1M89 24h1M28 25h1M43 25h1M66 25h1M68 25h1M70 25h1M92 25h1M52 26h1M68 26h1M87 26h1M26 27h1M38 27h1M52 27h1M64 27h1M65 27h1M23 28h1M29 28h1M33 28h1M38 28h1M54 28h1M67 28h1M39 29h1M63 29h1M80 29h1M22 30h1M31 30h1M38 30h1M39 30h1M60 30h1M64 30h1M79 30h1M33 31h1M35 31h1M38 31h1M49 31h1M52 31h1M86 31h1M87 31h1M91 31h1M29 32h1M30 32h1M49 32h1M61 32h1M63 32h1M84 32h1M86 32h1M31 33h1M35 33h1M41 33h1M45 33h1M58 33h1M61 33h1M64 33h1M65 33h1M70 33h1M71 33h1M72 33h1M74 33h1M84 33h1M91 33h1M39 34h1M46 34h1M49 34h1M52 34h1M56 34h1M70 34h1M74 34h1M85 34h1M13 35h1M25 35h1M28 35h1M52 35h1M63 35h1M74 35h1M18 36h1M25 36h1M26 36h1M29 36h1M71 36h1M22 37h1M36 37h1M50 37h1M53 37h1M14 38h1M24 38h1M36 38h1M48 38h1M76 38h1M22 39h1M31 39h1M54 39h1M60 39h1M76 39h1M34 40h1M49 40h1M60 40h1M20 41h1M29 41h1M52 41h1M33 42h1M61 42h1M78 42h1M10 43h1M21 43h1M79 43h1M21 44h1M47 44h1M57 44h1M74 44h1M11 45h1M58 45h1M64 45h1M76 45h1M2 46h1M34 46h1M37 46h1M45 46h1M65 46h1M23 47h1M45 47h1M66 47h1M73 47h1M76 47h1M79 47h1M82 47h1M3 48h1M33 48h1M37 48h1M56 48h1M78 48h1M54 49h1M60 49h1M74 49h1M75 49h1M37 50h1M46 50h1M56 50h1M68 50h1M34 51h1M35 51h1M36 51h1M53 51h1M60 51h1M45 52h1M54 52h1M65 52h1M7 53h1M9 53h1M20 53h1M36 53h1M35 54h1M54 54h1M18 55h1M33 55h1M43 55h1M7 56h1M18 56h1M40 56h1M48 56h1M56 56h1M39 57h1M44 57h1M46 57h1M52 57h1M5 58h1M58 58h1M57 59h1M2 60h1M14 60h1M48 60h1M49 60h1M56 60h1M40 61h1M40 62h1M56 62h1M39 63h1M13 64h1M22 64h1M32 64h1M49 64h1M43 66h1M44 66h1M45 67h1M51 67h1M53 67h1M8 68h1M24 68h1M32 69h1M17 70h1M41 70h1M32 73h1M28 74h1M20 77h1M18 78h1M24 79h1M34 84h1M18 87h1M29 87h1M28 88h1M31 89h1M28 92h1M26 93h1"/>
<path stroke="#a0e428" d="M61 0h1M69 1h1M60 3h1M62 3h1M67 4h1M71 4h1M81 4h1M54 5h1M61 5h1M84 5h1M45 6h1M60 6h1M63 6h1M75 6h1M78 6h1M83 6h1M94 6h1M66 7h1M78 7h1M82 7h1M75 8h1M82 8h1M87 8h1M67 9h1M71 9h1M89 9h1M60 10h1M67 10h1M69 10h1M71 10h1M74 10h1M77 10h1M81 10h1M86 10h1M87 10h1M80 11h1M48 12h1M79 12h1M80 12h1M88 12h1M92 13h1M53 14h1M55 14h1M64 14h1M73 14h1M76 14h1M88 14h1M70 15h1M73 15h1M82 15h1M48 16h1M56 16h1M60 16h1M62 16h1M74 16h1M51 17h1M67 17h1M74 17h1M79 17h1M81 17h1M50 18h1M54 18h1M55 18h1M67 18h1M77 18h1M84 18h1M21 19h1M24 19h1M80 20h1M84 20h1M32 21h1M40 21h1M57 21h1M67 21h1M75 21h1M86 21h1M87 21h1M48 22h1M61 22h1M71 22h1M72 22h1M77 22h1M84 22h1M86 22h1M33 23h1M64 23h1M66 23h1M75 23h1M90 23h1M45 24h1M62 24h1M65 24h1M67 24h1M76 24h1M78 24h1M29 25h1M72 25h1M78 25h1M79 25h1M22 26h1M28 26h1M30 26h1M35 26h1M53 26h1M67 26h1M86 26h1M29 27h1M61 27h1M27 28h1M30 28h1M36 28h1M41 28h1M49 28h1M53 28h1M61 28h1M63 28h1M68 28h1M80 28h1M81 28h1M84 28h1M86 28h1M28 29h1M36 29h1M41 29h1M55 29h1M72 29h1M79 29h1M85 29h1M29 30h1M30 30h1M46 30h1M47 30h1M81 30h1M82 30h1M85 30h1M91 30h1M41 31h1M64 31h1M73 31h1M82 31h1M83 31h1M85 31h1M88 31h1M35 32h1M69 32h1M51 33h1M60 33h1M73 33h1M78 33h1M81 33h1M82 33h1M32 34h1M40 34h1M43 34h1M53 34h1M68 34h1M30 35h1M31 35h1M50 35h1M54 35h1M62 35h1M80 35h1M32 36h1M37 36h1M51 36h1M52 36h1M61 36h1M75 36h1M81 36h1M10 37h1M11 37h1M21 37h1M32 37h1M62 37h1M63 37h1M84 37h1M85 37h1M32 38h1M37 38h1M46 38h1M54 38h1M56 38h1M47 39h1M50 39h1M74 39h1M26 40h1M82 40h1M83 40h1M12 41h1M36 41h1M46 41h1M58 41h1M59 41h1M80 41h1M9 42h1M15 42h1M35 42h1M37 42h1M45 42h1M82 42h1M46 43h1M74 43h1M81 43h1M6 44h1M73 44h1M23 45h1M34 45h1M54 45h1M55 45h1M78 45h1M10 46h1M47 46h1M72 46h1M75 46h1M4 47h1M30 47h1M32 47h1M34 47h1M36 47h1M37 47h1M39 47h1M41 47h1M70 47h1M75 47h1M38 48h1M39 48h1M42 48h1M70 48h1M75 48h1M42 49h1M1 50h1M45 51h1M55 51h1M2 52h1M4 52h1M6 52h1M38 52h1M1 53h1M32 53h1M56 53h1M60 53h1M63 53h1M65 53h1M2 54h1M14 54h1M36 54h1M38 54h1M57 54h1M46 55h1M47 55h1M60 55h1M61 55h1M31 56h1M32 56h1M34 56h1M55 56h1M61 56h1M15 57h1M30 57h1M62 57h1M55 58h1M1 59h1M13 59h1M39 59h1M47 59h1M52 59h1M9 60h1M40 60h1M55 60h1M58 60h1M60 60h1M44 61h1M54 61h1M56 61h1M27 62h1M50 62h1M11 63h1M51 63h1M53 63h1M12 65h1M21 65h1M23 65h1M23 67h1M33 67h1M36 67h1M34 69h1M24 70h1M25 70h1M32 70h1M25 71h1M32 71h1M24 78h1M21 80h1M33 80h1M34 80h1M21 81h1M34 81h1"/>
<path stroke="#b9e523" d="M71 0h1M64 1h1M53 2h1M61 2h1M79 2h1M52 4h1M75 4h1M78 4h1M79 4h1M78 5h1M82 5h1M46 6h1M65 6h1M45 7h1M61 7h1M65 7h1M76 7h1M86 7h1M87 7h1M46 8h1M60 8h1M63 8h1M69 8h1M76 8h1M48 9h1M61 9h1M69 9h1M76 9h1M90 9h1M51 10h1M59 10h1M63 10h1M66 10h1M82 10h1M70 11h1M72 11h1M81 11h1M69 12h1M72 12h1M91 12h1M84 13h1M85 13h1M89 13h1M90 13h1M59 14h1M60 14h1M92 14h1M45 15h1M54 15h1M60 15h1M62 15h1M72 15h1M84 15h1M94 15h1M51 16h1M52 16h1M58 16h1M73 16h1M54 17h1M60 17h1M64 17h1M84 17h1M90 17h1M62 18h1M73 18h1M74 18h1M82 18h1M20 19h1M30 19h1M46 19h1M53 19h1M61 19h1M64 19h1M79 19h1M43 20h1M46 20h1M53 20h1M58 20h1M75 20h1M77 20h1M82 20h1M86 20h1M88 20h1M34 21h1M44 21h1M68 21h1M42 22h1M58 22h1M63 22h1M75 22h1M82 22h1M70 23h1M76 23h1M91 23h1M63 24h1M79 24h1M83 24h1M90 24h1M26 25h1M35 25h1M45 25h1M46 25h1M67 25h1M25 26h1M36 26h1M38 26h1M76 26h1M78 26h1M22 27h1M48 27h1M77 27h1M79 27h1M83 27h1M84 27h1M21 28h1M22 28h1M25 28h1M44 28h1M78 28h1M22 29h1M23 29h1M24 29h1M26 29h1M51 29h1M60 29h1M73 29h1M78 29h1M83 29h1M92 29h1M71 30h1M77 30h1M86 30h1M25 31h1M37 31h1M40 31h1M42 31h1M43 31h1M44 31h1M45 31h1M48 31h1M68 31h1M79 31h1M80 31h1M89 31h1M40 32h1M47 32h1M50 32h1M60 32h1M78 32h1M26 33h1M28 33h1M33 33h1M40 33h1M46 33h1M80 33h1M83 33h1M55 34h1M82 34h1M89 34h1M45 35h1M27 36h1M40 36h1M60 36h1M62 36h1M66 36h1M72 36h1M76 36h1M86 36h1M89 36h1M48 37h1M77 37h1M80 37h1M81 37h1M83 37h1M55 38h1M63 38h1M81 38h1M25 39h1M48 39h1M82 39h1M36 40h1M50 40h1M57 40h1M77 40h1M47 41h1M49 41h1M74 41h1M78 41h1M23 42h1M38 42h1M52 42h1M58 42h1M36 43h1M43 43h1M51 43h1M52 43h1M61 43h1M83 43h1M7 44h1M58 44h1M9 45h1M37 45h1M43 45h1M45 45h1M77 45h1M83 45h1M54 46h1M66 46h1M8 47h1M24 47h1M25 47h1M54 47h1M71 47h1M78 47h1M81 47h1M6 48h1M5 49h1M55 49h1M33 50h1M45 50h1M48 50h1M61 50h1M64 50h1M42 51h1M47 51h1M43 52h1M46 52h1M48 52h1M51 52h1M52 52h1M55 52h1M56 52h1M14 53h1M15 53h1M35 53h1M1 54h1M13 54h1M55 54h1M56 54h1M8 55h1M40 55h1M56 55h1M62 55h1M63 55h1M1 56h1M43 56h1M49 56h1M8 57h1M47 57h1M54 57h1M59 57h1M41 60h1M39 61h1M49 61h1M52 61h1M41 62h1M49 63h1M37 64h1M40 64h1M56 64h1M25 67h1M41 67h1M43 70h1M22 77h1M34 85h1M19 87h1M35 87h1M20 89h1M21 90h1M30 90h1M31 92h1"/>
<path stroke="#d3e51f" d="M58 0h1M65 0h1M68 0h1M57 1h1M63 2h1M64 2h1M59 3h1M69 3h1M83 3h1M53 4h1M76 4h1M77 4h1M83 4h1M62 5h1M64 5h1M73 5h1M95 5h1M61 6h1M64 6h1M68 6h1M72 6h1M74 6h1M81 6h1M86 6h1M75 7h1M80 7h1M93 7h1M55 8h1M79 8h1M91 8h1M57 9h1M58 9h1M79 9h1M85 9h1M49 10h1M68 10h1M78 10h1M45 11h1M77 11h1M95 11h1M70 12h1M63 13h1M68 13h1M79 13h1M80 13h1M91 13h1M94 13h1M95 13h1M56 14h1M63 14h1M72 14h1M79 14h1M51 15h1M59 15h1M64 15h1M66 15h1M77 16h1M76 17h1M91 17h1M66 18h1M71 18h1M48 19h1M55 19h1M58 19h1M71 19h1M73 19h1M76 19h1M81 19h1M37 20h1M51 20h1M57 20h1M81 20h1M41 21h1M42 21h1M50 21h1M55 21h1M62 21h1M73 21h1M32 22h1M33 22h1M40 22h1M47 22h1M64 22h1M73 22h1M35 23h1M45 23h1M58 23h1M87 23h1M40 24h1M50 24h1M57 24h1M61 24h1M92 24h1M52 25h1M65 25h1M37 26h1M46 26h1M64 26h1M83 26h1M92 26h1M40 27h1M49 27h1M58 27h1M62 27h1M32 28h1M52 28h1M58 28h1M59 28h1M62 28h1M83 28h1M87 28h1M88 28h1M35 29h1M50 29h1M61 29h1M64 29h1M67 29h1M71 29h1M74 29h1M86 29h1M87 29h1M90 29h1M27 30h1M35 30h1M65 30h1M83 30h1M92 30h1M20 31h1M51 31h1M67 31h1M74 31h1M84 31h1M33 32h1M62 32h1M72 32h1M75 32h1M81 32h1M24 33h1M38 33h1M50 33h1M59 33h1M67 33h1M75 33h1M77 33h1M87 33h1M44 34h1M50 34h1M69 34h1M35 36h1M39 36h1M41 36h1M46 36h1M74 36h1M87 36h1M13 37h1M29 37h1M71 37h1M89 37h1M27 38h1M47 38h1M50 38h1M62 38h1M30 39h1M56 39h1M57 39h1M78 39h1M28 40h1M46 40h1M58 40h1M74 40h1M76 40h1M81 40h1M21 41h1M51 41h1M82 41h1M36 42h1M39 42h1M74 42h1M22 43h1M44 43h1M75 43h1M82 43h1M3 44h1M4 44h1M23 44h1M24 44h1M39 44h1M75 44h1M79 44h1M38 45h1M40 45h1M42 45h1M84 45h1M1 46h1M4 46h1M5 46h1M9 46h1M33 46h1M43 46h1M44 46h1M40 47h1M60 47h1M62 47h1M40 48h1M8 49h1M34 49h1M37 49h1M45 49h1M59 49h1M34 50h1M50 50h1M9 51h1M50 51h1M64 51h1M39 52h1M44 52h1M47 52h1M59 52h1M33 53h1M62 53h1M41 54h1M49 54h1M64 54h1M55 55h1M64 55h1M33 56h1M40 57h1M1 58h1M3 58h1M30 58h1M48 58h1M9 59h1M33 59h1M10 61h1M44 62h1M52 63h1M25 65h1M31 65h1M14 66h1M53 66h1M25 69h1M40 69h1M35 81h1M33 85h1M26 92h1M23 94h1"/>
<path stroke="#ece61a" d="M54 1h1M67 1h1M70 1h1M69 2h1M75 2h1M64 3h1M66 3h1M77 3h1M82 3h1M65 4h1M68 4h1M82 4h1M65 5h1M68 5h1M86 5h1M49 6h1M50 7h1M59 7h1M60 7h1M77 7h1M89 7h1M98 7h1M48 8h1M72 8h1M78 8h1M80 8h1M86 8h1M89 8h1M54 9h1M64 9h1M73 9h1M76 10h1M79 10h1M84 10h1M85 10h1M91 10h1M48 11h1M68 11h1M69 11h1M79 11h1M85 11h1M93 11h1M94 11h1M83 12h1M85 12h1M94 12h1M77 13h1M62 14h1M82 14h1M79 15h1M86 15h1M50 16h1M53 16h1M71 16h1M72 16h1M79 16h1M86 16h1M88 16h1M50 17h1M59 17h1M52 18h1M69 18h1M81 18h1M23 19h1M35 19h1M56 19h1M62 19h1M65 19h1M72 19h1M82 19h1M44 20h1M59 20h1M71 20h1M79 20h1M83 20h1M43 21h1M54 21h1M66 21h1M69 21h1M70 21h1M71 21h1M52 22h1M59 22h1M68 22h1M53 23h1M57 23h1M60 23h1M34 24h1M88 24h1M25 25h1M58 25h1M59 25h1M61 25h1M62 25h1M81 25h1M21 26h1M24 26h1M33 26h1M34 26h1M43 26h1M47 26h1M57 26h1M59 26h1M75 26h1M79 26h1M81 26h1M32 27h1M37 27h1M41 27h1M43 27h1M63 27h1M85 27h1M86 27h1M31 28h1M40 28h1M60 28h1M79 28h1M90 28h1M91 28h1M25 29h1M31 29h1M34 29h1M37 29h1M53 29h1M89 29h1M34 30h1M40 30h1M48 30h1M53 30h1M68 30h1M26 31h1M47 31h1M61 31h1M39 32h1M55 32h1M67 32h1M80 32h1M85 32h1M87 32h1M89 32h1M43 33h1M47 33h1M88 33h1M38 34h1M42 34h1M47 34h1M67 34h1M81 34h1M84 34h1M88 34h1M27 35h1M43 35h1M58 35h1M72 35h1M83 35h1M45 36h1M54 36h1M64 36h1M79 36h1M80 36h1M33 37h1M47 37h1M54 37h1M66 37h1M34 38h1M35 38h1M57 38h1M82 38h1M83 38h1M26 39h1M36 39h1M46 39h1M21 40h1M30 40h1M32 40h1M51 40h1M78 40h1M48 41h1M53 41h1M56 41h1M60 41h1M22 42h1M59 42h1M76 42h1M38 43h1M34 44h1M41 44h1M56 44h1M44 45h1M72 45h1M73 45h1M75 45h1M6 46h1M23 46h1M69 46h1M79 46h1M28 47h1M57 47h1M59 47h1M34 48h1M35 48h1M55 48h1M60 48h1M40 49h1M52 49h1M57 49h1M29 50h1M40 50h1M43 50h1M47 50h1M9 52h1M37 53h1M43 53h1M51 53h1M64 53h1M10 54h1M44 54h1M38 55h1M44 55h1M50 55h1M57 55h1M20 56h1M52 56h1M57 56h1M1 57h1M55 57h1M12 58h1M56 58h1M60 58h1M8 59h1M44 60h1M54 60h1M53 61h1M38 63h1M24 66h1M31 68h1M53 68h1M24 69h1M13 76h1M18 79h1M33 81h1M28 82h1M34 83h1M22 93h1"/>
<path stroke="#edde1b" d="M69 0h1M58 1h1M66 2h1M68 2h1M72 2h1M80 2h1M75 3h1M76 3h1M80 3h1M84 3h1M50 4h1M85 4h1M75 5h1M85 5h1M97 5h1M85 6h1M92 7h1M90 8h1M96 8h1M55 9h1M62 9h1M68 9h1M75 9h1M77 9h1M91 9h1M93 9h1M56 10h1M64 10h1M70 10h1M82 11h1M46 12h1M71 12h1M77 12h1M87 12h1M93 12h1M95 12h1M65 13h1M67 13h1M69 13h1M86 13h1M93 13h1M67 14h1M77 14h1M61 15h1M76 15h1M85 15h1M61 16h1M66 16h1M68 16h1M48 17h1M62 17h1M48 18h1M68 19h1M74 19h1M75 19h1M34 20h1M52 20h1M66 20h1M69 20h1M76 20h1M51 21h1M77 21h1M35 22h1M46 22h1M54 22h1M74 22h1M90 22h1M54 23h1M68 23h1M74 23h1M82 23h1M85 23h1M37 24h1M59 24h1M82 24h1M47 25h1M63 25h1M85 25h1M23 26h1M31 26h1M32 26h1M61 26h1M89 26h1M23 27h1M24 27h1M42 27h1M46 27h1M53 27h1M45 28h1M46 28h1M56 28h1M85 28h1M93 28h1M40 29h1M59 29h1M36 30h1M37 30h1M49 30h1M52 30h1M62 30h1M63 30h1M70 30h1M74 30h1M87 30h1M88 30h1M89 30h1M31 31h1M53 31h1M63 31h1M92 31h1M48 32h1M64 32h1M66 32h1M79 32h1M48 33h1M53 33h1M66 33h1M85 33h1M41 34h1M48 34h1M61 34h1M91 34h1M44 35h1M48 35h1M64 35h1M77 35h1M81 35h1M53 36h1M77 36h1M85 36h1M59 37h1M69 37h1M75 37h1M86 37h1M23 38h1M78 38h1M51 39h1M48 40h1M56 40h1M80 40h1M18 41h1M54 42h1M60 42h1M23 43h1M35 43h1M53 43h1M62 43h1M38 44h1M60 44h1M65 45h1M36 46h1M63 46h1M42 47h1M61 47h1M31 48h1M36 48h1M48 48h1M52 48h1M58 48h1M41 49h1M58 49h1M38 50h1M62 50h1M72 50h1M2 51h1M37 51h1M48 51h1M49 51h1M56 51h1M57 51h1M59 51h1M49 52h1M63 52h1M50 53h1M42 54h1M65 54h1M29 55h1M54 56h1M59 56h1M58 57h1M63 57h1M35 59h1M51 60h1M51 61h1M51 68h1M42 70h1M17 74h1M13 75h1M19 84h1"/>
<path stroke="#eed61c" d="M72 0h1M74 2h1M68 3h1M71 3h1M79 3h1M70 4h1M72 4h1M73 4h1M48 5h1M72 5h1M74 5h1M76 5h1M50 6h1M66 6h1M77 6h1M84 6h1M90 7h1M49 8h1M88 8h1M49 9h1M53 9h1M59 9h1M65 9h1M66 9h1M84 9h1M92 9h1M58 10h1M92 10h1M95 10h1M96 10h1M88 11h1M84 12h1M86 12h1M66 13h1M76 13h1M88 13h1M61 14h1M74 14h1M78 14h1M48 15h1M57 15h1M65 15h1M78 16h1M58 17h1M65 17h1M64 18h1M79 18h1M50 19h1M80 19h1M41 20h1M47 20h1M54 20h1M61 20h1M91 20h1M58 21h1M63 21h1M81 21h1M43 22h1M53 22h1M69 22h1M61 23h1M62 23h1M73 23h1M86 23h1M51 24h1M86 24h1M53 25h1M57 25h1M84 25h1M86 25h1M42 26h1M45 26h1M59 27h1M76 27h1M89 27h1M91 27h1M62 29h1M70 29h1M59 30h1M39 31h1M59 31h1M70 31h1M70 32h1M60 34h1M53 35h1M56 35h1M60 35h1M70 35h1M84 35h1M82 36h1M29 38h1M35 39h1M37 41h1M55 41h1M47 42h1M53 42h1M41 43h1M48 43h1M54 43h1M35 44h1M80 44h1M3 45h1M22 45h1M35 45h1M53 45h1M35 46h1M71 46h1M31 47h1M43 47h1M63 47h1M50 48h1M51 48h1M61 48h1M64 48h1M71 48h1M36 49h1M49 49h1M51 49h1M53 49h1M56 49h1M61 49h1M44 50h1M34 52h1M42 52h1M2 53h1M50 54h1M0 55h1M50 61h1M2 63h1M21 66h1M52 67h1M41 69h1M51 69h1"/>
<path stroke="#efce1d" d="M57 0h1M66 1h1M72 1h1M59 2h1M71 2h1M78 2h1M78 3h1M87 5h1M91 5h1M92 5h1M67 7h1M83 7h1M50 8h1M68 8h1M77 8h1M85 8h1M50 9h1M71 11h1M51 14h1M52 14h1M74 15h1M78 15h1M65 16h1M52 17h1M49 18h1M85 18h1M43 19h1M51 19h1M85 19h1M60 20h1M62 20h1M87 20h1M90 20h1M33 21h1M62 22h1M83 22h1M47 23h1M79 23h1M81 23h1M64 24h1M73 24h1M85 24h1M75 25h1M77 25h1M90 25h1M50 26h1M80 27h1M37 28h1M58 29h1M68 29h1M25 30h1M57 30h1M61 30h1M32 31h1M57 31h1M78 31h1M43 32h1M63 33h1M39 35h1M86 35h1M90 35h1M48 36h1M63 36h1M82 37h1M58 38h1M79 38h1M80 38h1M28 39h1M32 39h1M58 39h1M55 40h1M19 41h1M38 41h1M18 42h1M40 43h1M47 43h1M56 43h1M43 44h1M53 44h1M77 46h1M80 46h1M43 48h1M53 48h1M59 48h1M62 48h1M81 48h1M62 49h1M65 49h1M9 50h1M54 50h1M35 52h1M29 53h1M42 53h1M43 54h1M49 55h1M57 57h1M51 58h1M51 66h1M33 82h1M35 82h1"/>
<path stroke="#f0c61e" d="M68 1h1M70 3h1M74 4h1M80 4h1M77 5h1M88 5h1M89 5h1M62 8h1M92 8h1M92 11h1M68 12h1M73 12h1M67 15h1M53 17h1M78 17h1M35 20h1M52 21h1M56 22h1M91 22h1M36 23h1M83 23h1M68 24h1M84 24h1M38 25h1M76 25h1M82 25h1M83 25h1M44 26h1M56 26h1M62 26h1M81 27h1M57 28h1M92 28h1M88 29h1M71 31h1M44 32h1M51 32h1M52 32h1M65 32h1M62 33h1M51 34h1M59 34h1M38 35h1M83 36h1M88 36h1M31 38h1M59 38h1M59 39h1M59 40h1M23 41h1M51 42h1M37 43h1M55 43h1M33 44h1M36 44h1M7 45h1M53 46h1M26 47h1M38 47h1M47 47h1M63 48h1M65 48h1M39 49h1M63 49h1M42 50h1M59 58h1M53 60h1M16 68h1M32 68h1"/>
<path stroke="#eebd1f" d="M66 0h1M73 2h1M84 4h1M88 6h1M92 6h1M93 6h1M93 8h1M95 8h1M80 9h1M83 9h1M75 10h1M93 10h1M94 10h1M87 13h1M55 15h1M56 15h1M80 15h1M80 17h1M51 18h1M78 18h1M42 19h1M44 19h1M56 20h1M72 20h1M60 21h1M61 21h1M76 21h1M51 22h1M56 23h1M65 23h1M51 25h1M85 26h1M31 27h1M44 27h1M45 27h1M82 28h1M57 29h1M66 30h1M73 30h1M80 30h1M58 31h1M45 32h1M53 32h1M44 33h1M58 34h1M41 35h1M85 35h1M89 35h1M50 36h1M37 37h1M60 37h1M88 37h1M54 40h1M48 42h1M55 42h1M57 43h1M84 44h1M80 45h1M55 47h1M57 48h1M50 49h1M43 51h1M57 52h1M63 54h1M42 55h1M57 58h1M55 62h1M35 80h1"/>
<path stroke="#ebb420" d="M72 3h1M69 4h1M50 5h1M73 6h1M89 6h1M95 7h1M84 8h1M94 8h1M86 9h1M94 9h1M80 18h1M81 22h1M72 24h1M55 25h1M60 26h1M30 27h1M60 31h1M66 31h1M62 34h1M64 34h1M76 35h1M84 36h1M39 43h1M58 43h1M46 45h1M48 49h1M49 53h1M58 56h1"/>
<path stroke="#e9aa20" d="M73 3h1M90 6h1M88 7h1M55 22h1M38 29h1M41 30h1M49 39h1M50 42h1M42 43h1M58 50h1M58 52h1"/>
<path stroke="#e6a121" d="M51 8h1M70 8h1M95 9h1M78 19h1M88 21h1M80 26h1M47 27h1M76 33h1M87 35h1M49 42h1M56 42h1M43 49h1M57 50h1M48 55h1"/>
<path stroke="#e49822" d="M91 21h1M60 22h1M64 25h1M49 33h1M53 47h1"/>
<path stroke="#e19123" d="M76 6h1M78 27h1M78 30h1M66 34h1M49 43h1M64 49h1"/>
</g></g><rect x="40" y="40" width="260" height="250" fill="url(#rgrid)"/><g stroke="#fff" stroke-width="0.7" stroke-opacity="0.6" fill="none"><line x1="120" y1="210" x2="192" y2="98"/><line x1="160" y1="96" x2="270" y2="96"/><line x1="95" y1="180" x2="140" y2="115"/><line x1="170" y1="200" x2="230" y2="120"/></g></g>
<path d="M182.5,52.6 L185.0,52.5 L200.0,51.0 L221.3,50.7 L222.7,55.5 L238.7,56.8 L262.9,63.4 L279.1,62.6 L281.6,67.1 L279.1,69.8 L278.4,74.8 L279.1,77.9 L277.2,82.3 L267.3,91.6 L267.3,107.1 L269.8,115.0 L271.0,118.7 L268.2,122.4 L268.6,125.2 L265.4,130.8 L261.7,133.2 L259.8,138.3 L252.3,144.8 L253.7,149.4 L251.4,151.8 L244.9,160.6 L242.1,163.4 L235.6,164.3 L223.0,165.7 L218.3,169.2 L210.2,163.3 L206.7,165.7 L205.5,175.0 L202.0,179.7 L199.7,185.5 L195.0,189.0 L188.0,196.0 L182.2,203.0 L176.3,210.0 L167.0,213.5 L148.3,212.3 L139.0,214.7 L132.0,220.5 L129.7,228.7 L128.7,234.7 L136.7,236.7 L137.0,242.7 L133.7,247.7 L137.3,249.0 L139.3,251.3 L141.3,256.7 L142.3,261.3 L140.0,260.7 L137.3,256.7 L132.7,256.0 L132.0,252.7 L130.0,252.7 L129.7,255.3 L129.0,262.0 L127.0,262.7 L125.7,258.0 L124.0,258.7 L121.7,262.0 L118.0,265.3 L114.0,267.3 L110.0,268.7 L107.2,269.6 L105.7,262.6 L101.8,263.8 L99.5,262.2 L98.7,254.8 L93.3,254.1 L93.3,252.9 L88.6,247.9 L86.7,248.6 L80.9,244.4 L79.3,240.5 L79.3,228.9 L77.0,225.0 L74.7,223.4 L72.3,218.8 L68.6,219.2 L64.9,214.1 L61.2,213.2 L64.4,205.7 L63.0,199.2 L59.8,195.5 L62.1,190.8 L61.6,187.1 L56.0,183.4 L58.4,177.8 L58.3,173.3 L59.2,154.2 L62.5,150.8 L63.3,145.8 L65.0,145.0 L65.8,140.0 L67.5,131.7 L94.2,118.3 L104.2,110.8 L105.0,110.0 L102.5,107.5 L102.5,96.3 L130.0,95.8 L130.0,105.0 L139.2,95.0 L139.2,89.2 L145.0,89.2 L149.2,90.8 L147.5,91.7 L148.3,96.3 L168.0,94.6 L167.5,89.0 L159.8,88.2 L159.8,65.5 L178.2,58.7 L182.5,56.1 Z" fill="none" stroke="#000" stroke-width="2" stroke-linejoin="round"/>
</g>
<rect x="43.5" y="315.7" width="253" height="247.5" fill="none" stroke="#000" stroke-width="1.6"/>
<text x="59.50" y="347.60" font-family="'Liberation Serif','Times New Roman',serif" font-size="34" font-weight="bold" >c</text>
<rect x="209.8" y="461.0" width="26.5" height="12.4" fill="#fff" stroke="#000" stroke-width="1.8"/>
<text x="241.90" y="471.20" font-family="'Liberation Serif','Times New Roman',serif" font-size="10" textLength="41" lengthAdjust="spacingAndGlyphs" >Study area</text>
<text x="208.90" y="490.00" font-family="'Liberation Serif','Times New Roman',serif" font-size="12.2" font-weight="bold" textLength="47.1" lengthAdjust="spacingAndGlyphs" >C:N ratio</text>
<rect x="208.9" y="499.8" width="24.9" height="25.7" fill="url(#cbar)"/>
<line x1="233.8" y1="500.1" x2="235.8" y2="500.1" stroke="#aaa" stroke-width="0.6"/>
<line x1="233.8" y1="512.6" x2="235.8" y2="512.6" stroke="#aaa" stroke-width="0.6"/>
<line x1="233.8" y1="525.2" x2="235.8" y2="525.2" stroke="#aaa" stroke-width="0.6"/>
<text x="241.50" y="503.70" font-family="'Liberation Serif','Times New Roman',serif" font-size="10" textLength="46" lengthAdjust="spacingAndGlyphs" >High: 14.10</text>
<text x="241.50" y="529.60" font-family="'Liberation Serif','Times New Roman',serif" font-size="10" textLength="39.6" lengthAdjust="spacingAndGlyphs" >Low: 7.10</text>
<rect x="201.5" y="552.3" width="37.5" height="5.0" fill="#000" stroke="#111" stroke-width="1"/>
<rect x="239" y="552.3" width="36.5" height="5.0" fill="#fff" stroke="#222" stroke-width="1"/>
<text x="201.20" y="546.60" font-family="'Liberation Sans',Arial,sans-serif" font-size="11" text-anchor="middle" >0</text>
<text x="238.70" y="546.60" font-family="'Liberation Sans',Arial,sans-serif" font-size="11" text-anchor="middle" >10</text>
<text x="276.00" y="546.60" font-family="'Liberation Sans',Arial,sans-serif" font-size="11" text-anchor="middle" >20</text>
<text x="279.10" y="557.80" font-family="'Liberation Sans',Arial,sans-serif" font-size="11"  >km</text>
<line x1="112.5" y1="36" x2="112.5" y2="41" stroke="#000" stroke-width="1.3"/>
<text x="112.50" y="32.30" font-family="'Liberation Serif','Times New Roman',serif" font-size="14.5" text-anchor="middle" textLength="60.3" lengthAdjust="spacingAndGlyphs" >131°40'0&quot;E</text>
<line x1="207.0" y1="36" x2="207.0" y2="41" stroke="#000" stroke-width="1.3"/>
<text x="207.00" y="32.30" font-family="'Liberation Serif','Times New Roman',serif" font-size="14.5" text-anchor="middle" textLength="53" lengthAdjust="spacingAndGlyphs" >132°0'0&quot;E</text>
<line x1="372.3" y1="36" x2="372.3" y2="41" stroke="#000" stroke-width="1.3"/>
<text x="372.30" y="32.30" font-family="'Liberation Serif','Times New Roman',serif" font-size="14.5" text-anchor="middle" textLength="60.6" lengthAdjust="spacingAndGlyphs" >131°40'0&quot;E</text>
<line x1="466.8" y1="36" x2="466.8" y2="41" stroke="#000" stroke-width="1.3"/>
<text x="466.80" y="32.30" font-family="'Liberation Serif','Times New Roman',serif" font-size="14.5" text-anchor="middle" textLength="53.2" lengthAdjust="spacingAndGlyphs" >132°0'0&quot;E</text>
<line x1="112.3" y1="311" x2="112.3" y2="316" stroke="#000" stroke-width="1.3"/>
<text x="112.30" y="306.40" font-family="'Liberation Serif','Times New Roman',serif" font-size="14.5" text-anchor="middle" textLength="60.6" lengthAdjust="spacingAndGlyphs" >131°40'0&quot;E</text>
<line x1="206.7" y1="311" x2="206.7" y2="316" stroke="#000" stroke-width="1.3"/>
<text x="206.70" y="306.40" font-family="'Liberation Serif','Times New Roman',serif" font-size="14.5" text-anchor="middle" textLength="52.7" lengthAdjust="spacingAndGlyphs" >132°0'0&quot;E</text>
<line x1="38.5" y1="51.3" x2="43.5" y2="51.3" stroke="#000" stroke-width="1.3"/>
<text x="0" y="0" font-family="'Liberation Serif','Times New Roman',serif" font-size="14.5" transform="translate(34.90,51.30) rotate(-90)" text-anchor="middle" textLength="47.8" lengthAdjust="spacingAndGlyphs" >47°0'0&quot;N</text>
<line x1="38.5" y1="189.8" x2="43.5" y2="189.8" stroke="#000" stroke-width="1.3"/>
<text x="0" y="0" font-family="'Liberation Serif','Times New Roman',serif" font-size="14.5" transform="translate(34.90,189.80) rotate(-90)" text-anchor="middle" textLength="55.3" lengthAdjust="spacingAndGlyphs" >46°40'0&quot;N</text>
<line x1="38.5" y1="325.8" x2="43.5" y2="325.8" stroke="#000" stroke-width="1.3"/>
<text x="0" y="0" font-family="'Liberation Serif','Times New Roman',serif" font-size="14.5" transform="translate(34.90,325.80) rotate(-90)" text-anchor="middle" textLength="47.8" lengthAdjust="spacingAndGlyphs" >47°0'0&quot;N</text>
<line x1="38.5" y1="464.3" x2="43.5" y2="464.3" stroke="#000" stroke-width="1.3"/>
<text x="0" y="0" font-family="'Liberation Serif','Times New Roman',serif" font-size="14.5" transform="translate(34.90,464.30) rotate(-90)" text-anchor="middle" textLength="55.3" lengthAdjust="spacingAndGlyphs" >46°40'0&quot;N</text>
<line x1="556.5" y1="41.5" x2="561.5" y2="41.5" stroke="#000" stroke-width="1.3"/>
<text x="0" y="0" font-family="'Liberation Serif','Times New Roman',serif" font-size="14.5" transform="translate(574.50,41.50) rotate(-90)" text-anchor="middle" textLength="48.3" lengthAdjust="spacingAndGlyphs" >47°0'0&quot;N</text>
<line x1="556.5" y1="180.1" x2="561.5" y2="180.1" stroke="#000" stroke-width="1.3"/>
<text x="0" y="0" font-family="'Liberation Serif','Times New Roman',serif" font-size="14.5" transform="translate(574.50,180.10) rotate(-90)" text-anchor="middle" textLength="55.3" lengthAdjust="spacingAndGlyphs" >46°40'0&quot;N</text>
<rect x="182.9" y="376" width="24.6" height="28.1" fill="none" stroke="#d8281e" stroke-width="2"/>
<rect x="96.6" y="438.6" width="23.4" height="27.4" fill="none" stroke="#d8281e" stroke-width="2"/>
<text x="210.40" y="396.30" font-family="'Liberation Serif','Times New Roman',serif" font-size="18" font-weight="bold" >A</text>
<text x="125.60" y="457.00" font-family="'Liberation Serif','Times New Roman',serif" font-size="18" font-weight="bold" >B</text>
<rect x="363.4" y="314.0" width="95.30000000000001" height="110.19999999999999" fill="#fff"/>
<clipPath id="clipin21"><rect x="363.4" y="314.0" width="95.30000000000001" height="110.19999999999999"/></clipPath>
<g clip-path="url(#clipin21)"><g filter="url(#soft2)">
<g transform="translate(411.00,369.00) rotate(90) translate(0,2.20) scale(2.2,4.4)" fill="none" stroke-width="0.92">
<path stroke="#1e648c" d="M-13 5h1"/>
<path stroke="#1f7389" d="M-16 5h1"/>
<path stroke="#207b87" d="M-16 7h1M-13 7h1"/>
<path stroke="#208386" d="M-15 6h1M-14 7h1"/>
<path stroke="#218a84" d="M-15 5h2"/>
<path stroke="#229283" d="M-16 6h1"/>
<path stroke="#23997e" d="M-17 5h1"/>
<path stroke="#25a077" d="M-14 6h1M-17 7h1"/>
<path stroke="#27a670" d="M-17 6h1M-15 7h1"/>
<path stroke="#28ad69" d="M-18 -7h1M-16 -7h2M-13 6h1"/>
<path stroke="#2ab361" d="M-17 -7h1M-14 -7h2"/>
<path stroke="#2fc04e" d="M-20 -6h1M-21 -2h1M-18 -2h1"/>
<path stroke="#32c543" d="M-2 -11h2M2 -11h1M-19 -6h4M-13 -6h1M-15 -5h1M-22 -3h1M-20 -3h1M-25 -2h3M-20 -2h1M-16 0h1M-14 0h1M-11 0h1M-21 9h1M-19 9h1M-15 10h1M-13 10h1M-10 10h3"/>
<path stroke="#35ca38" d="M0 -11h2M3 -11h1M-15 -6h1M-12 -6h1M-7 -5h1M-4 -5h1M-21 -3h1M-19 -3h2M-22 -2h1M-19 -2h1M-8 -1h1M-13 0h2M-25 9h2M-20 9h1M-12 10h2"/>
<path stroke="#38d02c" d="M-14 -6h1M-18 -5h1M-14 -5h1M-12 -5h1M-8 -5h1M-23 -3h1M-12 -1h3M-7 -1h1M-15 0h1M-12 7h1M0 8h1M-23 9h2M-24 10h3M-14 10h1"/>
<path stroke="#5bd72b" d="M-17 -5h2M-13 -5h1M-11 -5h3M-5 -5h1M-2 -5h1M-13 -1h1M-9 -1h1M-11 7h1M1 8h1M-25 10h1"/>
<path stroke="#7ddd29" d="M-24 -11h1M-6 -5h1M-3 -5h1M-25 -4h1M-8 -3h1M-18 6h1M-2 8h2M-21 10h1"/>
<path stroke="#a0e428" d="M-21 -11h4M5 -10h1M-19 -9h1M-16 -9h1M-14 -9h3M-12 -7h1M-8 -7h1M-2 5h2M1 5h1M3 5h2M-24 6h2M-21 6h1M-19 6h1M-3 8h1"/>
<path stroke="#b9e523" d="M-25 -11h1M-22 -11h1M-16 -11h1M-11 -11h2M14 -11h1M-23 -10h1M-3 -10h1M0 -10h3M6 -10h1M-25 -9h4M-20 -9h1M-18 -9h2M11 -9h1M-24 -7h1M-11 -7h1M-9 -7h1M-7 -7h4M-11 -3h3M-23 5h1M-21 5h2M0 5h1M2 5h1M-22 6h1M-20 6h1M-6 7h1M-2 7h1M1 7h1M-17 8h1M-15 8h1M-18 9h1M-13 9h1M-1 9h1M-20 10h1M-17 10h1"/>
<path stroke="#d3e51f" d="M-23 -11h1M-17 -11h1M-15 -11h4M-9 -11h1M13 -11h1M16 -11h1M-25 -10h2M-11 -10h2M-8 -10h2M-5 -10h2M-1 -10h1M3 -10h2M7 -10h1M10 -10h1M-21 -9h1M-15 -9h1M12 -9h1M14 -9h1M-21 -7h1M-10 -7h1M8 -6h1M11 -6h1M-22 -5h1M-25 -3h1M-17 -3h2M8 -3h1M10 -3h1M-6 -1h4M-19 0h1M-1 2h1M-22 5h1M-19 5h2M-25 6h1M-5 7h3M0 7h1M-22 8h1M-20 8h2M-16 8h1M-14 8h1M-17 9h4M-11 9h1M-9 9h1M-7 9h1M-3 9h1M0 9h1"/>
<path stroke="#ece61a" d="M12 -11h1M15 -11h1M-9 -10h1M-6 -10h1M-2 -10h1M8 -10h2M11 -10h1M13 -10h1M13 -9h1M-23 -7h2M13 -7h1M7 -6h1M12 -6h1M-15 -3h4M9 -3h1M-21 0h2M-18 0h2M-24 1h2M-8 1h1M-6 2h5M1 2h1M-16 4h1M-5 5h2M-10 7h1M-8 7h1M-1 7h1M2 7h1M-21 8h1M-18 8h1M-12 9h1M-10 9h1M-8 9h1M-6 9h1M-4 9h1M-2 9h1M1 9h1M-19 10h2"/>
<path stroke="#edde1b" d="M12 -10h1M-4 -8h3M0 -8h1M-25 -7h1M-20 -7h1M-8 -6h2M6 -6h1M9 -6h2M-25 -5h3M-21 -5h2M9 -5h1M-22 0h1M1 0h1M-25 1h1M-4 1h3M0 1h1M2 1h1M-12 2h1M-10 2h4M-16 3h1M-15 4h3M-6 5h1M-9 7h1M-7 7h1M-5 9h1M-16 10h1M-7 10h1M-1 10h1"/>
<path stroke="#eed61c" d="M9 -11h2M9 -9h1M-5 -8h1M-1 -8h1M7 -8h1M9 -8h3M8 -7h2M12 -7h1M-11 -6h2M-6 -6h3M-2 -6h1M-1 -5h2M3 -5h2M6 -5h3M10 -5h1M-24 -4h3M-20 -4h1M-16 -4h2M8 -1h1M-10 0h1M-3 0h1M0 0h1M2 0h1M-11 1h3M-5 1h1M-1 1h1M1 1h1M6 1h2M-18 2h6M0 2h1M2 2h1M5 2h1M-18 3h2M-15 3h1M-13 3h5M-20 4h2M-12 4h1M-24 5h1M-3 5h1M-24 8h2M-9 8h1M-5 8h1M-6 10h3M-2 10h1M0 10h1"/>
<path stroke="#efce1d" d="M-5 -11h1M6 -11h2M11 -11h1M-22 -10h1M-19 -10h1M-16 -10h4M-10 -9h1M2 -9h3M6 -9h1M-15 -8h1M8 -8h1M12 -8h2M-3 -7h1M3 -7h1M10 -7h2M-9 -6h1M-3 -6h1M1 -5h2M11 -5h1M-21 -4h1M-19 -4h3M-14 -4h1M6 -1h2M-24 0h1M-9 0h4M-4 0h1M-1 0h1M3 0h1M-16 1h1M-12 1h1M-7 1h2M3 1h3M-19 2h1M-11 2h1M6 2h1M-19 3h1M-14 3h1M-22 4h2M-18 4h2M5 4h1M-25 5h1M-12 5h5M-12 8h3M-6 8h1M-3 10h1"/>
<path stroke="#f0c61e" d="M-7 -11h1M-3 -11h1M4 -11h2M8 -11h1M-21 -10h2M-18 -10h2M-12 -10h1M15 -10h1M-9 -9h1M-7 -9h3M1 -9h1M5 -9h1M7 -9h2M-14 -8h2M-11 -8h1M-9 -8h3M3 -8h1M-1 -7h3M7 -4h1M-25 0h1M-23 0h1M-5 0h1M-22 1h6M-13 1h1M-21 2h1M3 2h2M-25 4h3M-9 6h1M-6 6h1M-1 6h1M-25 8h1M-7 8h1"/>
<path stroke="#eebd1f" d="M-6 -11h1M-4 -11h1M14 -10h1M-11 -9h1M-8 -9h1M-12 -8h1M-10 -8h1M-6 -8h1M1 -8h2M4 -8h1M6 -8h1M-2 -7h1M2 -7h1M4 -7h2M7 -7h1M5 -5h1M5 -4h1M-9 -2h2M-3 -2h1M-1 -2h1M1 -2h1M5 -2h1M-14 -1h1M-15 1h2M-25 2h1M-23 2h1M5 3h1M4 4h1M-7 5h1M-12 6h1M-7 6h1M0 6h1M-8 8h1M2 8h1"/>
<path stroke="#ebb420" d="M-3 -9h2M5 -8h1M6 -7h1M3 -4h2M6 -4h1M9 -4h2M-2 -3h1M2 -3h1M-10 -2h1M-7 -2h3M-2 -2h1M2 -2h3M-23 -1h1M-21 -1h1M-15 -1h1M-22 2h1M-20 2h1M2 3h2M-6 4h1M-11 6h2M-5 6h2M-2 6h1M1 6h1M3 6h1"/>
<path stroke="#e9aa20" d="M-1 -9h1M-3 -4h1M0 -4h2M8 -4h1M-6 -3h1M-4 -3h2M-1 -3h1M1 -3h1M3 -3h1M5 -3h3M-15 -2h3M-4 -2h1M6 -2h1M8 -2h2M-24 -1h1M-22 -1h1M-20 -1h3M5 0h1M7 0h1M-24 2h1M-24 3h1M-20 3h1M-8 3h1M-6 3h4M-1 3h2M4 3h1M-5 4h1M-3 4h1M2 4h1M-8 6h1M-3 6h1M2 6h1"/>
<path stroke="#e6a121" d="M-4 -9h1M-1 -6h1M1 -6h1M-2 -4h2M2 -4h1M-5 -3h1M0 -3h1M4 -3h1M-16 -2h1M-11 -2h1M-17 -1h2M4 0h1M6 0h1M-25 3h1M-22 3h2M-7 3h1M-2 3h1M1 3h1M-4 4h1M-2 4h1M0 4h2M3 4h1"/>
<path stroke="#e49822" d="M-18 -8h3M-25 -6h3M0 -6h1M2 -6h3M-12 -2h1M-2 -1h2M2 -1h1M4 -1h1M-23 3h1M-1 4h1M-24 7h1"/>
<path stroke="#e19123" d="M-25 -8h2M-22 -8h2M-19 -8h1M-22 -6h2M5 -6h1M0 -1h2M3 -1h1M5 -1h1M-23 7h4"/>
<path stroke="#de8b23" d="M-23 -8h1M-20 -8h1M-19 7h2"/>
<path stroke="#db8424" d="M-8 4h2M-25 7h1"/>
<path stroke="#d87e25" d="M-11 4h3"/>
<path stroke="#d57726" d="M-9 -4h2"/>
<path stroke="#d37227" d="M-13 -4h4M-5 -4h1M-25 -1h1"/>
<path stroke="#d16e28" d="M-7 -4h1M-4 -4h1"/>
<path stroke="#cf6b29" d="M-6 -4h1"/>
</g>
<g transform="translate(411.00,410.00) rotate(-58) translate(0,2.50) scale(2.2,5.0)" fill="none" stroke-width="0.92">
<path stroke="#2cba5a" d="M-14 -5h1"/>
<path stroke="#2fc04e" d="M8 6h1"/>
<path stroke="#32c543" d="M-7 -10h2M-9 -8h1M6 6h2M9 6h2"/>
<path stroke="#35ca38" d="M-14 -8h2M-8 -8h2M-16 -7h2M-12 -7h2M-8 -1h1M-5 -1h2"/>
<path stroke="#38d02c" d="M-12 -8h3M-17 -7h1M-14 -7h2M-10 -7h1M-9 -1h1M-7 -1h2M-3 -1h1"/>
<path stroke="#5bd72b" d="M-11 -4h1M-8 -4h1M-12 -3h1"/>
<path stroke="#7ddd29" d="M-6 -6h1M-6 -5h1M-12 -4h1M-10 -4h1M-7 -4h1M-5 -4h4M-11 -3h1M-9 -3h1M-6 -3h1M-1 -3h1M1 -3h2M4 -3h1"/>
<path stroke="#a0e428" d="M1 -11h1M-6 -8h1M-16 -6h1M-4 -6h1M-10 -5h1M-9 -4h1M-6 -4h1M-1 -4h1M-7 -3h1M-4 -3h3M0 -3h1M3 -1h1"/>
<path stroke="#b9e523" d="M-3 -11h1M-5 -8h2M-2 -8h3M2 -8h1M-15 -6h1M-13 -6h1M-10 -6h1M-11 -5h1M-9 -5h3M-10 -3h1M-8 -3h1M-5 -3h1M3 -3h1M1 -1h2M5 -1h1M7 1h1M6 3h1"/>
<path stroke="#d3e51f" d="M-2 -11h2M2 -11h1M-4 -9h2M0 -9h1M4 -9h1M-3 -8h1M-6 -7h3M-2 -7h1M-12 -6h1M-8 -6h2M-5 -6h1M3 -6h1M-12 -5h1M-2 -1h1M-7 0h2M-1 1h4M4 1h3M8 1h1M9 3h1"/>
<path stroke="#ece61a" d="M3 -12h1M0 -11h1M3 -11h1M-5 -10h1M-2 -9h2M1 -9h1M3 -9h1M1 -8h1M-8 -7h2M-14 -6h1M-11 -6h1M-9 -6h1M-3 -6h1M0 -6h3M4 -6h3M-13 -4h1M-9 -2h1M-6 -2h4M0 -1h1M4 -1h1M-6 1h1M-4 1h3M3 1h1M9 1h1M7 3h2M10 3h1"/>
<path stroke="#edde1b" d="M1 -12h1M-4 -10h1M-2 -10h1M0 -10h1M-10 -9h1M-5 -9h1M2 -9h1M-3 -7h1M3 -7h1M5 -7h1M-2 -6h1M-10 -2h1M-8 -2h2M-2 -2h3M-1 -1h1M-5 1h1M-4 2h3M7 5h1M10 5h1M10 7h1M12 7h1M5 9h2"/>
<path stroke="#eed61c" d="M2 -12h1M-3 -10h1M-1 -10h1M-9 -9h1M-1 -7h1M1 -7h2M4 -7h1M-1 -6h1M-4 -5h1M1 -4h1M5 -3h2M4 5h3M11 5h1M12 6h1M9 7h1M11 7h1"/>
<path stroke="#efce1d" d="M-8 -9h3M0 -7h1M-5 -5h1M1 -5h1M4 -4h2M7 -3h1M2 3h1M4 3h1M2 5h1M8 5h2M2 6h1"/>
<path stroke="#f0c61e" d="M4 -8h2M-3 -5h1M3 -5h1M0 -4h1M2 -4h1M1 3h1M3 3h1M1 5h1M1 6h1M3 6h1M5 6h1M3 7h1"/>
<path stroke="#eebd1f" d="M3 -8h1M-2 -5h3M2 -5h1M4 -5h1M3 -4h1M5 0h3M9 0h1M7 4h3M11 4h1M0 5h1M7 7h2"/>
<path stroke="#ebb420" d="M1 -2h1M3 -2h1M5 -2h1M7 -2h1M3 0h1M8 0h1M-2 4h5M6 4h1M4 6h1M4 7h2"/>
<path stroke="#e9aa20" d="M4 -2h1M6 -2h1M8 -1h1M-3 0h3M1 0h2M4 0h1M0 3h1M3 4h2M10 4h1M6 7h1M4 8h1M7 8h1"/>
<path stroke="#e6a121" d="M6 -5h1M2 -2h1M8 -2h1M6 -1h2M-5 0h2M4 2h1M6 2h1M-1 3h1M9 8h1"/>
<path stroke="#e49822" d="M5 -5h1M0 0h1M0 2h1M2 2h1M8 2h2M-3 3h2M5 8h2"/>
<path stroke="#e19123" d="M4 -10h1M3 2h1M5 2h1M7 2h1M8 8h1"/>
<path stroke="#de8b23" d="M2 -10h1M6 -4h2M1 2h1"/>
<path stroke="#db8424" d="M3 -10h1"/>
</g>
<g fill="none" stroke-width="1.1" opacity="0.8"><path stroke="#28ad69" d="M429.0 338.5h1.1"/><path stroke="#2cba5a" d="M363.9 392.2h1.1M372.3 404.3h1.1M423.7 353.9h1.1M438.8 323.7h1.1M368.2 355.9h1.1M381.2 413.1h1.1M381.0 404.2h1.1M397.8 420.5h1.1M413.1 347.7h1.1M375.0 353.0h1.1M376.4 362.4h1.1M379.8 377.5h1.1M433.8 321.8h1.1M393.4 424.1h1.1"/><path stroke="#32c543" d="M375.9 344.3h1.1M381.3 338.7h1.1M438.3 319.8h1.1M364.0 353.3h1.1M386.4 416.9h1.1M383.1 403.3h1.1M430.4 331.8h1.1M367.3 335.5h1.1M385.3 422.2h1.1M406.4 339.2h1.1M417.7 340.3h1.1M377.3 420.5h1.1M368.6 411.1h1.1M429.9 347.2h1.1M412.3 346.8h1.1M368.6 343.4h1.1M376.3 419.6h1.1M429.2 338.6h1.1M454.8 347.2h1.1M426.0 336.9h1.1M387.1 408.1h1.1M447.6 326.8h1.1M381.6 422.7h1.1M371.2 339.8h1.1M364.0 368.6h1.1M377.1 345.4h1.1M413.3 348.5h1.1M369.5 376.5h1.1M379.3 345.8h1.1M382.6 412.3h1.1M368.5 336.8h1.1M415.7 317.6h1.1M422.9 343.3h1.1M424.1 326.9h1.1"/><path stroke="#38d02c" d="M454.5 351.6h1.1M363.5 331.1h1.1M436.1 341.8h1.1M374.5 423.9h1.1M453.5 359.0h1.1M421.8 328.7h1.1M443.2 394.4h1.1M404.8 423.1h1.1M369.3 382.0h1.1M381.6 341.9h1.1M393.6 421.9h1.1M411.8 340.6h1.1M401.7 416.8h1.1M452.9 355.7h1.1M389.4 328.7h1.1M422.4 333.6h1.1M366.1 403.6h1.1M393.8 331.3h1.1M430.1 351.7h1.1M422.6 322.2h1.1M410.1 349.5h1.1M434.9 416.7h1.1M436.7 318.2h1.1M377.8 408.1h1.1M447.5 344.5h1.1M364.0 397.1h1.1M378.9 363.1h1.1M442.5 379.0h1.1M419.4 329.0h1.1M370.5 322.5h1.1M383.7 389.9h1.1M405.8 342.9h1.1M372.9 349.3h1.1M448.3 317.1h1.1M448.9 367.5h1.1M373.6 420.6h1.1M407.3 422.5h1.1M428.8 324.1h1.1M374.9 396.0h1.1M363.4 401.2h1.1M454.4 317.7h1.1M457.8 323.6h1.1M381.1 327.0h1.1M372.3 394.3h1.1M410.7 351.1h1.1M367.4 325.2h1.1M415.0 354.7h1.1M448.4 417.9h1.1M415.3 346.6h1.1M402.3 335.1h1.1M388.7 323.1h1.1M393.2 413.4h1.1M366.4 401.3h1.1M417.5 422.9h1.1M363.6 342.9h1.1M430.6 317.9h1.1M439.6 328.8h1.1M370.8 341.1h1.1M457.0 415.8h1.1M401.7 339.5h1.1M402.3 407.2h1.1M437.9 331.7h1.1M412.2 320.7h1.1"/><path stroke="#7ddd29" d="M439.8 354.7h1.1M440.7 344.9h1.1M446.4 321.2h1.1M444.1 361.9h1.1M401.5 337.7h1.1M456.8 372.8h1.1M410.6 423.8h1.1M370.5 339.2h1.1M401.1 349.1h1.1M451.0 393.8h1.1M403.2 392.9h1.1M367.3 326.7h1.1M409.1 322.8h1.1M434.2 379.7h1.1M429.2 319.3h1.1M372.3 362.0h1.1M456.5 384.9h1.1M427.5 416.2h1.1M457.8 418.3h1.1M449.4 414.5h1.1M383.5 325.6h1.1M378.0 370.6h1.1M433.8 358.4h1.1M452.0 320.8h1.1M367.5 331.6h1.1M404.6 342.9h1.1M445.1 332.8h1.1M397.4 344.1h1.1M371.6 322.2h1.1M382.0 320.0h1.1M387.8 415.3h1.1M388.4 320.8h1.1M380.4 357.8h1.1M456.6 334.9h1.1M456.2 332.2h1.1M400.0 346.3h1.1M411.8 330.5h1.1M400.7 395.2h1.1M409.7 416.0h1.1M422.6 331.4h1.1M407.9 321.3h1.1M456.9 333.4h1.1M434.0 387.9h1.1M458.1 376.1h1.1M373.0 396.1h1.1M433.2 364.6h1.1M368.9 378.2h1.1M445.0 410.9h1.1M403.4 331.7h1.1M383.1 349.8h1.1M370.9 382.8h1.1M373.4 345.0h1.1M442.9 330.4h1.1M448.8 361.4h1.1M416.8 322.1h1.1M439.3 419.3h1.1M372.6 334.3h1.1M411.2 383.7h1.1M434.7 350.3h1.1M413.9 337.9h1.1M423.0 358.4h1.1M414.4 410.9h1.1M458.3 353.4h1.1M419.4 330.7h1.1M452.1 391.6h1.1M429.3 324.7h1.1M412.6 357.7h1.1M452.3 402.8h1.1M436.1 395.5h1.1M373.7 319.3h1.1M385.6 319.5h1.1M393.4 321.4h1.1M413.9 314.9h1.1"/><path stroke="#b9e523" d="M413.8 378.5h1.1M437.4 351.7h1.1M366.9 320.9h1.1M444.8 362.5h1.1M397.0 339.9h1.1M378.6 409.3h1.1M452.5 333.4h1.1M383.5 386.5h1.1M389.9 393.8h1.1M447.0 388.7h1.1M446.4 345.7h1.1M433.1 404.9h1.1M433.3 381.5h1.1M368.8 415.0h1.1M395.4 379.7h1.1M414.2 420.4h1.1M389.8 314.5h1.1M397.7 419.6h1.1M364.1 332.9h1.1M419.0 363.1h1.1M409.7 371.0h1.1M414.1 415.9h1.1M431.9 322.2h1.1M381.1 409.3h1.1M401.6 360.3h1.1M393.6 325.2h1.1M403.0 314.8h1.1M435.7 399.1h1.1M435.8 362.2h1.1M407.3 417.3h1.1M434.9 387.4h1.1M400.3 410.3h1.1M365.3 381.1h1.1M386.4 367.6h1.1M433.9 421.7h1.1M407.4 403.0h1.1M453.8 396.7h1.1M444.2 334.5h1.1M455.3 411.1h1.1M432.0 412.9h1.1M427.2 413.0h1.1M444.7 368.3h1.1M425.3 357.5h1.1M387.2 344.9h1.1M402.1 319.8h1.1M417.2 419.6h1.1M429.5 406.4h1.1M414.5 322.8h1.1M407.2 333.2h1.1M432.2 415.3h1.1M445.6 399.3h1.1M401.3 394.9h1.1M400.6 352.6h1.1M425.4 362.2h1.1M409.4 346.7h1.1M426.6 388.0h1.1M392.2 357.8h1.1M369.7 405.6h1.1M409.6 394.0h1.1M401.5 406.8h1.1M441.3 355.0h1.1M403.5 350.6h1.1M423.2 396.8h1.1M406.5 356.3h1.1M419.4 326.9h1.1M389.5 329.3h1.1M389.5 393.3h1.1M415.5 418.3h1.1M397.5 408.5h1.1M399.6 318.0h1.1M392.0 379.1h1.1M449.4 377.3h1.1M433.5 381.4h1.1M409.8 354.1h1.1M397.5 405.9h1.1M441.0 352.5h1.1M372.0 326.4h1.1M417.5 389.7h1.1"/><path stroke="#ece61a" d="M398.2 418.6h1.1M385.9 389.4h1.1M418.8 414.7h1.1M395.4 349.4h1.1M412.2 400.8h1.1M422.8 383.4h1.1M416.2 396.8h1.1M456.5 358.5h1.1M415.7 382.0h1.1M440.7 392.9h1.1M456.6 353.4h1.1M426.7 390.1h1.1M424.3 368.3h1.1M426.6 414.8h1.1M424.3 414.5h1.1M407.4 402.1h1.1M398.9 402.0h1.1M431.3 391.7h1.1M386.1 365.5h1.1M374.3 368.4h1.1M412.6 374.3h1.1M425.7 389.9h1.1M386.6 381.2h1.1M393.7 357.7h1.1M450.7 345.8h1.1M392.1 416.7h1.1M371.2 368.5h1.1M434.5 377.1h1.1M390.9 351.8h1.1M405.8 384.9h1.1M452.7 423.5h1.1M451.5 383.3h1.1M400.3 321.2h1.1M407.3 369.3h1.1M376.7 395.9h1.1M427.3 394.2h1.1M389.2 376.9h1.1M445.7 381.6h1.1M398.2 387.5h1.1M426.5 401.5h1.1M390.0 390.7h1.1M431.3 341.2h1.1M389.5 345.7h1.1M383.6 374.0h1.1M426.8 380.5h1.1M368.2 345.1h1.1M414.5 342.5h1.1M434.4 325.3h1.1M446.6 389.5h1.1M406.3 319.4h1.1M421.0 371.9h1.1M382.8 385.1h1.1M393.8 332.3h1.1M398.8 350.7h1.1M391.7 386.8h1.1M392.5 416.5h1.1M408.4 329.0h1.1M450.2 387.3h1.1M424.4 394.5h1.1M411.0 403.6h1.1M405.8 413.3h1.1M426.0 423.9h1.1M430.4 397.3h1.1M376.8 341.4h1.1M392.0 391.3h1.1M397.3 367.5h1.1M385.9 365.9h1.1"/><path stroke="#eed61c" d="M378.3 348.3h1.1M391.7 416.9h1.1M434.9 318.9h1.1M417.0 347.4h1.1M374.1 416.3h1.1M374.2 316.3h1.1M445.2 323.8h1.1M426.5 423.7h1.1M419.5 386.3h1.1M453.1 324.3h1.1M445.5 347.5h1.1M364.9 348.5h1.1M458.5 344.8h1.1M363.9 421.8h1.1M367.6 333.8h1.1M432.8 373.0h1.1M391.4 365.4h1.1M431.4 347.0h1.1M426.6 325.4h1.1M369.5 345.6h1.1M411.6 366.9h1.1M366.6 388.7h1.1M387.1 416.2h1.1M413.5 353.6h1.1M418.6 402.1h1.1M363.8 349.1h1.1M430.1 412.2h1.1M413.8 387.3h1.1M395.7 382.5h1.1M437.6 343.9h1.1M440.7 342.6h1.1M411.1 390.8h1.1M426.7 358.9h1.1M388.4 378.9h1.1M412.6 415.9h1.1M438.4 329.0h1.1M418.8 408.5h1.1M416.5 382.7h1.1M380.9 314.0h1.1M418.0 409.7h1.1M420.8 419.1h1.1M451.9 328.1h1.1M382.3 407.7h1.1M427.1 422.0h1.1M423.7 375.0h1.1M398.7 416.7h1.1M401.3 423.9h1.1M390.4 416.0h1.1M377.9 323.4h1.1M448.8 406.8h1.1M387.1 416.0h1.1M389.1 359.2h1.1M427.7 369.8h1.1M430.0 323.8h1.1M365.5 351.8h1.1M420.6 323.4h1.1M373.6 405.5h1.1M371.7 334.8h1.1"/><path stroke="#f0c61e" d="M399.8 337.4h1.1M457.6 330.3h1.1M447.2 419.2h1.1M377.8 369.9h1.1M410.9 373.4h1.1M425.2 373.4h1.1M364.7 378.3h1.1M395.6 367.0h1.1M458.0 356.4h1.1M439.2 390.3h1.1M421.6 375.9h1.1M371.3 358.3h1.1M375.1 394.9h1.1M401.8 334.3h1.1M413.9 353.9h1.1M412.6 357.8h1.1M374.2 374.1h1.1M443.5 329.0h1.1M429.0 316.6h1.1M444.7 421.7h1.1M370.6 335.2h1.1M366.8 379.6h1.1M442.1 345.0h1.1M415.8 341.4h1.1M375.0 320.5h1.1M429.7 359.1h1.1M454.2 341.6h1.1M430.3 325.0h1.1M448.5 336.6h1.1M455.9 340.8h1.1M413.5 340.0h1.1M368.8 406.8h1.1M366.5 394.2h1.1M452.8 372.5h1.1M430.6 397.5h1.1M368.4 349.7h1.1M384.9 339.5h1.1M372.1 316.1h1.1M436.2 338.6h1.1M366.5 349.6h1.1M437.7 417.1h1.1M371.5 376.8h1.1M437.7 354.9h1.1M430.0 350.4h1.1M380.4 344.5h1.1M431.4 324.9h1.1M418.6 326.3h1.1M398.9 338.6h1.1M363.4 399.3h1.1M394.3 405.5h1.1M444.2 315.9h1.1M363.6 362.8h1.1M402.4 357.0h1.1M439.2 318.5h1.1M393.9 340.4h1.1M456.6 327.0h1.1M454.2 348.0h1.1M425.7 325.7h1.1M383.6 410.5h1.1M421.6 376.3h1.1M453.7 418.2h1.1M426.5 324.6h1.1M422.9 322.4h1.1M374.3 375.0h1.1M433.2 350.9h1.1M371.8 381.6h1.1M451.6 339.9h1.1M373.0 319.7h1.1M417.6 370.9h1.1M370.4 325.1h1.1M419.4 350.2h1.1M425.3 365.2h1.1M415.1 380.7h1.1M425.6 372.6h1.1M366.1 352.9h1.1M410.8 370.3h1.1M433.0 413.4h1.1M417.5 317.4h1.1"/><path stroke="#ebb420" d="M419.5 384.2h1.1M418.0 357.2h1.1M398.0 344.7h1.1M375.7 395.8h1.1M377.2 357.8h1.1M447.2 399.6h1.1M455.7 417.3h1.1M392.5 332.9h1.1M401.1 324.5h1.1M372.6 364.9h1.1M427.2 321.0h1.1M451.4 356.2h1.1M417.8 320.0h1.1M441.8 420.0h1.1M451.9 416.9h1.1M440.6 319.7h1.1M380.4 321.4h1.1M404.2 417.0h1.1M418.0 406.7h1.1M450.5 374.1h1.1M384.1 370.3h1.1M444.8 335.6h1.1M394.0 323.2h1.1M429.5 413.4h1.1M441.4 418.6h1.1M374.0 318.0h1.1M436.5 366.1h1.1M392.3 331.6h1.1M374.0 410.5h1.1M369.1 326.9h1.1M452.2 389.1h1.1M389.3 415.1h1.1M442.4 394.6h1.1M393.2 411.7h1.1M457.8 405.2h1.1M445.5 396.8h1.1M457.6 315.3h1.1M445.0 362.3h1.1M437.9 405.5h1.1M373.5 343.2h1.1M425.8 401.2h1.1M430.8 318.7h1.1M447.9 402.2h1.1M380.5 333.5h1.1M455.9 392.6h1.1M417.7 335.0h1.1M409.0 384.0h1.1M368.1 317.3h1.1M457.3 393.9h1.1M456.0 350.5h1.1M436.5 415.1h1.1M369.7 394.6h1.1M452.0 413.6h1.1M441.5 349.1h1.1M408.2 338.4h1.1M375.1 324.5h1.1M368.1 397.2h1.1M419.8 334.8h1.1M442.7 410.9h1.1M427.4 341.2h1.1M415.8 324.4h1.1M455.2 325.5h1.1M420.8 358.8h1.1M411.7 337.3h1.1M385.5 329.6h1.1M452.2 351.3h1.1M445.3 318.7h1.1M402.5 330.3h1.1M450.2 338.2h1.1M380.4 341.3h1.1M415.7 355.4h1.1M447.5 411.1h1.1M434.2 349.9h1.1M435.8 328.2h1.1M396.8 362.5h1.1M398.2 316.5h1.1M374.8 380.7h1.1M376.9 390.0h1.1M375.9 333.9h1.1M364.8 379.1h1.1M442.7 344.4h1.1M391.8 328.9h1.1M420.6 355.4h1.1M410.8 398.3h1.1M411.0 352.8h1.1M449.1 395.1h1.1M370.3 373.9h1.1M446.4 379.0h1.1M398.8 411.9h1.1"/><path stroke="#e6a121" d="M413.0 405.2h1.1M453.3 348.1h1.1M456.1 408.6h1.1M444.2 386.4h1.1M441.0 399.5h1.1M388.4 353.2h1.1M409.9 363.0h1.1M458.6 347.3h1.1M398.2 386.1h1.1M383.2 319.2h1.1M412.9 392.2h1.1M428.2 368.0h1.1M429.3 372.2h1.1M423.3 373.2h1.1M441.4 402.1h1.1M425.7 390.8h1.1M431.9 419.5h1.1M441.9 345.3h1.1M401.2 334.9h1.1M418.5 322.4h1.1M442.6 374.8h1.1M448.7 409.8h1.1M414.8 318.6h1.1M366.8 325.6h1.1M401.2 342.1h1.1M390.4 377.4h1.1M443.8 398.0h1.1M395.5 378.0h1.1M384.5 386.7h1.1M427.0 371.0h1.1M440.0 369.4h1.1M396.5 405.5h1.1M446.9 355.5h1.1M412.6 402.7h1.1M424.4 417.3h1.1M386.3 376.1h1.1M417.1 389.6h1.1M445.8 319.4h1.1M420.9 317.1h1.1M445.2 351.4h1.1M384.2 358.7h1.1M403.3 407.0h1.1M418.5 387.3h1.1M444.7 367.3h1.1M394.6 347.0h1.1M437.0 336.2h1.1M391.0 362.0h1.1M453.7 324.2h1.1M396.6 339.0h1.1M403.7 417.0h1.1M415.7 360.0h1.1M421.4 352.6h1.1M431.4 362.4h1.1M451.1 318.5h1.1M396.8 351.1h1.1M395.3 406.7h1.1M453.1 376.2h1.1M387.2 374.5h1.1M397.7 401.3h1.1M436.6 377.9h1.1M410.8 401.9h1.1M389.1 386.1h1.1M389.8 387.8h1.1M429.8 405.7h1.1M439.9 374.0h1.1M427.2 410.2h1.1M427.8 414.4h1.1M437.3 421.3h1.1M452.4 393.8h1.1M401.0 351.6h1.1M457.8 376.4h1.1M403.2 398.4h1.1M429.1 377.2h1.1M408.8 319.4h1.1M428.5 352.7h1.1M405.6 396.7h1.1M435.3 367.2h1.1M381.1 327.7h1.1M431.8 354.5h1.1M458.4 418.5h1.1M435.2 401.5h1.1M439.8 393.3h1.1M457.3 350.7h1.1"/><path stroke="#e19123" d="M425.3 395.3h1.1M412.7 365.0h1.1M448.8 396.0h1.1M397.3 366.5h1.1M412.7 379.2h1.1M404.5 400.2h1.1M404.0 352.8h1.1M457.2 396.4h1.1M391.3 402.3h1.1M392.6 322.0h1.1M436.7 354.6h1.1M433.3 394.3h1.1M404.8 357.5h1.1M383.8 346.0h1.1M419.3 419.0h1.1M412.7 404.3h1.1M426.1 356.9h1.1M411.1 380.4h1.1M427.5 365.8h1.1M414.1 377.9h1.1M384.9 363.6h1.1M453.7 397.5h1.1M440.2 406.0h1.1M424.9 367.0h1.1M412.4 367.9h1.1M425.5 394.2h1.1M434.6 360.8h1.1M450.3 397.4h1.1M419.6 386.1h1.1M424.4 396.9h1.1M419.6 364.2h1.1M448.6 352.2h1.1M394.1 347.3h1.1M426.8 370.5h1.1M440.3 387.2h1.1"/><path stroke="#db8424" d="M430.5 408.5h1.1M430.0 417.3h1.1M429.5 391.3h1.1M415.1 422.9h1.1M448.2 387.1h1.1M415.1 366.5h1.1M430.0 401.6h1.1M409.0 398.7h1.1M415.2 418.9h1.1M404.6 358.7h1.1M421.1 382.1h1.1M418.5 395.1h1.1M427.7 375.3h1.1M395.3 393.0h1.1M409.4 382.9h1.1M397.0 386.7h1.1M401.2 356.1h1.1M390.6 356.6h1.1M425.5 373.2h1.1M390.7 390.7h1.1M404.3 381.4h1.1"/><path stroke="#d57726" d="M390.9 368.8h1.1M404.8 381.2h1.1M410.1 394.9h1.1M420.2 399.7h1.1M387.6 345.7h1.1M398.5 369.9h1.1"/></g>
</g>
<path fill="#fff" d="M395.7,343.0 L412.2,343.0 L412.2,356.7 L395.7,356.7 Z"/>
<path fill="#fff" d="M390.2,361.3 L394.8,361.3 L394.8,365.0 L390.2,365.0 Z"/>
<path fill="#fff" d="M378.0,390.6 L385.6,392.0 L382.0,403.4 L374.7,401.0 Z"/>
<path fill="#fff" d="M440.6,394.2 L446.0,394.2 L446.0,401.6 L440.6,401.6 Z"/>
<path fill="#fff" d="M443.3,325.6 L449.7,325.6 L449.7,330.0 L443.3,330.0 Z"/>
<path fill="#fff" d="M407.6,412.6 L411.3,412.6 L411.3,416.2 L407.6,416.2 Z"/>
<polyline fill="none" stroke="#fff" stroke-opacity="0.9" stroke-width="1" points="363.5,357.5 390.0,346.5 412.0,339.0 459.0,330.0"/>
<polyline fill="none" stroke="#fff" stroke-opacity="0.9" stroke-width="1" points="391.0,379.6 378.3,405.0 372.0,424.0"/>
<polyline fill="none" stroke="#fff" stroke-opacity="0.9" stroke-width="1" points="364.8,339.0 384.3,314.5"/>
<polyline fill="none" stroke="#fff" stroke-opacity="0.9" stroke-width="1" points="384.0,329.2 459.0,327.5"/>
<polyline fill="none" stroke="#fff" stroke-opacity="0.9" stroke-width="1" points="397.8,314.5 397.8,345.5"/>
<polyline fill="none" stroke="#fff" stroke-opacity="0.9" stroke-width="1" points="385.3,329.7 385.3,369.7"/>
<polyline fill="none" stroke="#fff" stroke-opacity="0.9" stroke-width="1" points="363.4,371.0 459.0,406.0"/>
<polyline fill="none" stroke="#fff" stroke-opacity="0.9" stroke-width="1" points="363.5,395.0 380.0,388.0"/>
<polyline fill="none" stroke="#fff" stroke-opacity="0.9" stroke-width="1" points="420.0,345.0 421.0,390.0"/>
<polyline fill="none" stroke="#fff" stroke-opacity="0.9" stroke-width="1" points="440.0,340.0 441.0,398.0"/>
</g>
<rect x="363.4" y="314.0" width="95.30000000000001" height="110.19999999999999" fill="none" stroke="#222" stroke-width="1.2"/>
<text x="368.6" y="330.6" font-family="'Liberation Serif','Times New Roman',serif" font-weight="bold" font-size="18">A</text>
<rect x="461.5" y="314.0" width="93.5" height="110.0" fill="#fff"/>
<clipPath id="clipin22"><rect x="461.5" y="314.0" width="93.5" height="110.0"/></clipPath>
<g clip-path="url(#clipin22)"><g filter="url(#soft2)">
<g transform="translate(488.00,345.00) rotate(-12) translate(0,2.50) scale(2.2,5.0)" fill="none" stroke-width="0.93">
<path stroke="#144e82" d="M5 1h1"/>
<path stroke="#185585" d="M0 -6h1M3 -6h2M7 -6h1M0 1h5M7 1h1M9 1h1M-12 2h3M-6 2h1"/>
<path stroke="#1b5d89" d="M1 -6h2M5 -6h2M-11 -1h1M-1 1h1M8 1h1M-14 2h1M-9 2h3"/>
<path stroke="#1e648c" d="M-12 -1h1M-10 -1h2M6 1h1"/>
<path stroke="#1f6c8a" d="M4 -3h2M8 -3h3M12 -3h1M5 -2h1M8 -2h1M-13 2h1"/>
<path stroke="#1f7389" d="M2 -3h2M6 -3h2M11 -3h1M13 -3h1M3 -2h2M6 -2h1"/>
<path stroke="#207b87" d="M7 -5h1M9 -5h2M1 -3h1M2 -2h1M7 -2h1M9 -2h1M10 1h1M4 3h1"/>
<path stroke="#208386" d="M-2 -6h1M8 -5h1M11 -5h3M1 -1h1M4 -1h1M3 3h1M5 3h1M7 3h2M4 5h1"/>
<path stroke="#218a84" d="M-8 -6h1M-6 -6h1M-1 -6h1M-2 -1h3M2 -1h2M-13 1h2M6 3h1M-12 4h1M2 6h1"/>
<path stroke="#229283" d="M-9 -6h1M-7 -6h1M-5 -6h2M5 -1h1M-15 4h3M-8 4h1M5 5h1M-3 6h1M-1 6h2"/>
<path stroke="#23997e" d="M-3 -6h1M0 -4h3M4 -4h1M6 -4h2M6 -1h1M8 -1h1M10 -1h3M3 2h1M9 2h1M-11 4h3M-3 5h1M-2 6h1M1 6h1"/>
<path stroke="#25a077" d="M-8 -5h1M-3 -5h1M1 -5h1M3 -4h1M5 -4h1M8 -4h1M-8 -2h4M-3 -2h1M7 -1h1M9 -1h1M-12 0h1M4 2h2M7 2h2M-14 3h2M-10 3h1M-8 3h1M-6 3h1M-11 5h1M-7 5h1M-2 5h1M0 5h1M3 5h1"/>
<path stroke="#27a670" d="M-9 -5h1M-7 -5h2M-4 -5h1M-2 -5h1M0 -5h1M2 -5h1M4 -5h3M-4 -2h1M-2 -2h4M-13 0h1M-11 0h2M6 2h1M-12 3h1M-9 3h1M-5 3h2M-9 5h2M-6 5h1M-1 5h1M1 5h1"/>
<path stroke="#28ad69" d="M-10 -5h1M-1 -5h1M3 -5h1M-11 3h1M-7 3h1M-7 4h3M-3 4h2M0 4h3M-10 5h1M-5 5h2M2 5h1"/>
<path stroke="#2ab361" d="M-4 2h1M-2 2h1M1 2h2M-4 4h1M-1 4h1"/>
<path stroke="#2cba5a" d="M-7 -1h1M1 0h1M-5 2h1M-3 2h1M-1 2h2M-2 3h1M1 3h1"/>
<path stroke="#2fc04e" d="M-9 -7h2M-3 -7h1M10 -2h3M-8 -1h1M-5 -1h3M-8 0h1M-5 0h1M2 0h2M-3 3h1M-1 3h2M2 3h1"/>
<path stroke="#32c543" d="M-7 -7h4M-11 -4h2M-6 -1h1M-4 0h3M0 0h1M4 0h1M7 0h1M11 0h1M3 4h3M7 4h1M3 6h1"/>
<path stroke="#35ca38" d="M-12 -2h1M-10 -2h1M-7 0h2M-1 0h1M5 0h2M8 0h2M-11 1h1M-9 1h1M-7 1h1M-5 1h1M-2 1h1M6 4h1M4 6h1"/>
<path stroke="#38d02c" d="M-9 -2h1M10 0h1M-10 1h1M-8 1h1M-6 1h1M-4 1h2"/>
<path stroke="#5bd72b" d="M-11 -2h1"/>
<path stroke="#a0e428" d="M-7 -4h1M9 -4h2"/>
<path stroke="#b9e523" d="M-9 -4h2M-5 -4h3M-1 -4h1M11 -4h3"/>
<path stroke="#d3e51f" d="M-2 -4h1M-11 -3h1M-8 -3h1M-4 -3h3M0 -3h1"/>
<path stroke="#ece61a" d="M-6 -4h1M-10 -3h2M-7 -3h3M-1 -3h1"/>
<path stroke="#eed61c" d="M14 -5h1"/>
</g>
<g transform="translate(535.00,327.00) rotate(95) translate(0,2.25) scale(2.2,4.5)" fill="none" stroke-width="0.93">
<path stroke="#185585" d="M4 3h1"/>
<path stroke="#1b5d89" d="M5 3h2"/>
<path stroke="#207b87" d="M-6 -4h1"/>
<path stroke="#208386" d="M1 -5h1M-5 -4h1M3 -3h1"/>
<path stroke="#218a84" d="M-7 -4h1M2 -3h1M4 -1h1"/>
<path stroke="#229283" d="M-2 -5h3M2 -5h3M1 -3h1M4 -3h1M3 -2h2M0 -1h4M2 1h3M2 2h3"/>
<path stroke="#23997e" d="M-3 -2h6M5 -1h1M0 2h2M-5 3h1"/>
<path stroke="#25a077" d="M-3 -3h2M0 -3h1M5 -2h1M-5 -1h1M-3 -1h2M5 1h1M-4 3h1"/>
<path stroke="#27a670" d="M-1 -3h1M-4 -1h1"/>
<path stroke="#28ad69" d="M-5 -3h2M-3 3h2M1 3h1M-5 4h1M-3 4h1"/>
<path stroke="#2ab361" d="M-1 -4h1M-1 3h2M2 3h2M-4 4h1M-2 4h1"/>
<path stroke="#2cba5a" d="M-4 -4h2M2 -4h2M5 2h1"/>
<path stroke="#2fc04e" d="M-2 -4h1M0 -4h2M4 -4h1M1 0h2M5 0h1"/>
<path stroke="#32c543" d="M3 0h2"/>
<path stroke="#35ca38" d="M-6 -3h1M-1 1h1"/>
<path stroke="#38d02c" d="M-4 1h1M1 1h1"/>
<path stroke="#5bd72b" d="M-6 1h2M-2 1h1M0 1h1"/>
<path stroke="#7ddd29" d="M-2 0h1M-3 1h1"/>
<path stroke="#a0e428" d="M-6 0h1M-4 0h2M-5 2h1M-3 2h2"/>
<path stroke="#b9e523" d="M-5 0h1M-1 0h1M-4 2h1"/>
<path stroke="#d3e51f" d="M-1 2h1"/>
<path stroke="#ece61a" d="M-4 -5h1"/>
<path stroke="#e19123" d="M-4 -2h1"/>
<path stroke="#de8b23" d="M-6 -2h1"/>
<path stroke="#db8424" d="M-5 -2h1"/>
</g>
<g transform="translate(508.00,395.00) rotate(75) translate(0,2.30) scale(2.2,4.6)" fill="none" stroke-width="0.93">
<path stroke="#0b3878" d="M-1 7h1M6 7h1"/>
<path stroke="#0b3878" d="M-7 -5h1M-5 -5h1M0 7h1M2 7h2M-8 9h3"/>
<path stroke="#0e3f7b" d="M-12 -5h5M-6 -5h1M-4 -5h1M-2 7h1M1 7h1M4 7h2M7 7h1M-5 9h1"/>
<path stroke="#11477f" d="M-4 9h1"/>
<path stroke="#144e82" d="M0 0h1"/>
<path stroke="#185585" d="M-6 0h2M-3 0h1M-1 0h1M1 0h1M5 6h2"/>
<path stroke="#1b5d89" d="M7 -4h1M10 -4h1M1 -2h2M4 -2h2M7 -2h1M-4 0h1M-2 0h1M7 6h3M6 9h1M7 11h1"/>
<path stroke="#1e648c" d="M-22 -5h1M-14 -4h1M3 -4h1M5 -4h2M9 -4h1M11 -4h2M15 -4h1M0 -2h1M3 -2h1M6 -2h1M7 4h1M8 9h1"/>
<path stroke="#1f6c8a" d="M-13 -9h2M-7 -9h2M-23 -5h1M-21 -5h6M-14 -5h2M-13 -4h5M-7 -4h1M4 -4h1M8 -4h1M13 -4h2M3 0h1M5 0h1M-1 4h1M2 4h2M5 4h1M8 4h3M7 9h1"/>
<path stroke="#1f7389" d="M-15 -10h1M-11 -9h2M-8 -9h1M-15 -7h2M-15 -5h1M-15 -4h1M-8 -4h1M4 0h1M6 0h1M11 2h2M0 4h2M4 4h1M6 4h1"/>
<path stroke="#207b87" d="M-16 -10h1M-14 -10h2M-11 -10h4M-9 -9h1M-19 -7h4M-13 -7h1M-10 -7h3M-1 -5h1M9 -5h1M2 0h1M8 2h3M-2 5h1M1 5h1M-1 9h1M4 9h2"/>
<path stroke="#208386" d="M-16 -13h2M-21 -10h1M-12 -10h1M-7 -10h1M-21 -7h2M-12 -7h2M-3 -5h2M2 -5h2M5 -5h3M10 -5h1M-12 -3h1M-1 5h2M2 5h5M8 5h2M-2 9h1M0 9h4"/>
<path stroke="#218a84" d="M-14 -13h1M-19 -12h1M-17 -12h1M-14 -11h1M-12 -11h3M-8 -11h1M-20 -10h1M0 -5h2M4 -5h1M8 -5h1M-15 -3h1M-11 -3h1M-8 -3h1M-6 -3h1M9 -3h1M12 -3h1M-3 5h1M7 5h1"/>
<path stroke="#229283" d="M-18 -13h2M-18 -12h1M-7 -12h1M-13 -11h1M-9 -11h1M-7 -11h2M-19 -10h2M-11 -8h1M-22 -7h1M-16 -3h1M-14 -3h2M-10 -3h2M-5 -3h1M8 -3h1M10 -3h2M-10 -2h1M-4 4h1M-2 4h1M-7 8h2M-3 8h2M2 8h1M4 8h1"/>
<path stroke="#23997e" d="M-6 -12h1M-4 -10h2M-1 -10h1M-18 -8h1M-16 -8h1M17 -8h1M-7 -7h5M14 -7h1M16 -7h1M-17 -6h1M-7 -3h1M-12 -2h2M-9 -2h1M12 -2h1M-1 -1h1M1 -1h1M4 -1h1M7 -1h1M-11 4h7M-3 4h1M-11 5h2M-8 8h1M-4 8h1M-1 8h3M3 8h1M0 10h2"/>
<path stroke="#25a077" d="M-19 -13h1M-6 -10h2M0 -10h1M4 -10h1M7 -10h1M-22 -8h4M-17 -8h1M-15 -8h4M-10 -8h2M5 -8h1M10 -8h1M14 -8h1M16 -8h1M-2 -7h5M12 -7h2M15 -7h1M-23 -6h5M-4 -3h1M-2 -3h1M1 -3h1M4 -3h3M8 -2h4M13 -2h2M0 -1h1M2 -1h2M5 -1h2M-9 2h2M-5 2h2M-2 2h1M8 7h1M-5 8h1"/>
<path stroke="#27a670" d="M-2 -10h1M1 -10h3M5 -10h2M8 -10h2M6 -8h4M11 -8h1M13 -8h1M15 -8h1M17 -7h1M-18 -6h1M-13 -6h1M-9 -6h1M-3 -3h1M-1 -3h2M2 -3h1M8 -1h1M3 1h1M7 1h1M-7 2h2M-3 2h1M-10 3h1M-7 3h1M-5 3h1M-3 3h1M9 7h1M-1 10h1"/>
<path stroke="#28ad69" d="M1 -9h2M12 -8h1M-15 -6h2M-12 -6h3M5 -6h2M3 -3h1M1 1h2M5 1h2M8 1h1M-8 3h1M-6 3h1M-4 3h1M-2 3h1M-11 6h1M-9 6h1"/>
<path stroke="#2ab361" d="M-16 -12h2M-11 -12h1M3 -9h1M6 -9h5M12 -9h3M2 -6h1M4 -6h1M13 -6h1M15 -6h2M15 -5h1M9 -1h1M-7 0h1M0 1h1M4 1h1M3 2h2M-9 3h1M0 3h3M4 3h3M8 3h4M11 4h1M-12 6h1M-10 6h1"/>
<path stroke="#2cba5a" d="M-14 -12h3M-10 -12h3M-5 -11h5M1 -11h1M4 -9h1M11 -9h1M3 -6h1M7 -6h2M10 -6h3M14 -6h1M12 -5h2M16 -5h1M10 -1h4M8 0h1M10 0h1M12 0h2M-1 2h1M1 2h2M5 2h1M7 2h1M3 3h1M7 3h1M-5 6h3M-1 6h1M1 6h1M3 6h1"/>
<path stroke="#2fc04e" d="M0 -11h1M-21 -9h1M-19 -9h2M5 -9h1M14 -5h1M-19 -4h1M-4 -4h1M1 -4h1M-7 -1h2M-4 -1h1M9 0h1M11 0h1M0 2h1M6 2h1M-9 5h1M-7 5h1M-8 6h3M-2 6h1M0 6h1M2 6h1"/>
<path stroke="#32c543" d="M-20 -9h1M-17 -9h4M-1 -9h1M15 -9h2M5 -7h2M8 -7h3M-4 -6h2M0 -6h1M-18 -4h3M-6 -4h2M-3 -4h4M2 -4h1M14 -3h2M-8 -1h1M-5 -1h1M-3 -1h2M10 1h3M-5 5h1M10 5h1M6 8h3"/>
<path stroke="#35ca38" d="M-17 -11h2M-5 -9h1M-3 -9h2M17 -9h1M3 -7h2M7 -7h1M-8 -6h2M-2 -6h2M1 -6h1M9 1h1M-8 5h1M-6 5h1M-4 5h1M5 8h1"/>
<path stroke="#38d02c" d="M-20 -11h1M-18 -11h1M-15 -11h1M-4 -9h1M-6 -6h2M-7 -2h1M-5 -2h3M-5 1h1M-13 8h1"/>
<path stroke="#5bd72b" d="M-19 -11h1M-4 -8h2M-1 -8h1M3 -8h1M-8 -2h1M-6 -2h1M-2 -2h2M-7 1h2M-4 1h1M-12 8h2M-9 8h1"/>
<path stroke="#7ddd29" d="M-8 -8h1M-6 -8h2M-2 -8h1M1 -8h2M-8 1h1M-3 1h1M-1 1h1M-14 8h1M-10 8h1"/>
<path stroke="#a0e428" d="M-7 -8h1M0 -8h1M4 -8h1M-2 1h1M-9 7h1M-7 7h2"/>
<path stroke="#b9e523" d="M-13 7h4M-8 7h1M-5 7h3"/>
<path stroke="#edde1b" d="M4 10h1"/>
<path stroke="#eed61c" d="M3 10h1M5 10h1M7 10h1"/>
<path stroke="#efce1d" d="M6 10h1"/>
</g>
<g fill="none" stroke-width="1.1" opacity="0.8"><path stroke="#0b3878" d="M527.7 369.2h1.1M537.5 377.8h1.1M517.2 387.4h1.1M498.7 332.2h1.1M505.4 324.9h1.1M506.9 320.7h1.1"/><path stroke="#11477f" d="M473.7 396.2h1.1M511.9 391.2h1.1M511.4 317.3h1.1M498.0 405.1h1.1M507.8 319.3h1.1M526.1 386.9h1.1M489.4 395.6h1.1M527.3 380.5h1.1M488.7 411.1h1.1M501.0 336.0h1.1M502.7 397.3h1.1M524.5 356.4h1.1M540.0 389.5h1.1M528.9 363.3h1.1"/><path stroke="#185585" d="M495.0 419.9h1.1M511.3 326.4h1.1M527.0 363.4h1.1M466.3 381.2h1.1M496.8 414.6h1.1M509.2 317.4h1.1M546.1 394.1h1.1M483.7 389.2h1.1M514.2 397.1h1.1M521.2 396.0h1.1M499.7 337.3h1.1M532.9 373.4h1.1M501.3 334.1h1.1M537.0 383.5h1.1M506.9 325.2h1.1M509.2 325.7h1.1M501.7 388.1h1.1M517.6 367.6h1.1M505.5 408.7h1.1M511.9 395.4h1.1M502.7 329.1h1.1M530.9 372.2h1.1M484.3 406.2h1.1M508.3 370.6h1.1M508.2 378.1h1.1M501.8 317.9h1.1M550.9 387.7h1.1M483.4 397.0h1.1M519.6 345.4h1.1M506.7 314.8h1.1M538.9 357.5h1.1M522.0 386.7h1.1M513.1 383.1h1.1M544.9 364.7h1.1M528.5 397.6h1.1M514.7 339.5h1.1M483.9 395.2h1.1M511.7 331.1h1.1M499.7 408.5h1.1M512.1 318.0h1.1M526.7 384.4h1.1M503.4 316.5h1.1M519.8 368.3h1.1M482.2 377.3h1.1M517.4 387.1h1.1M553.1 386.2h1.1M505.1 411.8h1.1M499.8 406.6h1.1M525.0 390.8h1.1"/><path stroke="#1e648c" d="M499.7 373.6h1.1M506.1 414.9h1.1M525.9 382.9h1.1M507.9 414.0h1.1M518.3 332.3h1.1M554.5 366.9h1.1M515.1 319.2h1.1M485.7 411.9h1.1M497.9 399.4h1.1M530.4 374.5h1.1M490.6 394.5h1.1M518.3 407.0h1.1M520.7 366.3h1.1M491.0 380.2h1.1M504.9 388.6h1.1M463.8 368.9h1.1M545.9 382.2h1.1M480.4 414.9h1.1M471.1 405.1h1.1M534.1 372.7h1.1M527.6 381.3h1.1M466.8 410.1h1.1M480.4 329.3h1.1M498.9 393.0h1.1M541.8 393.5h1.1M471.6 398.4h1.1M530.5 414.6h1.1M504.9 379.0h1.1M468.7 375.9h1.1M549.8 359.9h1.1M505.2 326.8h1.1M528.7 384.9h1.1M512.1 336.9h1.1M467.5 412.1h1.1M539.5 386.2h1.1M507.1 332.4h1.1M554.1 390.3h1.1M503.1 370.7h1.1M483.6 403.8h1.1M485.4 372.9h1.1M544.8 370.2h1.1M540.6 386.8h1.1M554.5 373.2h1.1M511.3 334.0h1.1M518.4 402.8h1.1M493.1 409.4h1.1M472.4 385.0h1.1M516.3 336.5h1.1M497.8 364.3h1.1M547.0 383.2h1.1M488.2 388.4h1.1M516.4 326.8h1.1M466.9 411.5h1.1M494.1 416.6h1.1M530.9 366.6h1.1"/><path stroke="#1f7389" d="M519.1 421.1h1.1M547.6 320.9h1.1M538.7 340.7h1.1M483.2 379.7h1.1M490.6 372.9h1.1M477.7 326.7h1.1M533.3 332.0h1.1M489.7 333.0h1.1M492.8 407.3h1.1M465.4 397.9h1.1M484.0 406.5h1.1M489.0 356.8h1.1M517.2 360.8h1.1M527.4 413.0h1.1M531.4 403.3h1.1M486.2 385.7h1.1M477.4 382.2h1.1M466.5 350.0h1.1M538.7 317.9h1.1M542.2 366.1h1.1M513.1 399.8h1.1M485.8 366.1h1.1M489.6 365.0h1.1M495.0 418.1h1.1M479.3 385.7h1.1M481.0 414.4h1.1M519.8 344.6h1.1M488.3 365.3h1.1M476.0 361.7h1.1M512.7 346.9h1.1M548.7 377.6h1.1M477.6 401.3h1.1M508.6 358.2h1.1M518.7 407.9h1.1M525.5 416.1h1.1M554.7 376.8h1.1M491.4 335.2h1.1M543.0 366.1h1.1M507.0 390.8h1.1M500.9 341.7h1.1M510.3 365.0h1.1M522.7 388.6h1.1M493.0 413.8h1.1M475.2 330.6h1.1M520.3 398.8h1.1M537.6 357.4h1.1M489.6 415.3h1.1M518.6 325.8h1.1M550.1 329.4h1.1M540.7 344.1h1.1M529.8 321.9h1.1M476.9 385.6h1.1M483.8 329.3h1.1M536.1 350.6h1.1M486.2 382.6h1.1M500.9 379.0h1.1M524.9 349.4h1.1M516.8 356.4h1.1M516.2 348.7h1.1M501.8 411.6h1.1M473.9 374.1h1.1M498.2 408.5h1.1M482.0 394.7h1.1M527.8 370.1h1.1M482.5 414.1h1.1M480.2 413.1h1.1M479.4 408.1h1.1M486.5 391.3h1.1M553.1 386.2h1.1M462.3 382.8h1.1M489.5 384.2h1.1M494.3 341.4h1.1M513.5 399.2h1.1M498.2 369.2h1.1M464.4 336.5h1.1M518.6 412.6h1.1M475.6 397.7h1.1M548.2 354.0h1.1M512.8 361.7h1.1M498.3 314.7h1.1M498.9 346.3h1.1"/><path stroke="#208386" d="M464.2 326.8h1.1M472.0 338.6h1.1M469.4 413.3h1.1M554.0 363.8h1.1M482.0 331.2h1.1M499.2 344.9h1.1M472.5 315.8h1.1M524.4 415.8h1.1M469.5 370.2h1.1M462.8 341.2h1.1M481.4 315.4h1.1M482.7 331.3h1.1M529.7 415.4h1.1M479.3 317.3h1.1M489.5 359.1h1.1M526.4 319.0h1.1M546.9 318.7h1.1M468.2 399.9h1.1M544.6 404.8h1.1M474.6 399.9h1.1M515.2 404.4h1.1M516.8 350.0h1.1M489.7 320.9h1.1M468.0 357.6h1.1M468.9 336.4h1.1M541.4 332.4h1.1M471.9 359.4h1.1M464.4 323.3h1.1M520.2 324.7h1.1M468.1 333.6h1.1M480.5 402.4h1.1M473.0 421.6h1.1M550.6 402.7h1.1M492.6 383.2h1.1M551.1 322.0h1.1M531.9 315.4h1.1M463.0 381.5h1.1M468.1 411.9h1.1M554.1 423.7h1.1M482.6 421.9h1.1M505.5 349.7h1.1M474.1 393.7h1.1M496.4 369.4h1.1M506.0 376.0h1.1M545.0 331.9h1.1M472.0 315.1h1.1M538.2 393.7h1.1M481.7 418.2h1.1M517.9 314.4h1.1M535.9 371.8h1.1M552.6 407.0h1.1M552.0 365.8h1.1M540.6 416.7h1.1M476.1 358.1h1.1M537.8 409.1h1.1M529.0 403.9h1.1M467.4 320.8h1.1M493.6 385.2h1.1M538.2 352.1h1.1M529.7 351.7h1.1M547.5 403.5h1.1M538.5 421.7h1.1M552.2 379.6h1.1M466.7 317.2h1.1M479.3 375.7h1.1M490.5 349.5h1.1M531.4 411.2h1.1M533.4 421.0h1.1M473.8 357.6h1.1M516.2 415.9h1.1M524.9 421.1h1.1M478.4 381.6h1.1M526.2 334.2h1.1M547.2 339.3h1.1M543.5 316.7h1.1M486.2 340.3h1.1M522.6 411.5h1.1M470.8 333.5h1.1M545.9 397.2h1.1"/><path stroke="#229283" d="M554.5 353.2h1.1M468.3 341.7h1.1M484.7 344.2h1.1M553.8 367.9h1.1M469.0 320.7h1.1M478.5 352.4h1.1M465.5 377.8h1.1M501.3 352.6h1.1M471.5 320.2h1.1M540.0 402.2h1.1M523.8 399.2h1.1M505.4 322.8h1.1M479.2 329.5h1.1M489.6 344.3h1.1M466.1 333.3h1.1M525.8 329.5h1.1M528.5 323.4h1.1M515.5 351.4h1.1M538.1 414.7h1.1M552.9 331.7h1.1M523.4 321.0h1.1M542.9 335.5h1.1M504.2 331.1h1.1M545.3 322.1h1.1M542.4 417.4h1.1M551.2 335.1h1.1M489.6 342.6h1.1M467.6 347.5h1.1M538.3 331.4h1.1M478.7 407.6h1.1M472.6 328.3h1.1M525.5 335.4h1.1M467.8 314.8h1.1"/><path stroke="#25a077" d="M541.7 421.7h1.1M470.8 410.4h1.1M538.5 416.6h1.1M538.7 412.9h1.1M546.3 405.0h1.1M462.1 376.7h1.1M526.3 334.4h1.1M498.4 388.3h1.1M504.3 407.4h1.1M542.4 413.7h1.1M494.1 416.1h1.1M522.2 319.2h1.1M525.2 392.8h1.1M553.0 340.8h1.1M538.4 422.2h1.1M503.3 322.1h1.1M525.7 335.1h1.1M510.5 334.5h1.1M492.2 387.8h1.1M540.1 333.2h1.1M539.7 413.2h1.1M517.7 404.9h1.1M540.1 324.3h1.1M535.6 335.7h1.1M524.6 391.3h1.1M531.6 385.7h1.1M525.7 391.5h1.1M546.8 409.9h1.1M532.8 360.0h1.1M529.0 341.4h1.1"/><path stroke="#28ad69" d="M499.4 390.0h1.1M512.6 367.6h1.1M547.0 358.6h1.1M491.6 379.3h1.1M506.4 345.3h1.1M501.6 317.6h1.1M523.6 349.7h1.1M510.2 396.9h1.1M494.3 408.4h1.1M472.3 383.7h1.1M500.3 389.1h1.1M535.5 359.5h1.1M505.1 398.7h1.1M502.4 322.8h1.1M552.9 415.2h1.1M502.1 339.7h1.1M524.3 362.2h1.1M519.4 370.3h1.1M514.7 335.2h1.1M500.1 405.9h1.1M520.9 345.8h1.1M539.2 386.6h1.1M504.4 315.8h1.1M549.1 321.5h1.1M500.5 337.5h1.1M484.1 387.9h1.1M524.4 370.8h1.1M493.6 406.7h1.1M531.4 375.2h1.1M494.3 335.9h1.1M531.4 372.8h1.1M485.9 392.6h1.1M506.1 387.8h1.1M544.5 338.3h1.1M495.5 420.1h1.1M511.7 360.9h1.1M528.7 384.8h1.1M499.1 323.0h1.1M507.9 328.3h1.1M478.7 378.8h1.1M515.0 370.8h1.1M531.6 373.0h1.1M488.6 316.0h1.1"/><path stroke="#2cba5a" d="M470.9 399.2h1.1M525.1 392.1h1.1M496.0 365.8h1.1M489.8 411.1h1.1M502.8 385.6h1.1M511.4 319.6h1.1M479.6 406.1h1.1M522.5 397.4h1.1M494.0 320.6h1.1M466.0 390.2h1.1M496.1 318.5h1.1M461.5 356.9h1.1M516.6 348.4h1.1M523.8 386.4h1.1M520.8 340.9h1.1M530.6 395.5h1.1M501.3 361.6h1.1M466.9 410.3h1.1M511.6 333.1h1.1M553.2 350.8h1.1M495.8 336.2h1.1M489.6 333.5h1.1M498.7 333.3h1.1M489.0 333.0h1.1M518.8 364.7h1.1M465.3 417.2h1.1M521.7 383.8h1.1M484.4 390.5h1.1M476.5 383.1h1.1M493.0 317.7h1.1M488.2 314.3h1.1M498.7 339.9h1.1M491.4 396.4h1.1M484.3 369.1h1.1M467.8 371.7h1.1M507.7 388.4h1.1M547.1 360.4h1.1M514.1 366.1h1.1M541.5 319.3h1.1M526.0 407.2h1.1M478.1 407.3h1.1M522.5 391.5h1.1M511.2 405.1h1.1M505.7 346.2h1.1M521.1 337.5h1.1M498.5 323.4h1.1M518.8 345.2h1.1M516.8 402.0h1.1M489.6 399.6h1.1M519.0 399.8h1.1M495.0 408.0h1.1M462.7 398.1h1.1M551.8 339.3h1.1M465.3 389.8h1.1M509.1 406.6h1.1M491.0 395.1h1.1M519.8 407.9h1.1M500.1 331.5h1.1M497.4 402.8h1.1M532.5 339.5h1.1M534.5 371.7h1.1M471.6 382.8h1.1M492.3 407.9h1.1M530.3 375.1h1.1M521.2 409.9h1.1M471.6 376.9h1.1M490.0 380.0h1.1M504.9 364.0h1.1M495.8 377.1h1.1M522.6 367.4h1.1M534.3 402.5h1.1M504.2 338.9h1.1M498.8 409.8h1.1M498.9 381.1h1.1M486.1 315.2h1.1"/><path stroke="#32c543" d="M483.3 364.1h1.1M544.1 377.8h1.1M521.6 405.9h1.1M513.9 322.0h1.1M530.9 389.5h1.1M487.0 355.6h1.1M525.9 410.6h1.1M472.0 373.4h1.1M534.1 383.4h1.1M498.0 365.5h1.1M551.5 347.7h1.1M463.6 323.5h1.1M519.6 387.1h1.1M472.1 406.0h1.1M471.2 405.1h1.1M542.2 357.1h1.1M498.7 378.0h1.1M461.9 360.1h1.1M477.7 371.9h1.1M525.9 322.7h1.1M496.7 404.6h1.1M523.1 350.2h1.1M555.0 381.3h1.1M488.0 319.1h1.1M519.9 396.6h1.1M464.8 368.5h1.1M485.9 417.3h1.1M528.0 356.9h1.1M502.0 379.2h1.1M499.9 349.6h1.1M493.8 331.4h1.1M476.2 356.1h1.1M487.9 371.6h1.1M529.2 400.7h1.1M522.7 349.8h1.1M524.1 399.0h1.1M465.6 376.1h1.1M537.4 345.1h1.1M465.1 408.3h1.1M488.9 320.9h1.1M504.2 366.6h1.1M528.4 393.8h1.1M543.8 350.5h1.1M489.0 349.1h1.1M552.2 359.3h1.1M533.8 391.6h1.1M477.1 325.8h1.1M496.5 381.1h1.1M504.3 383.2h1.1M527.5 403.9h1.1M515.6 373.2h1.1M509.6 396.2h1.1M522.9 366.5h1.1M484.4 413.2h1.1M515.5 387.3h1.1M485.2 410.5h1.1M471.3 387.8h1.1M529.8 391.7h1.1M465.6 384.1h1.1M472.9 323.5h1.1M547.8 362.6h1.1M532.2 323.8h1.1M533.4 371.2h1.1M470.7 380.7h1.1M524.2 354.9h1.1M486.3 323.8h1.1M552.2 366.2h1.1M491.9 314.6h1.1M540.9 362.8h1.1M540.7 411.6h1.1M479.9 333.8h1.1M539.6 383.1h1.1M525.8 412.6h1.1M524.9 399.5h1.1M487.9 420.0h1.1M473.5 374.1h1.1M490.9 325.6h1.1M481.0 332.4h1.1M512.0 321.3h1.1M526.3 315.3h1.1M545.2 336.2h1.1M464.8 341.9h1.1M487.6 336.6h1.1M550.8 387.5h1.1M485.8 337.6h1.1M535.7 345.5h1.1M475.6 316.2h1.1"/><path stroke="#38d02c" d="M495.0 351.3h1.1M468.1 324.4h1.1M471.6 382.8h1.1M554.9 397.7h1.1M552.9 382.4h1.1M545.0 399.2h1.1M528.2 351.4h1.1M513.7 319.9h1.1M506.9 415.0h1.1M489.7 415.6h1.1M469.4 413.3h1.1M462.6 325.3h1.1M477.5 364.1h1.1M474.9 345.7h1.1M537.7 359.0h1.1M552.3 422.7h1.1M479.7 339.0h1.1M503.7 356.1h1.1M483.6 322.3h1.1M475.6 423.6h1.1M467.7 400.1h1.1M514.3 356.5h1.1M554.9 319.5h1.1M481.6 377.8h1.1M527.4 346.1h1.1M544.6 343.8h1.1M535.1 404.9h1.1M483.9 409.5h1.1M469.5 346.4h1.1M531.9 373.2h1.1M536.5 364.8h1.1M511.2 386.2h1.1M498.4 360.4h1.1M539.6 399.6h1.1M517.2 397.4h1.1M472.6 330.8h1.1M549.8 394.5h1.1M537.6 373.2h1.1M476.3 316.1h1.1M467.0 349.5h1.1M534.4 409.4h1.1M525.4 315.0h1.1M488.5 331.3h1.1M485.9 375.6h1.1M507.4 420.2h1.1M476.3 388.5h1.1M535.0 422.6h1.1M530.1 337.0h1.1M461.6 341.7h1.1M504.1 417.9h1.1M553.5 357.4h1.1M468.2 344.8h1.1M545.2 326.9h1.1M468.6 410.2h1.1M461.7 368.9h1.1M472.3 346.5h1.1M473.8 344.5h1.1M492.8 420.5h1.1M539.2 351.3h1.1M508.6 350.7h1.1M475.3 334.3h1.1M477.4 322.3h1.1M546.5 410.3h1.1M533.3 346.1h1.1M528.9 420.2h1.1M470.9 330.3h1.1M464.8 328.2h1.1M526.6 314.2h1.1M471.2 409.0h1.1M465.1 356.1h1.1M549.6 360.6h1.1M520.4 354.7h1.1M496.1 316.2h1.1M532.2 323.1h1.1M513.3 401.0h1.1M466.5 387.9h1.1M474.4 334.1h1.1M472.7 315.8h1.1M489.6 379.5h1.1M488.0 353.8h1.1M469.3 360.1h1.1M479.2 317.7h1.1M494.3 340.1h1.1M510.0 355.1h1.1M503.0 363.4h1.1M539.6 328.0h1.1M463.1 336.1h1.1M486.0 332.8h1.1M481.3 316.0h1.1M551.3 395.5h1.1M477.8 320.5h1.1M493.8 378.1h1.1M470.0 414.0h1.1M467.6 408.9h1.1"/><path stroke="#7ddd29" d="M487.2 339.6h1.1M484.2 348.9h1.1M488.8 358.7h1.1M534.9 335.2h1.1M545.7 348.4h1.1M513.0 369.5h1.1M473.3 353.4h1.1M480.5 350.1h1.1M531.5 420.6h1.1M540.8 407.6h1.1M469.6 405.3h1.1M545.1 406.3h1.1M533.4 416.7h1.1M466.5 419.0h1.1M535.9 349.3h1.1M490.9 353.2h1.1M479.2 341.0h1.1M485.2 416.5h1.1M465.6 316.5h1.1M477.6 415.6h1.1M554.0 320.3h1.1M543.5 416.0h1.1M486.4 334.3h1.1M482.8 336.8h1.1M541.5 415.4h1.1M475.2 352.3h1.1M480.6 412.4h1.1M533.1 423.3h1.1M485.9 332.0h1.1M520.0 319.6h1.1M521.8 317.2h1.1M469.2 411.8h1.1M475.1 345.5h1.1M524.8 326.0h1.1M551.9 421.5h1.1M496.9 354.2h1.1M545.3 332.2h1.1M482.1 335.6h1.1M477.4 423.8h1.1"/><path stroke="#b9e523" d="M486.0 321.1h1.1M462.6 331.4h1.1M525.6 318.6h1.1M543.7 327.5h1.1M529.5 339.9h1.1M504.2 370.2h1.1M540.0 421.0h1.1M538.1 416.2h1.1M482.2 351.5h1.1M473.9 334.8h1.1M475.7 317.6h1.1M549.6 417.4h1.1M548.2 417.0h1.1"/><path stroke="#ece61a" d="M481.4 349.5h1.1M551.7 416.6h1.1"/></g>
</g>
<path fill="#fff" d="M505.0,345.0 L511.0,341.0 L518.9,338.8 L531.4,333.4 L536.8,335.2 L555.0,338.8 L555.0,362.0 L549.3,363.8 L535.0,365.6 L526.0,367.4 L518.9,370.9 L510.9,369.1 L507.0,360.0 Z"/>
<path fill="#fff" d="M461.5,337.0 L470.7,337.0 L470.7,346.0 L461.5,346.0 Z"/>
<path fill="#fff" d="M461.5,314.0 L483.0,314.0 L483.0,333.0 L475.0,334.0 L461.5,334.0 Z"/>
<path fill="#fff" d="M483.2,382.5 L497.5,382.5 L497.5,390.6 L483.2,390.6 Z"/>
<path fill="#fff" d="M510.0,397.7 L520.7,397.7 L520.7,408.4 L510.0,408.4 Z"/>
<path fill="#fff" d="M502.9,388.8 L507.3,388.8 L507.3,396.0 L502.9,396.0 Z"/>
<path fill="#fff" d="M470.7,417.4 L479.6,417.4 L479.6,424.0 L470.7,424.0 Z"/>
<path fill="#fff" d="M544.0,380.0 L555.0,380.0 L555.0,387.0 L544.0,387.0 Z"/>
<path fill="#fff" d="M542.0,405.0 L553.0,405.0 L553.0,412.0 L542.0,412.0 Z"/>
<polyline fill="none" stroke="#fff" stroke-opacity="0.9" stroke-width="1" points="461.8,344.0 483.2,424.0"/>
<polyline fill="none" stroke="#fff" stroke-opacity="0.9" stroke-width="1" points="470.7,337.0 495.7,333.4"/>
<polyline fill="none" stroke="#fff" stroke-opacity="0.9" stroke-width="1" points="465.4,356.6 510.0,344.0"/>
<polyline fill="none" stroke="#fff" stroke-opacity="0.9" stroke-width="1" points="465.0,372.0 500.0,364.0"/>
<polyline fill="none" stroke="#fff" stroke-opacity="0.9" stroke-width="1" points="495.7,314.0 498.4,346.0"/>
<polyline fill="none" stroke="#fff" stroke-opacity="0.9" stroke-width="1" points="511.8,314.0 513.6,344.0"/>
<polyline fill="none" stroke="#fff" stroke-opacity="0.9" stroke-width="1" points="520.0,371.0 530.0,424.0"/>
<polyline fill="none" stroke="#fff" stroke-opacity="0.9" stroke-width="1" points="500.0,395.0 556.0,385.0"/>
<polyline fill="none" stroke="#fff" stroke-opacity="0.9" stroke-width="1" points="490.0,410.0 555.0,398.0"/>
</g>
<rect x="461.5" y="314.0" width="93.5" height="110.0" fill="none" stroke="#222" stroke-width="1.2"/>
<text x="467.6" y="330.8" font-family="'Liberation Serif','Times New Roman',serif" font-weight="bold" font-size="18">B</text>
<rect x="46.5" y="582.4" width="243.89999999999998" height="40.60000000000002" fill="#fff" stroke="#7a7a7a" stroke-width="1"/>
<rect x="51.3" y="582.9" width="14.799999999999997" height="30.600000000000023" fill="url(#hg1)" stroke="#3a3a3a" stroke-width="0.65" stroke-dasharray="1.6,1"/>
<rect x="75.3" y="582.9" width="15.100000000000009" height="25.600000000000023" fill="url(#hg1)" stroke="#3a3a3a" stroke-width="0.65" stroke-dasharray="1.6,1"/>
<rect x="99.6" y="582.9" width="15.100000000000009" height="30.600000000000023" fill="url(#hg1)" stroke="#3a3a3a" stroke-width="0.65" stroke-dasharray="1.6,1"/>
<rect x="124" y="582.9" width="15" height="24.700000000000045" fill="url(#hg1)" stroke="#3a3a3a" stroke-width="0.65" stroke-dasharray="1.6,1"/>
<rect x="148.5" y="582.9" width="15.099999999999994" height="22.5" fill="url(#hg1)" stroke="#3a3a3a" stroke-width="0.65" stroke-dasharray="1.6,1"/>
<rect x="172.4" y="582.9" width="15.299999999999983" height="19.600000000000023" fill="url(#hg1)" stroke="#3a3a3a" stroke-width="0.65" stroke-dasharray="1.6,1"/>
<rect x="197" y="582.9" width="15" height="22.100000000000023" fill="url(#hg1)" stroke="#3a3a3a" stroke-width="0.65" stroke-dasharray="1.6,1"/>
<rect x="221.3" y="582.9" width="15.099999999999994" height="20.700000000000045" fill="url(#hg1)" stroke="#3a3a3a" stroke-width="0.65" stroke-dasharray="1.6,1"/>
<rect x="245.6" y="582.9" width="15.099999999999994" height="19.800000000000068" fill="url(#hg1)" stroke="#3a3a3a" stroke-width="0.65" stroke-dasharray="1.6,1"/>
<rect x="270" y="582.9" width="15" height="20.700000000000045" fill="url(#hg1)" stroke="#3a3a3a" stroke-width="0.65" stroke-dasharray="1.6,1"/>
<line x1="290.4" y1="582.4" x2="292.9" y2="582.4" stroke="#555" stroke-width="0.8"/>
<line x1="290.4" y1="602.7" x2="292.9" y2="602.7" stroke="#555" stroke-width="0.8"/>
<line x1="290.4" y1="623.0" x2="292.9" y2="623.0" stroke="#555" stroke-width="0.8"/>
<text transform="translate(296.2,582.9) rotate(180)" x="0" y="3.1" text-anchor="middle" font-family="'Liberation Serif','Times New Roman',serif" font-weight="bold" font-size="9">10</text>
<text transform="translate(296.2,603.3) rotate(180)" x="0" y="3.1" text-anchor="middle" font-family="'Liberation Serif','Times New Roman',serif" font-weight="bold" font-size="9">11</text>
<text transform="translate(296.2,623.0) rotate(180)" x="0" y="3.1" text-anchor="middle" font-family="'Liberation Serif','Times New Roman',serif" font-weight="bold" font-size="9">12</text>
<text transform="translate(306.4,602.8) rotate(90)" text-anchor="middle" font-family="'Liberation Serif','Times New Roman',serif" font-weight="bold" font-size="9.5">C:N ratio</text>
<rect x="309.3" y="318.5" width="40.39999999999998" height="236.5" fill="#fff" stroke="#7a7a7a" stroke-width="1"/>
<rect x="309.8" y="322.7" width="18.099999999999966" height="14.600000000000023" fill="url(#hg2)" stroke="#3a3a3a" stroke-width="0.65" stroke-dasharray="1.6,1"/>
<rect x="309.8" y="346.4" width="20.099999999999966" height="14.100000000000023" fill="url(#hg2)" stroke="#3a3a3a" stroke-width="0.65" stroke-dasharray="1.6,1"/>
<rect x="309.8" y="370.2" width="17.099999999999966" height="14.100000000000023" fill="url(#hg2)" stroke="#3a3a3a" stroke-width="0.65" stroke-dasharray="1.6,1"/>
<rect x="309.8" y="393.8" width="24.099999999999966" height="14.599999999999966" fill="url(#hg2)" stroke="#3a3a3a" stroke-width="0.65" stroke-dasharray="1.6,1"/>
<rect x="309.8" y="417.7" width="24.899999999999977" height="14.5" fill="url(#hg2)" stroke="#3a3a3a" stroke-width="0.65" stroke-dasharray="1.6,1"/>
<rect x="309.8" y="441.1" width="27.0" height="14.599999999999966" fill="url(#hg2)" stroke="#3a3a3a" stroke-width="0.65" stroke-dasharray="1.6,1"/>
<rect x="309.8" y="465" width="29.19999999999999" height="14.5" fill="url(#hg2)" stroke="#3a3a3a" stroke-width="0.65" stroke-dasharray="1.6,1"/>
<rect x="309.8" y="488.6" width="29.0" height="14.5" fill="url(#hg2)" stroke="#3a3a3a" stroke-width="0.65" stroke-dasharray="1.6,1"/>
<rect x="309.8" y="512.2" width="27.0" height="14.399999999999977" fill="url(#hg2)" stroke="#3a3a3a" stroke-width="0.65" stroke-dasharray="1.6,1"/>
<rect x="309.8" y="535.7" width="33.599999999999966" height="14.899999999999977" fill="url(#hg2)" stroke="#3a3a3a" stroke-width="0.65" stroke-dasharray="1.6,1"/>
<line x1="309.3" y1="555.0" x2="309.3" y2="557.5" stroke="#555" stroke-width="0.8"/>
<line x1="329.5" y1="555.0" x2="329.5" y2="557.5" stroke="#555" stroke-width="0.8"/>
<line x1="349.7" y1="555.0" x2="349.7" y2="557.5" stroke="#555" stroke-width="0.8"/>
<text transform="translate(309.3,558.3) rotate(90)" x="3.9" y="3.1" text-anchor="middle" font-family="'Liberation Serif','Times New Roman',serif" font-weight="bold" font-size="8.8">10</text>
<text transform="translate(329.5,558.3) rotate(90)" x="3.9" y="3.1" text-anchor="middle" font-family="'Liberation Serif','Times New Roman',serif" font-weight="bold" font-size="8.8">11</text>
<text transform="translate(349.7,558.3) rotate(90)" x="3.9" y="3.1" text-anchor="middle" font-family="'Liberation Serif','Times New Roman',serif" font-weight="bold" font-size="8.8">12</text>
<text x="328.8" y="579.3" text-anchor="middle" font-family="'Liberation Serif','Times New Roman',serif" font-weight="bold" font-size="9.3" textLength="36.8" lengthAdjust="spacingAndGlyphs">C:N ratio</text>
<rect x="378.7" y="435.5" width="174.59999999999997" height="154.5" fill="#fff"/>
<line x1="378.7" y1="566.2" x2="553.3" y2="566.2" stroke="#9a9a9a" stroke-width="0.9" stroke-dasharray="3.2,2.4"/>
<line x1="378.7" y1="542.3" x2="553.3" y2="542.3" stroke="#9a9a9a" stroke-width="0.9" stroke-dasharray="3.2,2.4"/>
<line x1="378.7" y1="518.5" x2="553.3" y2="518.5" stroke="#9a9a9a" stroke-width="0.9" stroke-dasharray="3.2,2.4"/>
<line x1="378.7" y1="494.6" x2="553.3" y2="494.6" stroke="#9a9a9a" stroke-width="0.9" stroke-dasharray="3.2,2.4"/>
<line x1="378.7" y1="470.8" x2="553.3" y2="470.8" stroke="#9a9a9a" stroke-width="0.9" stroke-dasharray="3.2,2.4"/>
<line x1="378.7" y1="447.0" x2="553.3" y2="447.0" stroke="#9a9a9a" stroke-width="0.9" stroke-dasharray="3.2,2.4"/>
<rect x="378.70" y="589.28" width="17.46" height="0.72" fill="url(#hb)" stroke="#2c3e66" stroke-width="0.7"/>
<rect x="396.16" y="587.14" width="17.46" height="2.86" fill="url(#hb)" stroke="#2c3e66" stroke-width="0.7"/>
<rect x="413.62" y="578.08" width="17.46" height="11.92" fill="url(#hb)" stroke="#2c3e66" stroke-width="0.7"/>
<rect x="431.08" y="534.21" width="17.46" height="55.79" fill="url(#hb)" stroke="#2c3e66" stroke-width="0.7"/>
<rect x="448.54" y="463.65" width="17.46" height="126.35" fill="url(#hb)" stroke="#2c3e66" stroke-width="0.7"/>
<rect x="466.00" y="455.07" width="17.46" height="134.93" fill="url(#hb)" stroke="#2c3e66" stroke-width="0.7"/>
<rect x="483.46" y="505.13" width="17.46" height="84.87" fill="url(#hb)" stroke="#2c3e66" stroke-width="0.7"/>
<rect x="500.92" y="546.61" width="17.46" height="43.39" fill="url(#hb)" stroke="#2c3e66" stroke-width="0.7"/>
<rect x="518.38" y="574.98" width="17.46" height="15.02" fill="url(#hb)" stroke="#2c3e66" stroke-width="0.7"/>
<rect x="535.84" y="588.33" width="17.46" height="1.67" fill="url(#hb)" stroke="#2c3e66" stroke-width="0.7"/>
<line x1="431.08" y1="578.08" x2="431.08" y2="590.0" stroke="#1d2b4a" stroke-width="0.8" stroke-dasharray="2,1.5"/>
<line x1="448.54" y1="534.21" x2="448.54" y2="590.0" stroke="#1d2b4a" stroke-width="0.8" stroke-dasharray="2,1.5"/>
<line x1="466.00" y1="463.65" x2="466.00" y2="590.0" stroke="#1d2b4a" stroke-width="0.8" stroke-dasharray="2,1.5"/>
<line x1="483.46" y1="505.13" x2="483.46" y2="590.0" stroke="#1d2b4a" stroke-width="0.8" stroke-dasharray="2,1.5"/>
<line x1="500.92" y1="546.61" x2="500.92" y2="590.0" stroke="#1d2b4a" stroke-width="0.8" stroke-dasharray="2,1.5"/>
<line x1="518.38" y1="574.98" x2="518.38" y2="590.0" stroke="#1d2b4a" stroke-width="0.8" stroke-dasharray="2,1.5"/>
<polyline points="382.7,589.4 383.8,589.4 384.9,589.4 386.0,589.4 387.1,589.4 388.2,589.4 389.2,589.3 390.3,589.3 391.4,589.3 392.5,589.2 393.6,589.2 394.7,589.1 395.8,589.0 396.9,588.9 398.0,588.8 399.1,588.7 400.2,588.6 401.3,588.4 402.4,588.3 403.5,588.1 404.6,587.8 405.7,587.6 406.8,587.3 407.8,586.9 408.9,586.5 410.0,586.1 411.1,585.6 412.2,585.1 413.3,584.5 414.4,583.8 415.5,583.0 416.6,582.2 417.7,581.3 418.8,580.2 419.9,579.1 421.0,577.9 422.1,576.6 423.2,575.1 424.2,573.5 425.3,571.8 426.4,570.0 427.5,568.0 428.6,565.9 429.7,563.6 430.8,561.2 431.9,558.6 433.0,555.9 434.1,553.0 435.2,550.0 436.3,546.8 437.4,543.5 438.5,540.1 439.6,536.5 440.7,532.8 441.8,529.0 442.8,525.2 443.9,521.2 445.0,517.2 446.1,513.1 447.2,509.0 448.3,504.8 449.4,500.7 450.5,496.6 451.6,492.6 452.7,488.6 453.8,484.7 454.9,481.0 456.0,477.3 457.1,473.9 458.2,470.6 459.2,467.6 460.3,464.7 461.4,462.1 462.5,459.8 463.6,457.8 464.7,456.1 465.8,454.6 466.9,453.5 468.0,452.7 469.1,452.3 470.2,452.2 471.3,452.4 472.4,452.8 473.5,453.5 474.6,454.4 475.7,455.6 476.8,457.0 477.8,458.7 478.9,460.6 480.0,462.7 481.1,464.9 482.2,467.4 483.3,470.1 484.4,472.9 485.5,475.9 486.6,479.0 487.7,482.2 488.8,485.5 489.9,488.9 491.0,492.4 492.1,495.9 493.2,499.5 494.2,503.1 495.3,506.7 496.4,510.3 497.5,513.9 498.6,517.5 499.7,521.0 500.8,524.5 501.9,527.9 503.0,531.3 504.1,534.5 505.2,537.7 506.3,540.8 507.4,543.8 508.5,546.7 509.6,549.5 510.7,552.1 511.8,554.7 512.8,557.1 513.9,559.5 515.0,561.7 516.1,563.8 517.2,565.8 518.3,567.7 519.4,569.4 520.5,571.1 521.6,572.6 522.7,574.1 523.8,575.4 524.9,576.7 526.0,577.8 527.1,578.9 528.2,579.9 529.2,580.8 530.3,581.7 531.4,582.5 532.5,583.2 533.6,583.8 534.7,584.4 535.8,585.0 536.9,585.5 538.0,585.9 539.1,586.3 540.2,586.7 541.3,587.0 542.4,587.3 543.5,587.5 544.6,587.8 545.7,588.0" fill="none" stroke="#b36a38" stroke-width="1.15"/>
<rect x="378.7" y="435.5" width="174.59999999999997" height="154.5" fill="none" stroke="#111" stroke-width="1.2"/>
<line x1="378.7" y1="590.0" x2="553.3" y2="590.0" stroke="#111" stroke-width="1.6"/>
<line x1="375.7" y1="590.0" x2="378.7" y2="590.0" stroke="#111" stroke-width="1"/>
<text x="374.2" y="593.1" text-anchor="end" font-family="'Liberation Serif','Times New Roman',serif" font-weight="bold" font-size="9">0</text>
<line x1="375.7" y1="566.2" x2="378.7" y2="566.2" stroke="#111" stroke-width="1"/>
<text x="374.2" y="569.3" text-anchor="end" font-family="'Liberation Serif','Times New Roman',serif" font-weight="bold" font-size="9">5</text>
<line x1="375.7" y1="542.3" x2="378.7" y2="542.3" stroke="#111" stroke-width="1"/>
<text x="374.2" y="545.4" text-anchor="end" font-family="'Liberation Serif','Times New Roman',serif" font-weight="bold" font-size="9">10</text>
<line x1="375.7" y1="518.5" x2="378.7" y2="518.5" stroke="#111" stroke-width="1"/>
<text x="374.2" y="521.6" text-anchor="end" font-family="'Liberation Serif','Times New Roman',serif" font-weight="bold" font-size="9">15</text>
<line x1="375.7" y1="494.6" x2="378.7" y2="494.6" stroke="#111" stroke-width="1"/>
<text x="374.2" y="497.7" text-anchor="end" font-family="'Liberation Serif','Times New Roman',serif" font-weight="bold" font-size="9">20</text>
<line x1="375.7" y1="470.8" x2="378.7" y2="470.8" stroke="#111" stroke-width="1"/>
<text x="374.2" y="473.9" text-anchor="end" font-family="'Liberation Serif','Times New Roman',serif" font-weight="bold" font-size="9">25</text>
<line x1="375.7" y1="447.0" x2="378.7" y2="447.0" stroke="#111" stroke-width="1"/>
<text x="374.2" y="450.1" text-anchor="end" font-family="'Liberation Serif','Times New Roman',serif" font-weight="bold" font-size="9">30</text>
<line x1="387.43" y1="590.0" x2="387.43" y2="593.0" stroke="#111" stroke-width="1"/>
<text transform="translate(392.63,598.6) rotate(-33)" text-anchor="end" font-family="'Liberation Serif','Times New Roman',serif" font-weight="bold" font-size="8.4">&lt;9</text>
<line x1="404.89" y1="590.0" x2="404.89" y2="593.0" stroke="#111" stroke-width="1"/>
<text transform="translate(410.09,598.6) rotate(-33)" text-anchor="end" font-family="'Liberation Serif','Times New Roman',serif" font-weight="bold" font-size="8.4">9-9.5</text>
<line x1="422.35" y1="590.0" x2="422.35" y2="593.0" stroke="#111" stroke-width="1"/>
<text transform="translate(427.55,598.6) rotate(-33)" text-anchor="end" font-family="'Liberation Serif','Times New Roman',serif" font-weight="bold" font-size="8.4">9.5-10</text>
<line x1="439.81" y1="590.0" x2="439.81" y2="593.0" stroke="#111" stroke-width="1"/>
<text transform="translate(445.01,598.6) rotate(-33)" text-anchor="end" font-family="'Liberation Serif','Times New Roman',serif" font-weight="bold" font-size="8.4">10-10.5</text>
<line x1="457.27" y1="590.0" x2="457.27" y2="593.0" stroke="#111" stroke-width="1"/>
<text transform="translate(462.47,598.6) rotate(-33)" text-anchor="end" font-family="'Liberation Serif','Times New Roman',serif" font-weight="bold" font-size="8.4">10.5-11</text>
<line x1="474.73" y1="590.0" x2="474.73" y2="593.0" stroke="#111" stroke-width="1"/>
<text transform="translate(479.93,598.6) rotate(-33)" text-anchor="end" font-family="'Liberation Serif','Times New Roman',serif" font-weight="bold" font-size="8.4">11-11.5</text>
<line x1="492.19" y1="590.0" x2="492.19" y2="593.0" stroke="#111" stroke-width="1"/>
<text transform="translate(497.39,598.6) rotate(-33)" text-anchor="end" font-family="'Liberation Serif','Times New Roman',serif" font-weight="bold" font-size="8.4">11.5-12</text>
<line x1="509.65" y1="590.0" x2="509.65" y2="593.0" stroke="#111" stroke-width="1"/>
<text transform="translate(514.85,598.6) rotate(-33)" text-anchor="end" font-family="'Liberation Serif','Times New Roman',serif" font-weight="bold" font-size="8.4">12-12.5</text>
<line x1="527.11" y1="590.0" x2="527.11" y2="593.0" stroke="#111" stroke-width="1"/>
<text transform="translate(532.31,598.6) rotate(-33)" text-anchor="end" font-family="'Liberation Serif','Times New Roman',serif" font-weight="bold" font-size="8.4">12.5-13</text>
<line x1="544.57" y1="590.0" x2="544.57" y2="593.0" stroke="#111" stroke-width="1"/>
<text transform="translate(549.77,598.6) rotate(-33)" text-anchor="end" font-family="'Liberation Serif','Times New Roman',serif" font-weight="bold" font-size="8.4">&gt;13</text>
<text x="469.6" y="620.8" text-anchor="middle" font-family="'Liberation Serif','Times New Roman',serif" font-weight="bold" font-size="9" textLength="59.3" lengthAdjust="spacingAndGlyphs">C:N ratio content</text>
<text transform="translate(363.3,512) rotate(-90)" text-anchor="middle" font-family="'Liberation Serif','Times New Roman',serif" font-weight="bold" font-size="9" textLength="62" lengthAdjust="spacingAndGlyphs">Percentage (%)</text>
<text x="390.5" y="468.3" font-family="'Liberation Serif','Times New Roman',serif" font-weight="bold" font-size="24">d</text>
</svg></body></html>
